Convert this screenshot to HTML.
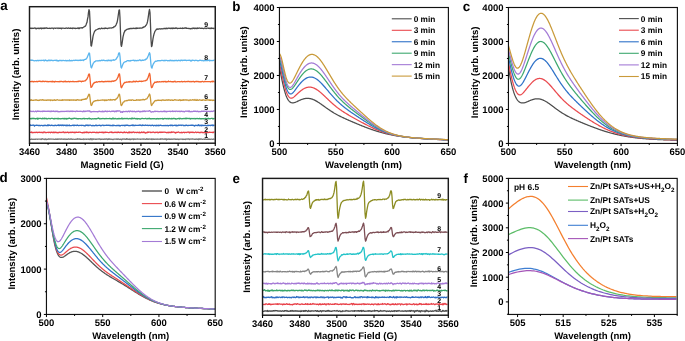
<!DOCTYPE html>
<html><head><meta charset="utf-8"><style>html,body{margin:0;padding:0;background:#fff;overflow:hidden}svg{display:block;will-change:transform;text-rendering:geometricPrecision;filter:blur(0.3px)}</style></head>
<body>
<svg width="685" height="341" viewBox="0 0 685 341" style="font-family:'Liberation Sans', sans-serif;font-weight:bold">
<rect width="685" height="341" fill="#fff"/>
<text x="0.3" y="10" font-size="13.4" text-anchor="start" >a</text>
<text x="232.3" y="10.6" font-size="13.4" text-anchor="start" >b</text>
<text x="462.7" y="10.6" font-size="13.4" text-anchor="start" >c</text>
<text x="-0.4" y="182.4" font-size="13.4" text-anchor="start" >d</text>
<text x="232.5" y="182.6" font-size="13.4" text-anchor="start" >e</text>
<text x="463.5" y="183.2" font-size="13.4" text-anchor="start" >f</text>
<path d="M30,139.28 L30.5,139.38 L31,139.27 L31.5,138.91 L32,139.4 L32.5,139.3 L33,139.08 L33.5,139.33 L34,139.28 L34.5,139.26 L35,139.21 L35.5,139.32 L36,139.04 L36.5,139.16 L37,139.09 L37.5,139.33 L38,139.21 L38.5,139.14 L39,139.03 L39.5,139.14 L40,139.2 L40.5,139.14 L41,139.48 L41.5,139.42 L42,138.6 L42.5,138.78 L43,139.16 L43.5,139.11 L44,139.25 L44.5,139.25 L45,139.67 L45.5,138.96 L46,139.12 L46.5,139.65 L47,139.34 L47.5,139.35 L48,139.09 L48.5,138.84 L49,139.24 L49.5,139.22 L50,138.93 L50.5,139.05 L51,139.18 L51.5,138.99 L52,139.18 L52.5,139.22 L53,139.21 L53.5,139.09 L54,139.33 L54.5,139.4 L55,139.27 L55.5,139.02 L56,139.36 L56.5,139.09 L57,139.39 L57.5,138.96 L58,139.4 L58.5,139.2 L59,138.93 L59.5,139.13 L60,139.21 L60.5,139.26 L61,138.98 L61.5,138.96 L62,139.24 L62.5,139.1 L63,139.25 L63.5,139.37 L64,138.84 L64.5,139.26 L65,139.47 L65.5,139.13 L66,139.02 L66.5,139.37 L67,139.26 L67.5,139.4 L68,139.12 L68.5,138.87 L69,139.18 L69.5,139.1 L70,139.37 L70.5,139.24 L71,138.84 L71.5,138.94 L72,139.39 L72.5,139.35 L73,139.06 L73.5,139.2 L74,139.3 L74.5,139.3 L75,139.39 L75.5,139.26 L76,139.18 L76.5,139.14 L77,139.43 L77.5,138.7 L78,139.17 L78.5,139.21 L79,138.89 L79.5,139.27 L80,139.06 L80.5,139.39 L81,139.17 L81.5,139.35 L82,139.47 L82.5,139.28 L83,139.01 L83.5,138.87 L84,139.59 L84.5,139.18 L85,139.05 L85.5,139.23 L86,139.16 L86.5,139.39 L87,139.21 L87.5,139.2 L88,139.04 L88.5,139.3 L89,138.97 L89.5,139.35 L90,139.54 L90.5,138.86 L91,138.66 L91.5,139.34 L92,139.76 L92.5,138.98 L93,138.92 L93.5,139.33 L94,139.02 L94.5,139.09 L95,139.12 L95.5,139.32 L96,139.11 L96.5,139.26 L97,139.16 L97.5,139.01 L98,139.13 L98.5,138.99 L99,139.2 L99.5,138.95 L100,138.96 L100.5,139.52 L101,139.19 L101.5,139.19 L102,139.31 L102.5,139.11 L103,139.15 L103.5,139.29 L104,139.26 L104.5,138.94 L105,139.38 L105.5,139.07 L106,138.97 L106.5,139 L107,139.11 L107.5,139.56 L108,138.94 L108.5,139.24 L109,138.73 L109.5,139.2 L110,139.4 L110.5,139.15 L111,139.06 L111.5,139.25 L112,139.35 L112.5,139.35 L113,139.63 L113.5,139.25 L114,139.07 L114.5,139.17 L115,139.18 L115.5,139.22 L116,139.19 L116.5,139.24 L117,138.83 L117.5,139.38 L118,139.07 L118.5,138.94 L119,139.34 L119.5,139.49 L120,139.31 L120.5,139.24 L121,138.99 L121.5,139.83 L122,139.39 L122.5,138.95 L123,139.03 L123.5,139.22 L124,138.86 L124.5,139.24 L125,139.1 L125.5,139.47 L126,139.41 L126.5,138.6 L127,139.21 L127.5,138.84 L128,139.44 L128.5,139.24 L129,139.32 L129.5,138.97 L130,139.6 L130.5,139.64 L131,138.97 L131.5,139.28 L132,139.05 L132.5,139.19 L133,138.92 L133.5,139.61 L134,138.99 L134.5,139.13 L135,139.31 L135.5,139.06 L136,139.15 L136.5,139.08 L137,139.17 L137.5,138.94 L138,139.1 L138.5,139.15 L139,139.13 L139.5,139.21 L140,139.14 L140.5,139.37 L141,139.13 L141.5,139.17 L142,139.05 L142.5,139.08 L143,138.92 L143.5,139.31 L144,138.95 L144.5,139.04 L145,139.28 L145.5,139.29 L146,139.11 L146.5,138.76 L147,139.29 L147.5,139.26 L148,138.89 L148.5,139.37 L149,139.05 L149.5,138.95 L150,139.22 L150.5,139.16 L151,139.24 L151.5,138.85 L152,139.6 L152.5,139.07 L153,138.86 L153.5,139.34 L154,139.12 L154.5,139.27 L155,139.13 L155.5,139.19 L156,139.25 L156.5,139.04 L157,139.35 L157.5,139.1 L158,139.01 L158.5,139.22 L159,139.3 L159.5,139.15 L160,139.01 L160.5,139.34 L161,138.81 L161.5,138.97 L162,139.21 L162.5,138.9 L163,139.21 L163.5,139.19 L164,139.4 L164.5,139 L165,139.06 L165.5,139.27 L166,138.66 L166.5,139.88 L167,139.05 L167.5,139.04 L168,139.39 L168.5,139.19 L169,138.81 L169.5,139.34 L170,139.39 L170.5,139.1 L171,139.14 L171.5,139.31 L172,139 L172.5,139.3 L173,139.24 L173.5,139.05 L174,138.89 L174.5,139.15 L175,139.01 L175.5,139.42 L176,139.23 L176.5,139.37 L177,139.23 L177.5,139.26 L178,139.03 L178.5,139.35 L179,139.59 L179.5,139.13 L180,139.07 L180.5,139.17 L181,139.09 L181.5,139.05 L182,139.23 L182.5,139.14 L183,139.52 L183.5,139.2 L184,139.27 L184.5,139.41 L185,139.13 L185.5,139.52 L186,139.06 L186.5,139.02 L187,139.12 L187.5,139.17 L188,138.89 L188.5,139.19 L189,138.83 L189.5,139.51 L190,139.18 L190.5,139.06 L191,139 L191.5,139.12 L192,139.15 L192.5,138.97 L193,139 L193.5,139.16 L194,139.09 L194.5,139.41 L195,139.45 L195.5,139.2 L196,139.3 L196.5,138.91 L197,139.34 L197.5,139.19 L198,139.31 L198.5,139.55 L199,138.7 L199.5,139.26 L200,138.96 L200.5,139.33 L201,138.91 L201.5,139.09 L202,139.24 L202.5,139.33 L203,139.22 L203.5,139.03 L204,139.08 L204.5,139.39 L205,139.2 L205.5,138.83 L206,139.39 L206.5,139.29 L207,139.39 L207.5,139.13 L208,139.38 L208.5,138.97 L209,139.33 L209.5,139.09 L210,139.35 L210.5,139.42 L211,139.04 L211.5,139.19 L212,139.21 L212.5,139.46 L213,139.36 L213.5,138.93 L214,139.3 L214.5,139.36" stroke="#7a7a7a" stroke-width="1.3" fill="none" stroke-linejoin="round"/>
<path d="M30,132.44 L30.5,132.28 L31,132.31 L31.5,131.86 L32,132.8 L32.5,132.65 L33,132.33 L33.5,132.57 L34,132.46 L34.5,132.28 L35,132.62 L35.5,132.33 L36,132.33 L36.5,132.23 L37,132.5 L37.5,132.38 L38,132.52 L38.5,132.27 L39,132.43 L39.5,132.2 L40,132.59 L40.5,132.44 L41,132.47 L41.5,132.49 L42,132.18 L42.5,132.57 L43,132.85 L43.5,132.04 L44,132.02 L44.5,132.07 L45,132.59 L45.5,132.43 L46,132.64 L46.5,132.56 L47,132.45 L47.5,132.46 L48,132.36 L48.5,132.59 L49,132.15 L49.5,132.31 L50,132.45 L50.5,132.8 L51,132.23 L51.5,132.16 L52,132.28 L52.5,132.61 L53,132.35 L53.5,132.69 L54,131.99 L54.5,132.65 L55,132.63 L55.5,132.09 L56,132.43 L56.5,132.67 L57,132.42 L57.5,132.62 L58,132.92 L58.5,132.46 L59,132.34 L59.5,132.23 L60,132.54 L60.5,132.36 L61,132.36 L61.5,132.38 L62,132.54 L62.5,132.17 L63,132.06 L63.5,131.86 L64,132.66 L64.5,132.42 L65,132.73 L65.5,132.4 L66,132.24 L66.5,132.51 L67,132.38 L67.5,132.12 L68,132.21 L68.5,132.79 L69,132.48 L69.5,132.49 L70,132.34 L70.5,132.25 L71,132.6 L71.5,132.38 L72,132.23 L72.5,132.37 L73,132.2 L73.5,132.44 L74,132.65 L74.5,132.22 L75,132.71 L75.5,132.25 L76,132.43 L76.5,132.22 L77,132.35 L77.5,132.41 L78,132.3 L78.5,132.25 L79,132.25 L79.5,132.22 L80,132.05 L80.5,132.34 L81,132.49 L81.5,132.6 L82,132.54 L82.5,132.94 L83,132.47 L83.5,132.3 L84,132.81 L84.5,132.17 L85,132.61 L85.5,132.19 L86,132.48 L86.5,131.97 L87,132.6 L87.5,132.37 L88,132.19 L88.5,132.77 L89,132.57 L89.5,132.41 L90,132.24 L90.5,132.39 L91,132.36 L91.5,132.56 L92,132.58 L92.5,132.25 L93,132.28 L93.5,132.28 L94,132.1 L94.5,132.27 L95,132.38 L95.5,132.55 L96,132.69 L96.5,132.22 L97,132.52 L97.5,132.3 L98,132.86 L98.5,132.39 L99,132.51 L99.5,132.19 L100,132.22 L100.5,132.44 L101,132.32 L101.5,132.48 L102,132.06 L102.5,132.55 L103,132.2 L103.5,132.78 L104,132.34 L104.5,132.64 L105,132.09 L105.5,132.49 L106,132.2 L106.5,132.29 L107,132.41 L107.5,132.33 L108,132.46 L108.5,132.56 L109,132.54 L109.5,132.38 L110,132.1 L110.5,132.22 L111,132.36 L111.5,131.93 L112,132.57 L112.5,132.35 L113,132.34 L113.5,132.61 L114,132.55 L114.5,132.45 L115,132.18 L115.5,132.47 L116,132.48 L116.5,132.21 L117,132.63 L117.5,132.51 L118,131.97 L118.5,132.43 L119,132.12 L119.5,132.65 L120,132.58 L120.5,132.16 L121,132.21 L121.5,132.42 L122,132.35 L122.5,132.74 L123,132.56 L123.5,132.34 L124,132.53 L124.5,131.95 L125,132.47 L125.5,132.59 L126,132.36 L126.5,132.24 L127,132.52 L127.5,132.83 L128,132.45 L128.5,132.15 L129,132.72 L129.5,131.99 L130,132.51 L130.5,132.27 L131,132.6 L131.5,132.21 L132,132.69 L132.5,132.47 L133,132.02 L133.5,131.97 L134,132.33 L134.5,132.68 L135,132.43 L135.5,132.41 L136,132.35 L136.5,132.56 L137,132.48 L137.5,132.46 L138,132.18 L138.5,132.66 L139,132.7 L139.5,132.11 L140,132.91 L140.5,132.56 L141,132.29 L141.5,131.98 L142,132.54 L142.5,132.52 L143,132.27 L143.5,132.01 L144,132.65 L144.5,132.27 L145,132.3 L145.5,133.03 L146,132.87 L146.5,132.61 L147,132.3 L147.5,132.54 L148,131.9 L148.5,132.42 L149,132.23 L149.5,132.12 L150,132.05 L150.5,132.52 L151,132.42 L151.5,132.44 L152,132.59 L152.5,132.21 L153,132.13 L153.5,132.01 L154,132.33 L154.5,132.57 L155,132.37 L155.5,132.54 L156,132.14 L156.5,132.3 L157,132.23 L157.5,132.13 L158,132.81 L158.5,132.59 L159,132.23 L159.5,132.23 L160,132.39 L160.5,132.08 L161,132.5 L161.5,132.12 L162,132.32 L162.5,132.17 L163,132.29 L163.5,132.11 L164,132.05 L164.5,132.19 L165,132.25 L165.5,132.34 L166,132.42 L166.5,132.74 L167,132.58 L167.5,132.34 L168,132.56 L168.5,132.25 L169,132.72 L169.5,132.52 L170,132.1 L170.5,132.57 L171,132.58 L171.5,131.81 L172,132.24 L172.5,132.3 L173,131.98 L173.5,132.17 L174,132.19 L174.5,132.51 L175,132.47 L175.5,132.98 L176,132.31 L176.5,132.65 L177,132.42 L177.5,132.46 L178,132.14 L178.5,131.98 L179,132.23 L179.5,132.57 L180,132.75 L180.5,132.53 L181,132.51 L181.5,132.22 L182,132.74 L182.5,132.7 L183,132.28 L183.5,132.39 L184,132.18 L184.5,132.72 L185,132.49 L185.5,132.38 L186,132.49 L186.5,132.5 L187,132.31 L187.5,132.13 L188,132.12 L188.5,132.02 L189,132.5 L189.5,132.89 L190,132.03 L190.5,132.43 L191,132.49 L191.5,132.18 L192,132.44 L192.5,132.16 L193,132.66 L193.5,132.27 L194,132.42 L194.5,132.55 L195,132.31 L195.5,132.01 L196,132.28 L196.5,132.57 L197,132.38 L197.5,132.45 L198,132.16 L198.5,132.43 L199,132.56 L199.5,132.41 L200,132.82 L200.5,132.35 L201,132.17 L201.5,132.04 L202,132.65 L202.5,132.39 L203,132.62 L203.5,132.5 L204,132.76 L204.5,132.68 L205,132.32 L205.5,132.46 L206,132.64 L206.5,132.13 L207,132.72 L207.5,132.67 L208,132.62 L208.5,132.36 L209,132.47 L209.5,132.15 L210,132.41 L210.5,132.27 L211,132.42 L211.5,132.29 L212,132.46 L212.5,132.66 L213,132.11 L213.5,132.6 L214,131.96 L214.5,131.92" stroke="#e8424a" stroke-width="1.3" fill="none" stroke-linejoin="round"/>
<path d="M30,125.85 L30.5,124.84 L31,125.49 L31.5,125.28 L32,125.3 L32.5,125.35 L33,124.96 L33.5,125.35 L34,125.21 L34.5,126.13 L35,125.45 L35.5,125.32 L36,125.34 L36.5,125.25 L37,125.17 L37.5,125.31 L38,125.51 L38.5,125.35 L39,125.61 L39.5,125.36 L40,125.41 L40.5,125.74 L41,125.52 L41.5,125.29 L42,125.36 L42.5,125.52 L43,125.83 L43.5,125.34 L44,125.35 L44.5,125.62 L45,125.2 L45.5,125.34 L46,125.59 L46.5,125.53 L47,125.42 L47.5,125.55 L48,124.78 L48.5,125.62 L49,125.19 L49.5,125.03 L50,125.46 L50.5,125.55 L51,125.3 L51.5,125.16 L52,125.41 L52.5,125.39 L53,125.71 L53.5,125.56 L54,125.44 L54.5,125.64 L55,125.35 L55.5,125.2 L56,125.53 L56.5,125.53 L57,125.35 L57.5,125.23 L58,125.45 L58.5,124.85 L59,125.55 L59.5,125.51 L60,125.04 L60.5,125.41 L61,125.19 L61.5,125.57 L62,124.95 L62.5,125.2 L63,125.56 L63.5,125.65 L64,124.93 L64.5,125.29 L65,125.47 L65.5,125.27 L66,125.75 L66.5,125.14 L67,125.48 L67.5,125.17 L68,125.71 L68.5,125.4 L69,125.32 L69.5,125.02 L70,125.77 L70.5,125.57 L71,125.57 L71.5,125.65 L72,125.48 L72.5,125.26 L73,125.22 L73.5,125.22 L74,125.7 L74.5,125.08 L75,125.27 L75.5,125.33 L76,125.45 L76.5,125.53 L77,125.13 L77.5,125.02 L78,125.4 L78.5,125.67 L79,125.57 L79.5,125.45 L80,125.33 L80.5,125.46 L81,125.35 L81.5,125.58 L82,125.23 L82.5,125.43 L83,125.38 L83.5,125.52 L84,125.45 L84.5,125.96 L85,125.73 L85.5,125.73 L86,124.95 L86.5,125.33 L87,125.27 L87.5,125.52 L88,124.9 L88.5,125.66 L89,125.63 L89.5,125.11 L90,125.18 L90.5,125.22 L91,125.41 L91.5,125.54 L92,125.85 L92.5,125.36 L93,125.57 L93.5,125.43 L94,125.79 L94.5,125.56 L95,125.7 L95.5,125.16 L96,125.36 L96.5,125.22 L97,125.73 L97.5,125.54 L98,125.33 L98.5,125.3 L99,125.51 L99.5,125.25 L100,125.2 L100.5,125.51 L101,125.94 L101.5,125.35 L102,125.28 L102.5,125.14 L103,125.11 L103.5,125.52 L104,125.59 L104.5,125.4 L105,125.47 L105.5,125.43 L106,125.43 L106.5,125.06 L107,125.3 L107.5,125.42 L108,125.23 L108.5,125.3 L109,125.22 L109.5,125.33 L110,125.59 L110.5,125.31 L111,125.37 L111.5,125.58 L112,125.54 L112.5,125.77 L113,124.94 L113.5,125.59 L114,125.29 L114.5,125.43 L115,125.58 L115.5,125.64 L116,125.63 L116.5,125.43 L117,125.75 L117.5,125.34 L118,125.37 L118.5,125.58 L119,125.28 L119.5,125.88 L120,125.62 L120.5,125.88 L121,125.39 L121.5,125.32 L122,125.44 L122.5,125.56 L123,125.27 L123.5,125.48 L124,125.4 L124.5,125.76 L125,125.25 L125.5,125.63 L126,125.26 L126.5,125.19 L127,125.24 L127.5,125.14 L128,125.43 L128.5,125.63 L129,125.44 L129.5,125.54 L130,125.76 L130.5,125.46 L131,125.44 L131.5,125.34 L132,125.05 L132.5,125.57 L133,125.01 L133.5,125.54 L134,125.4 L134.5,125.65 L135,125.39 L135.5,125.22 L136,125.48 L136.5,125.28 L137,125.36 L137.5,125.41 L138,125.37 L138.5,125.36 L139,125.22 L139.5,125.36 L140,124.93 L140.5,125.37 L141,125.14 L141.5,125.65 L142,125.68 L142.5,124.97 L143,125.43 L143.5,125.37 L144,125.17 L144.5,125.52 L145,125.3 L145.5,125.01 L146,125.34 L146.5,125.37 L147,125.42 L147.5,125.13 L148,125.54 L148.5,125.56 L149,125.15 L149.5,125.26 L150,125.38 L150.5,125.28 L151,125.78 L151.5,125.45 L152,125.18 L152.5,125.23 L153,125.39 L153.5,125.91 L154,125.36 L154.5,125.43 L155,125.51 L155.5,125.39 L156,125.9 L156.5,125.28 L157,125.56 L157.5,125.44 L158,125.54 L158.5,125.14 L159,125.79 L159.5,125.37 L160,125.41 L160.5,125.19 L161,125.24 L161.5,125.52 L162,125.62 L162.5,125.57 L163,125.67 L163.5,125.56 L164,125.41 L164.5,125.58 L165,125.53 L165.5,125.38 L166,125.56 L166.5,125.68 L167,125.45 L167.5,125.32 L168,125.56 L168.5,125.82 L169,125.35 L169.5,125.38 L170,125.37 L170.5,125.67 L171,125 L171.5,125.48 L172,125.66 L172.5,125.22 L173,125.73 L173.5,125.52 L174,125.28 L174.5,125.44 L175,125.06 L175.5,125.28 L176,125.8 L176.5,125.2 L177,125.81 L177.5,125.38 L178,125.62 L178.5,125.41 L179,124.91 L179.5,125.27 L180,125.44 L180.5,125.15 L181,125.1 L181.5,125.48 L182,125.26 L182.5,125.03 L183,125.25 L183.5,125.59 L184,125.3 L184.5,125.61 L185,125.74 L185.5,125.41 L186,125.15 L186.5,125.11 L187,125.39 L187.5,125.59 L188,125.46 L188.5,125.52 L189,125.3 L189.5,125.47 L190,125.3 L190.5,125.33 L191,125.12 L191.5,125.05 L192,125.29 L192.5,125.16 L193,125.19 L193.5,125.55 L194,125.38 L194.5,126.04 L195,125.6 L195.5,125.26 L196,125.57 L196.5,125.48 L197,125.25 L197.5,125.64 L198,125.23 L198.5,124.73 L199,125.57 L199.5,125.26 L200,125.73 L200.5,125.26 L201,125.14 L201.5,125.74 L202,125.16 L202.5,125.44 L203,125.72 L203.5,125.43 L204,125.38 L204.5,125.42 L205,125.58 L205.5,125.22 L206,125.53 L206.5,125.53 L207,125.91 L207.5,125.33 L208,125.2 L208.5,125.56 L209,125.31 L209.5,125.46 L210,125.43 L210.5,125.66 L211,125.26 L211.5,125.38 L212,124.84 L212.5,125.2 L213,125.74 L213.5,125.25 L214,125.25 L214.5,125.13" stroke="#2f6fc4" stroke-width="1.3" fill="none" stroke-linejoin="round"/>
<path d="M30,118.46 L30.5,118.56 L31,118.97 L31.5,118.75 L32,118.24 L32.5,118.6 L33,118.46 L33.5,118.63 L34,118.25 L34.5,118.65 L35,118.65 L35.5,118.95 L36,118.67 L36.5,118.71 L37,118.27 L37.5,119.1 L38,118.18 L38.5,118.84 L39,118.53 L39.5,118.41 L40,118.46 L40.5,118.45 L41,118.68 L41.5,118.58 L42,118.93 L42.5,118.2 L43,118.6 L43.5,118.4 L44,118.77 L44.5,118.13 L45,118.52 L45.5,118.65 L46,118.27 L46.5,118.82 L47,118.64 L47.5,118.82 L48,118.81 L48.5,118.38 L49,118.42 L49.5,118.56 L50,118.76 L50.5,118.79 L51,118.44 L51.5,118.47 L52,118.42 L52.5,118.47 L53,118.55 L53.5,118.57 L54,119.05 L54.5,118.49 L55,118.54 L55.5,118.7 L56,118.39 L56.5,118.52 L57,118.6 L57.5,118.77 L58,118.31 L58.5,118.9 L59,118.52 L59.5,118.64 L60,118.79 L60.5,118.75 L61,118.83 L61.5,118.64 L62,118.6 L62.5,118.67 L63,118.38 L63.5,118.87 L64,118.43 L64.5,118.32 L65,119.05 L65.5,118.57 L66,118.34 L66.5,119.01 L67,118.53 L67.5,118.83 L68,118.42 L68.5,118.55 L69,118.23 L69.5,118.18 L70,118.39 L70.5,118.58 L71,118.78 L71.5,119.13 L72,118.37 L72.5,118.82 L73,118.47 L73.5,118.57 L74,118.27 L74.5,118.27 L75,118.43 L75.5,118.34 L76,118.6 L76.5,118.45 L77,118.88 L77.5,118.63 L78,118.64 L78.5,118.85 L79,118.71 L79.5,118.59 L80,118.58 L80.5,118.57 L81,118.84 L81.5,118.77 L82,118.68 L82.5,118.78 L83,118.48 L83.5,118.71 L84,118.29 L84.5,118.9 L85,118.62 L85.5,118.64 L86,118.73 L86.5,118.6 L87,118.54 L87.5,118.86 L88,118.63 L88.5,118.4 L89,118.7 L89.5,118.22 L90,118.96 L90.5,118.56 L91,118.61 L91.5,119.1 L92,119.07 L92.5,118.63 L93,118.74 L93.5,118.84 L94,118.97 L94.5,118.57 L95,118.63 L95.5,118.87 L96,118.66 L96.5,118.77 L97,118.73 L97.5,118.35 L98,118.41 L98.5,118.02 L99,118.54 L99.5,118.89 L100,118.36 L100.5,118.87 L101,118.82 L101.5,118.59 L102,118.6 L102.5,118.62 L103,118.41 L103.5,118.54 L104,118.59 L104.5,118.73 L105,118.77 L105.5,118.44 L106,118.78 L106.5,118.43 L107,118.56 L107.5,118.68 L108,118.6 L108.5,118.57 L109,118.66 L109.5,118.48 L110,118.46 L110.5,118.56 L111,118.81 L111.5,118.58 L112,119.02 L112.5,118.65 L113,117.95 L113.5,118.5 L114,118.97 L114.5,118.6 L115,118.5 L115.5,118.41 L116,118.89 L116.5,118.82 L117,118.75 L117.5,118.69 L118,118.92 L118.5,118.78 L119,118.33 L119.5,118.77 L120,118.64 L120.5,118.58 L121,118.77 L121.5,118.61 L122,117.95 L122.5,118.94 L123,118.83 L123.5,118.57 L124,118.52 L124.5,118.65 L125,118.32 L125.5,118.67 L126,118.55 L126.5,118.52 L127,118.4 L127.5,118.45 L128,118.84 L128.5,118.89 L129,118.71 L129.5,118.59 L130,118.41 L130.5,118.76 L131,118.95 L131.5,118.24 L132,118.86 L132.5,118.12 L133,118.53 L133.5,118.68 L134,118.3 L134.5,118.27 L135,118.64 L135.5,118.79 L136,118.5 L136.5,118.9 L137,118.43 L137.5,118.99 L138,118.63 L138.5,118.65 L139,118.74 L139.5,118.67 L140,119.01 L140.5,119.09 L141,118.72 L141.5,118.56 L142,118.34 L142.5,118.43 L143,118.6 L143.5,118.58 L144,118.59 L144.5,118.6 L145,118.71 L145.5,118.3 L146,118.37 L146.5,118.85 L147,118.78 L147.5,118.48 L148,118.88 L148.5,118.45 L149,118.54 L149.5,118.2 L150,118.79 L150.5,118.6 L151,118.84 L151.5,118.76 L152,118.62 L152.5,118.64 L153,118.86 L153.5,118.57 L154,118.57 L154.5,118.62 L155,118.78 L155.5,118.81 L156,119.03 L156.5,118.59 L157,118.88 L157.5,118.46 L158,118.74 L158.5,118.64 L159,118.99 L159.5,118.74 L160,118.51 L160.5,118.74 L161,118.69 L161.5,118.54 L162,118.55 L162.5,118.4 L163,119.22 L163.5,118.64 L164,118.82 L164.5,118.35 L165,118.37 L165.5,118.58 L166,118.58 L166.5,118.79 L167,118.39 L167.5,118.73 L168,118.94 L168.5,118.41 L169,118.81 L169.5,118.4 L170,118.69 L170.5,118.69 L171,118.99 L171.5,118.46 L172,118.65 L172.5,118.84 L173,118.35 L173.5,118.61 L174,118.42 L174.5,118.46 L175,118.76 L175.5,118.77 L176,119.18 L176.5,118.91 L177,118.89 L177.5,118.57 L178,118.54 L178.5,118.64 L179,118.11 L179.5,118.98 L180,118.46 L180.5,118.38 L181,118.51 L181.5,118.8 L182,118.88 L182.5,118.53 L183,118.7 L183.5,118.6 L184,118.39 L184.5,118.64 L185,118.61 L185.5,118.27 L186,118.85 L186.5,118.26 L187,118.66 L187.5,118.37 L188,118.43 L188.5,118.45 L189,118.76 L189.5,118.33 L190,118.56 L190.5,118.95 L191,118.45 L191.5,118.6 L192,118.75 L192.5,118.48 L193,118.71 L193.5,118.46 L194,118.76 L194.5,118.62 L195,118.4 L195.5,118.91 L196,118.58 L196.5,118.54 L197,118.4 L197.5,118.5 L198,118.58 L198.5,118.64 L199,118.84 L199.5,118.31 L200,118.53 L200.5,118.87 L201,118.64 L201.5,118.69 L202,118.95 L202.5,118.68 L203,118.71 L203.5,118.59 L204,118.99 L204.5,118.83 L205,118.44 L205.5,118.72 L206,118.35 L206.5,118.84 L207,118.75 L207.5,118.57 L208,118.51 L208.5,118.21 L209,118.77 L209.5,118.58 L210,118.53 L210.5,118.76 L211,118.45 L211.5,118.47 L212,118.45 L212.5,118.3 L213,119.13 L213.5,118.56 L214,118.52 L214.5,118.8" stroke="#3aa56a" stroke-width="1.3" fill="none" stroke-linejoin="round"/>
<path d="M30,111.22 L30.5,111.11 L31,111.35 L31.5,111.49 L32,111.65 L32.5,111.42 L33,111.28 L33.5,111.23 L34,111.56 L34.5,111.76 L35,111.46 L35.5,111.13 L36,111.19 L36.5,111.75 L37,111.44 L37.5,111.02 L38,111.38 L38.5,111.14 L39,111.26 L39.5,111.29 L40,111.24 L40.5,111.52 L41,111.39 L41.5,111.27 L42,111.49 L42.5,111.58 L43,111.04 L43.5,111.34 L44,111.18 L44.5,111.36 L45,111.12 L45.5,111.4 L46,111.39 L46.5,111.33 L47,111.17 L47.5,111.31 L48,111.16 L48.5,111.1 L49,111.45 L49.5,111.16 L50,111.66 L50.5,111.56 L51,110.96 L51.5,111.46 L52,111.16 L52.5,111.41 L53,111.41 L53.5,110.96 L54,111.35 L54.5,111.34 L55,111.61 L55.5,111.14 L56,111.56 L56.5,111.16 L57,111.33 L57.5,111.21 L58,111.72 L58.5,111.52 L59,111.93 L59.5,111.54 L60,111.59 L60.5,111.58 L61,111.27 L61.5,111.38 L62,111.7 L62.5,111.31 L63,111.44 L63.5,111.39 L64,111.53 L64.5,111.32 L65,111.37 L65.5,111.45 L66,111.42 L66.5,111.21 L67,111.6 L67.5,111.11 L68,111.13 L68.5,111.12 L69,111.61 L69.5,111.32 L70,111.18 L70.5,111.15 L71,111.49 L71.5,111.17 L72,111.12 L72.5,111.53 L73,111.13 L73.5,111.33 L74,111.4 L74.5,111.3 L75,111.38 L75.5,111.69 L76,111.28 L76.5,111.12 L77,110.99 L77.5,111.35 L78,111.32 L78.5,111.45 L79,111.29 L79.5,111.29 L80,111.23 L80.5,111.27 L81,111.42 L81.5,111.3 L82,111.4 L82.5,111.8 L83,111.48 L83.5,111.02 L84,111.74 L84.5,111.42 L85,111.13 L85.5,111.52 L86,111.29 L86.5,111.12 L87,111.06 L87.5,110.91 L88,111.04 L88.5,111.14 L89,110.74 L89.5,110.94 L90,111.58 L90.5,111.38 L91,112.01 L91.5,111.92 L92,111.65 L92.5,111.54 L93,111.66 L93.5,111.69 L94,111.43 L94.5,111.52 L95,111.64 L95.5,111.53 L96,111.64 L96.5,111.54 L97,111.54 L97.5,111.83 L98,111.56 L98.5,111.45 L99,111.57 L99.5,111.21 L100,111.34 L100.5,111.58 L101,111.55 L101.5,111.75 L102,111.41 L102.5,111.08 L103,111.83 L103.5,111.64 L104,111.17 L104.5,111.7 L105,111.41 L105.5,111 L106,111.31 L106.5,111.29 L107,111.75 L107.5,111.22 L108,111.34 L108.5,111.33 L109,111.31 L109.5,111.19 L110,111.44 L110.5,111.63 L111,111.52 L111.5,111.18 L112,111.13 L112.5,111.4 L113,111.22 L113.5,111.23 L114,110.99 L114.5,111.78 L115,111.54 L115.5,111.11 L116,111.5 L116.5,111.56 L117,110.69 L117.5,111.02 L118,110.97 L118.5,111.07 L119,110.8 L119.5,110.78 L120,111.08 L120.5,111.97 L121,112.4 L121.5,111.88 L122,111.7 L122.5,112.38 L123,111.47 L123.5,111.48 L124,111.56 L124.5,111.62 L125,111.71 L125.5,111.55 L126,111.26 L126.5,111.55 L127,111.49 L127.5,111.84 L128,111.42 L128.5,111.12 L129,111.19 L129.5,111.73 L130,111.29 L130.5,110.95 L131,111.28 L131.5,111.41 L132,111.67 L132.5,111.18 L133,111.55 L133.5,111.58 L134,111.25 L134.5,111.36 L135,111.79 L135.5,111.78 L136,111.59 L136.5,111.47 L137,111.65 L137.5,111.37 L138,111.38 L138.5,111.21 L139,111.4 L139.5,111.38 L140,112 L140.5,111.35 L141,111.67 L141.5,111.68 L142,111.34 L142.5,111.64 L143,110.9 L143.5,111.39 L144,111.55 L144.5,110.83 L145,111.09 L145.5,111.56 L146,111.25 L146.5,111.04 L147,111.16 L147.5,111.07 L148,111.27 L148.5,111.1 L149,110.82 L149.5,110.65 L150,110.89 L150.5,111.58 L151,111.83 L151.5,112.13 L152,111.94 L152.5,111.57 L153,111.58 L153.5,111.79 L154,111.6 L154.5,111.33 L155,111.15 L155.5,111.5 L156,111.39 L156.5,111.37 L157,111.37 L157.5,111.49 L158,111.49 L158.5,111.63 L159,111.62 L159.5,111.71 L160,111.59 L160.5,111.34 L161,111.4 L161.5,111.52 L162,111.34 L162.5,111.53 L163,111.66 L163.5,111.23 L164,111.02 L164.5,111.67 L165,111.41 L165.5,111.56 L166,111.11 L166.5,111.78 L167,111.57 L167.5,111.37 L168,111.32 L168.5,111.43 L169,111.37 L169.5,111.34 L170,111.16 L170.5,111.68 L171,111.39 L171.5,111.42 L172,111.42 L172.5,110.88 L173,111.52 L173.5,111.33 L174,111.34 L174.5,111.42 L175,111.19 L175.5,111.59 L176,111.25 L176.5,111.2 L177,111.21 L177.5,111.44 L178,111.56 L178.5,111.27 L179,111.07 L179.5,111.63 L180,111.17 L180.5,111.66 L181,111.39 L181.5,111.25 L182,111.26 L182.5,111.5 L183,111.6 L183.5,111.36 L184,111.61 L184.5,111.86 L185,111.35 L185.5,111.15 L186,111.17 L186.5,111.09 L187,111.26 L187.5,111.24 L188,111.11 L188.5,111.52 L189,110.83 L189.5,111.11 L190,111.84 L190.5,111.63 L191,111.52 L191.5,111.5 L192,111.79 L192.5,111.52 L193,111.42 L193.5,111.13 L194,111.38 L194.5,111.24 L195,111.24 L195.5,111.24 L196,111.39 L196.5,111.33 L197,111.59 L197.5,111.11 L198,111.36 L198.5,111.81 L199,111.41 L199.5,111.66 L200,111.65 L200.5,111.69 L201,111.56 L201.5,111.1 L202,111.34 L202.5,111.32 L203,111.06 L203.5,111.3 L204,111.13 L204.5,111.03 L205,111.45 L205.5,111.39 L206,111.25 L206.5,111.19 L207,111.28 L207.5,111.31 L208,111.31 L208.5,111.39 L209,111.3 L209.5,111.49 L210,111.52 L210.5,111.48 L211,111.25 L211.5,111.26 L212,111.5 L212.5,111.36 L213,111.39 L213.5,110.85 L214,110.81 L214.5,111.47" stroke="#a57ad6" stroke-width="1.3" fill="none" stroke-linejoin="round"/>
<path d="M30,100.33 L30.5,100.49 L31,99.54 L31.5,100.07 L32,100.32 L32.5,100.4 L33,100.24 L33.5,100.43 L34,100.16 L34.5,100.22 L35,100.14 L35.5,99.86 L36,99.91 L36.5,100.18 L37,99.97 L37.5,100.38 L38,100.38 L38.5,100.49 L39,100.09 L39.5,100.4 L40,99.9 L40.5,99.92 L41,100.12 L41.5,100.16 L42,99.75 L42.5,99.72 L43,100.18 L43.5,99.91 L44,100.36 L44.5,100.19 L45,100.17 L45.5,100.14 L46,100.3 L46.5,100.06 L47,100.34 L47.5,99.98 L48,100.05 L48.5,99.95 L49,100.23 L49.5,100.11 L50,99.91 L50.5,100.54 L51,100.02 L51.5,100.07 L52,100.18 L52.5,100.48 L53,100.06 L53.5,100.25 L54,100.12 L54.5,99.77 L55,100.27 L55.5,100.32 L56,100.04 L56.5,100.09 L57,99.77 L57.5,99.76 L58,100.01 L58.5,100.23 L59,99.99 L59.5,100.16 L60,100.31 L60.5,100.12 L61,100.22 L61.5,100.41 L62,99.82 L62.5,100.26 L63,99.68 L63.5,100.19 L64,100.14 L64.5,99.97 L65,99.85 L65.5,100.08 L66,100 L66.5,100.11 L67,99.89 L67.5,100.21 L68,99.86 L68.5,100.02 L69,100 L69.5,100.36 L70,99.76 L70.5,99.99 L71,100.34 L71.5,99.94 L72,99.81 L72.5,100.14 L73,100.01 L73.5,100.26 L74,99.87 L74.5,100.11 L75,100.21 L75.5,100.29 L76,99.82 L76.5,100.37 L77,99.85 L77.5,99.71 L78,99.83 L78.5,100.06 L79,99.95 L79.5,100.1 L80,100.1 L80.5,100.05 L81,99.9 L81.5,100.33 L82,99.42 L82.5,99.49 L83,99.71 L83.5,99.49 L84,99.12 L84.5,99.41 L85,99.28 L85.5,98.72 L86,99.19 L86.5,98.93 L87,98.4 L87.5,97.28 L88,96.43 L88.5,94.94 L89,94.24 L89.5,94.46 L90,97.87 L90.5,102.22 L91,105.22 L91.5,105.47 L92,104.66 L92.5,102.97 L93,102.05 L93.5,101.9 L94,101.24 L94.5,101.14 L95,100.89 L95.5,100.7 L96,100.74 L96.5,100.57 L97,100.49 L97.5,100.13 L98,100.67 L98.5,100.28 L99,100.47 L99.5,100.28 L100,100.47 L100.5,100.21 L101,100.21 L101.5,100.18 L102,99.99 L102.5,100.01 L103,100.09 L103.5,100.09 L104,99.89 L104.5,100.62 L105,99.88 L105.5,100.02 L106,100.62 L106.5,99.93 L107,100.24 L107.5,100.21 L108,100.01 L108.5,99.73 L109,99.7 L109.5,100.02 L110,100.1 L110.5,99.52 L111,100.01 L111.5,99.81 L112,100.12 L112.5,99.93 L113,99.66 L113.5,99.69 L114,99.72 L114.5,99.91 L115,100.15 L115.5,99.39 L116,99.09 L116.5,98.88 L117,98.25 L117.5,97.71 L118,96.71 L118.5,95.44 L119,94.17 L119.5,94.41 L120,97.22 L120.5,101.59 L121,105.06 L121.5,105.6 L122,104.58 L122.5,103.91 L123,102.37 L123.5,102.2 L124,101.87 L124.5,101.07 L125,100.86 L125.5,100.92 L126,100.9 L126.5,100.59 L127,100.48 L127.5,100.57 L128,100.38 L128.5,100.02 L129,100.22 L129.5,100.24 L130,99.89 L130.5,100.29 L131,100.03 L131.5,100.35 L132,99.84 L132.5,99.96 L133,99.83 L133.5,100.43 L134,100.42 L134.5,100.46 L135,100.45 L135.5,100.32 L136,100.31 L136.5,99.74 L137,100.18 L137.5,99.99 L138,100.02 L138.5,99.81 L139,100.36 L139.5,100.09 L140,99.72 L140.5,100.14 L141,100 L141.5,99.76 L142,99.89 L142.5,99.76 L143,99.38 L143.5,99.5 L144,99.88 L144.5,99.75 L145,99.63 L145.5,99.16 L146,99.08 L146.5,98.94 L147,98.68 L147.5,97.78 L148,96.94 L148.5,96.35 L149,94.9 L149.5,94.03 L150,95 L150.5,98.88 L151,103.6 L151.5,105.49 L152,105.03 L152.5,103.83 L153,103.45 L153.5,102.62 L154,101.96 L154.5,101.47 L155,100.58 L155.5,100.5 L156,100.76 L156.5,100.46 L157,100.5 L157.5,100.26 L158,100.19 L158.5,100.42 L159,100.17 L159.5,100.24 L160,100.28 L160.5,100.25 L161,100.44 L161.5,100.48 L162,99.87 L162.5,100.1 L163,100.01 L163.5,100.31 L164,99.91 L164.5,100.31 L165,100.29 L165.5,100.26 L166,99.91 L166.5,100.08 L167,99.89 L167.5,100.21 L168,100.33 L168.5,99.78 L169,99.93 L169.5,100.08 L170,100 L170.5,100.44 L171,100.08 L171.5,100.17 L172,99.87 L172.5,100.45 L173,100.15 L173.5,100.28 L174,100.13 L174.5,99.64 L175,99.76 L175.5,99.82 L176,100.21 L176.5,99.99 L177,100.2 L177.5,100.17 L178,100.16 L178.5,100.31 L179,100.14 L179.5,99.74 L180,99.95 L180.5,100.47 L181,99.87 L181.5,100.4 L182,100.47 L182.5,99.97 L183,100.18 L183.5,99.79 L184,100.27 L184.5,99.93 L185,99.81 L185.5,100.02 L186,100 L186.5,99.97 L187,100.15 L187.5,100.07 L188,99.96 L188.5,100.31 L189,100.64 L189.5,100.12 L190,99.95 L190.5,99.88 L191,100.23 L191.5,100.05 L192,100.11 L192.5,99.66 L193,99.85 L193.5,99.85 L194,100.31 L194.5,100.04 L195,99.55 L195.5,100.21 L196,100.35 L196.5,100.39 L197,99.48 L197.5,100.13 L198,100.28 L198.5,100.23 L199,100.05 L199.5,99.7 L200,100.01 L200.5,100.03 L201,100.23 L201.5,100.24 L202,100.05 L202.5,100.29 L203,99.87 L203.5,99.95 L204,100.09 L204.5,100.23 L205,100.03 L205.5,100.37 L206,100.19 L206.5,99.89 L207,100.12 L207.5,99.91 L208,99.89 L208.5,99.79 L209,100.41 L209.5,100.3 L210,99.75 L210.5,100.35 L211,100.31 L211.5,100.02 L212,100.21 L212.5,100.59 L213,100.16 L213.5,100.19 L214,100.35 L214.5,99.87" stroke="#c9993a" stroke-width="1.3" fill="none" stroke-linejoin="round"/>
<path d="M30,81.6 L30.5,81.66 L31,81.54 L31.5,81.4 L32,81.5 L32.5,81.38 L33,81.61 L33.5,81.89 L34,81.49 L34.5,81.46 L35,81.71 L35.5,81.68 L36,81.62 L36.5,81.39 L37,81.59 L37.5,81.75 L38,81.3 L38.5,81.5 L39,81.18 L39.5,81.31 L40,81.19 L40.5,81.55 L41,81.32 L41.5,81.66 L42,81.63 L42.5,81.56 L43,81.04 L43.5,81.48 L44,81.59 L44.5,81.62 L45,81.26 L45.5,81.49 L46,81.38 L46.5,81.42 L47,81.83 L47.5,81.42 L48,81.59 L48.5,81.79 L49,81.47 L49.5,81.57 L50,81.62 L50.5,81.61 L51,81.33 L51.5,81.61 L52,81.9 L52.5,81.26 L53,81.79 L53.5,81.62 L54,81.45 L54.5,82.04 L55,81.76 L55.5,81.33 L56,81.61 L56.5,81.72 L57,81.55 L57.5,81.74 L58,81.58 L58.5,81.74 L59,81.91 L59.5,81.45 L60,81.64 L60.5,81.49 L61,81.62 L61.5,81.33 L62,81.46 L62.5,81.55 L63,81.79 L63.5,81.84 L64,81.3 L64.5,81.41 L65,81.73 L65.5,81.15 L66,81.49 L66.5,81.57 L67,81.86 L67.5,81.74 L68,81.51 L68.5,81.5 L69,81.53 L69.5,81.92 L70,81.49 L70.5,81.51 L71,81.65 L71.5,81.55 L72,81.53 L72.5,81.33 L73,81.57 L73.5,81.47 L74,81.82 L74.5,81.7 L75,81.55 L75.5,81.7 L76,81.47 L76.5,81.77 L77,81.53 L77.5,81.65 L78,81.23 L78.5,81.58 L79,81.12 L79.5,81.03 L80,81.39 L80.5,81.24 L81,81.45 L81.5,81.87 L82,81.16 L82.5,81.15 L83,81.28 L83.5,81.26 L84,81.01 L84.5,80.87 L85,80.88 L85.5,80.6 L86,79.91 L86.5,79.64 L87,78.97 L87.5,77.76 L88,76.72 L88.5,74.86 L89,73.94 L89.5,74.33 L90,78.53 L90.5,84.03 L91,87.3 L91.5,87.23 L92,86.37 L92.5,85.45 L93,83.88 L93.5,83.79 L94,82.69 L94.5,82.87 L95,82.26 L95.5,82.42 L96,82.14 L96.5,81.67 L97,82.2 L97.5,82.18 L98,81.8 L98.5,81.72 L99,81.71 L99.5,81.51 L100,81.94 L100.5,81.57 L101,81.66 L101.5,81.48 L102,81.51 L102.5,81.35 L103,81.9 L103.5,81.58 L104,81.82 L104.5,81.6 L105,81.44 L105.5,81.51 L106,81.45 L106.5,81.57 L107,81.48 L107.5,81.48 L108,81.24 L108.5,81.35 L109,81.88 L109.5,81.35 L110,81.25 L110.5,81.53 L111,81.74 L111.5,81.08 L112,81.32 L112.5,81.17 L113,80.87 L113.5,81.34 L114,81.07 L114.5,80.96 L115,80.61 L115.5,80.64 L116,80.1 L116.5,79.73 L117,78.87 L117.5,77.94 L118,77.23 L118.5,75.25 L119,73.96 L119.5,73.94 L120,77.37 L120.5,83.19 L121,87.12 L121.5,87.7 L122,86.82 L122.5,85.59 L123,84.78 L123.5,83.88 L124,83.25 L124.5,82.65 L125,82.19 L125.5,82.5 L126,82.35 L126.5,82 L127,82.07 L127.5,82.05 L128,82.01 L128.5,81.99 L129,81.66 L129.5,82.07 L130,81.44 L130.5,81.88 L131,81.78 L131.5,81.85 L132,82.06 L132.5,81.97 L133,81.38 L133.5,81.25 L134,81.79 L134.5,81.38 L135,81.6 L135.5,81.78 L136,81.22 L136.5,81.11 L137,81.62 L137.5,81.57 L138,81.49 L138.5,81.54 L139,81.33 L139.5,81.18 L140,81.46 L140.5,81.26 L141,81.09 L141.5,81.53 L142,81.37 L142.5,81.43 L143,81.07 L143.5,81.08 L144,80.92 L144.5,80.83 L145,80.93 L145.5,80.51 L146,80.49 L146.5,80.11 L147,79.95 L147.5,78.45 L148,77.89 L148.5,76.25 L149,74.64 L149.5,73.29 L150,74.92 L150.5,80.33 L151,85.27 L151.5,87.67 L152,87.41 L152.5,86.55 L153,85.08 L153.5,83.66 L154,83.31 L154.5,82.55 L155,81.93 L155.5,82.29 L156,82.52 L156.5,82.11 L157,81.74 L157.5,81.72 L158,82.12 L158.5,81.86 L159,81.8 L159.5,81.75 L160,81.75 L160.5,81.9 L161,81.83 L161.5,81.74 L162,81.45 L162.5,81.78 L163,81.51 L163.5,81.9 L164,81.37 L164.5,81.62 L165,81.64 L165.5,81.35 L166,82.01 L166.5,81.95 L167,81.53 L167.5,81.8 L168,81.71 L168.5,81.05 L169,81.68 L169.5,81.61 L170,81.64 L170.5,81.38 L171,81.56 L171.5,81.58 L172,81.87 L172.5,81.69 L173,81.61 L173.5,81.95 L174,81.49 L174.5,81.52 L175,81.21 L175.5,81.95 L176,81.82 L176.5,81.81 L177,81.75 L177.5,81.63 L178,81.65 L178.5,81.55 L179,81.56 L179.5,81.62 L180,81.94 L180.5,81.73 L181,81.59 L181.5,81.48 L182,81.46 L182.5,81.96 L183,81.72 L183.5,81.62 L184,81.53 L184.5,81.36 L185,81.59 L185.5,81.8 L186,81.52 L186.5,81.55 L187,81.55 L187.5,81.63 L188,81.25 L188.5,81.55 L189,81.41 L189.5,81.8 L190,81.43 L190.5,81.73 L191,81.94 L191.5,81.53 L192,81.47 L192.5,81.64 L193,81.6 L193.5,81.38 L194,81.7 L194.5,82.05 L195,81.55 L195.5,81.56 L196,81.37 L196.5,81.67 L197,81.33 L197.5,81.36 L198,81.88 L198.5,81.4 L199,81.84 L199.5,81.94 L200,81.66 L200.5,81.72 L201,82.03 L201.5,81.56 L202,81.47 L202.5,81.3 L203,81.61 L203.5,81.93 L204,81.81 L204.5,81.39 L205,81.41 L205.5,81.49 L206,81.67 L206.5,81.56 L207,81.65 L207.5,81.67 L208,81.54 L208.5,81.59 L209,81.65 L209.5,81.58 L210,81.71 L210.5,82.01 L211,81.73 L211.5,81.61 L212,81.23 L212.5,81.69 L213,81.17 L213.5,81.29 L214,81.79 L214.5,81.76" stroke="#f2642e" stroke-width="1.3" fill="none" stroke-linejoin="round"/>
<path d="M30,60.12 L30.5,60.2 L31,60.2 L31.5,60.42 L32,59.99 L32.5,60.46 L33,60.29 L33.5,60.7 L34,60.71 L34.5,60.81 L35,60.67 L35.5,60.49 L36,60.69 L36.5,60.83 L37,60.35 L37.5,60.63 L38,60.49 L38.5,60.82 L39,60.31 L39.5,60.43 L40,60.58 L40.5,60.56 L41,60.14 L41.5,60.58 L42,60.47 L42.5,60.45 L43,60.46 L43.5,60.55 L44,60.1 L44.5,60.84 L45,60.31 L45.5,60 L46,60.48 L46.5,60.82 L47,60.38 L47.5,60.84 L48,60.84 L48.5,60.31 L49,59.95 L49.5,60.23 L50,60.76 L50.5,60.32 L51,60.16 L51.5,60.2 L52,60.5 L52.5,60.49 L53,60.69 L53.5,60.71 L54,60.29 L54.5,60.46 L55,60.25 L55.5,60.51 L56,60.24 L56.5,60.23 L57,60.96 L57.5,60.5 L58,60.64 L58.5,61.05 L59,60.67 L59.5,60.47 L60,60.51 L60.5,60.33 L61,60.73 L61.5,60.42 L62,60.88 L62.5,60.42 L63,60.41 L63.5,60.4 L64,60.63 L64.5,60.53 L65,60.79 L65.5,60.37 L66,60.55 L66.5,60.91 L67,60.43 L67.5,60.6 L68,60.83 L68.5,60.61 L69,60.34 L69.5,60.03 L70,61.01 L70.5,60.57 L71,60.75 L71.5,60.37 L72,60.87 L72.5,60.58 L73,60.48 L73.5,60.27 L74,60.54 L74.5,60.35 L75,60.41 L75.5,60.09 L76,60.34 L76.5,60.47 L77,60.16 L77.5,60.44 L78,60.56 L78.5,60.34 L79,60.26 L79.5,60.24 L80,60.57 L80.5,60 L81,60.25 L81.5,60.19 L82,60.27 L82.5,60.18 L83,59.89 L83.5,60.5 L84,59.99 L84.5,59.52 L85,59.43 L85.5,59.4 L86,59.17 L86.5,58.26 L87,58.02 L87.5,56.59 L88,55.39 L88.5,54.14 L89,53 L89.5,53.16 L90,57.34 L90.5,63.88 L91,67.19 L91.5,67.9 L92,66.62 L92.5,65.28 L93,63.89 L93.5,62.87 L94,62.43 L94.5,61.59 L95,61.7 L95.5,61.14 L96,60.92 L96.5,60.92 L97,60.91 L97.5,60.98 L98,60.72 L98.5,60.88 L99,60.9 L99.5,60.63 L100,60.41 L100.5,60.81 L101,60.65 L101.5,60.11 L102,60.34 L102.5,60.58 L103,60.24 L103.5,60.38 L104,60.14 L104.5,60.6 L105,60.55 L105.5,60.53 L106,60.8 L106.5,60.4 L107,60.4 L107.5,60.9 L108,60.16 L108.5,60.59 L109,60.13 L109.5,60.45 L110,60.85 L110.5,60.42 L111,60.16 L111.5,60.83 L112,60.14 L112.5,60.17 L113,60.22 L113.5,59.78 L114,60.23 L114.5,60.21 L115,59.84 L115.5,59.52 L116,59.09 L116.5,58.86 L117,57.33 L117.5,57.08 L118,55.9 L118.5,53.82 L119,52.89 L119.5,52.82 L120,56.36 L120.5,62.58 L121,67.14 L121.5,68.06 L122,66.62 L122.5,65.3 L123,63.99 L123.5,63.08 L124,62.27 L124.5,62.13 L125,61.87 L125.5,61.67 L126,61.57 L126.5,61.35 L127,60.82 L127.5,60.71 L128,60.69 L128.5,60.86 L129,60.67 L129.5,60.88 L130,61 L130.5,60.52 L131,60.81 L131.5,60.49 L132,60.29 L132.5,60.28 L133,60.47 L133.5,60.12 L134,60.63 L134.5,60.85 L135,60.25 L135.5,60.42 L136,60.83 L136.5,60.56 L137,60.52 L137.5,60.41 L138,60.68 L138.5,60.51 L139,60.19 L139.5,59.88 L140,59.81 L140.5,60.52 L141,60.29 L141.5,60.64 L142,60.4 L142.5,59.97 L143,60.26 L143.5,60.39 L144,59.84 L144.5,59.82 L145,60.17 L145.5,59.2 L146,59.08 L146.5,59.17 L147,58.45 L147.5,57.4 L148,56.27 L148.5,55.27 L149,53.81 L149.5,52.7 L150,54.01 L150.5,59.4 L151,65.03 L151.5,67.64 L152,68.05 L152.5,65.9 L153,64.69 L153.5,63.56 L154,63.07 L154.5,62 L155,61.7 L155.5,61.08 L156,61.33 L156.5,61.2 L157,61.13 L157.5,60.69 L158,60.88 L158.5,60.58 L159,60.63 L159.5,60.68 L160,60.95 L160.5,60.55 L161,60.66 L161.5,60.42 L162,60.47 L162.5,60.43 L163,60.54 L163.5,60.74 L164,60.32 L164.5,60.71 L165,60.34 L165.5,60.62 L166,60.42 L166.5,60.47 L167,60.45 L167.5,60.77 L168,60.58 L168.5,60.76 L169,60.44 L169.5,60.47 L170,60.87 L170.5,60.15 L171,60.32 L171.5,60.47 L172,60.91 L172.5,60.38 L173,60.68 L173.5,60.86 L174,60.46 L174.5,60.47 L175,60.87 L175.5,60.38 L176,60.27 L176.5,60.69 L177,60.39 L177.5,60.79 L178,60.62 L178.5,60.12 L179,60.56 L179.5,60.5 L180,60.36 L180.5,60.74 L181,60.11 L181.5,60.22 L182,60.39 L182.5,60.67 L183,60.16 L183.5,60.36 L184,60.34 L184.5,60.17 L185,60.41 L185.5,60.24 L186,60.4 L186.5,60.56 L187,60.29 L187.5,60.3 L188,60.28 L188.5,60.31 L189,60.15 L189.5,60.23 L190,60.52 L190.5,60.3 L191,61.21 L191.5,60.31 L192,60.59 L192.5,60.16 L193,60.43 L193.5,60.37 L194,60.48 L194.5,60.79 L195,60.46 L195.5,60.23 L196,60.52 L196.5,60.28 L197,60.47 L197.5,60.85 L198,60.71 L198.5,60.74 L199,60.62 L199.5,60.49 L200,60.16 L200.5,60.39 L201,60.38 L201.5,60.65 L202,60.72 L202.5,60.61 L203,60.33 L203.5,60.91 L204,60.81 L204.5,60.45 L205,60.54 L205.5,60.64 L206,60.52 L206.5,60.48 L207,60.61 L207.5,60.5 L208,60.55 L208.5,60.15 L209,60.15 L209.5,60.88 L210,60.17 L210.5,60.61 L211,60.57 L211.5,60.55 L212,60.35 L212.5,60.72 L213,60.58 L213.5,60.43 L214,60.19 L214.5,60.45" stroke="#5cb6ee" stroke-width="1.3" fill="none" stroke-linejoin="round"/>
<path d="M30,28.12 L30.5,28.35 L31,27.93 L31.5,28.44 L32,28.55 L32.5,28.2 L33,28.39 L33.5,28.35 L34,28.21 L34.5,28.11 L35,27.85 L35.5,28.61 L36,28.29 L36.5,28.85 L37,28.48 L37.5,28.36 L38,28.15 L38.5,28.6 L39,28.18 L39.5,28.64 L40,28.21 L40.5,28.34 L41,27.96 L41.5,28.81 L42,28.27 L42.5,28.21 L43,28.47 L43.5,28.1 L44,28.46 L44.5,28.04 L45,28.41 L45.5,28.06 L46,27.89 L46.5,28.16 L47,27.97 L47.5,28.42 L48,28.3 L48.5,28.41 L49,28.31 L49.5,28.22 L50,28.3 L50.5,28.52 L51,28.25 L51.5,28.12 L52,28.08 L52.5,28.24 L53,28.13 L53.5,28.7 L54,28.03 L54.5,28.05 L55,28.22 L55.5,28.43 L56,28.23 L56.5,28.08 L57,28.11 L57.5,28.21 L58,28.5 L58.5,28.07 L59,28.27 L59.5,28.15 L60,28.36 L60.5,28.37 L61,27.96 L61.5,28.81 L62,28.32 L62.5,28.17 L63,28.08 L63.5,28.22 L64,28.28 L64.5,28.41 L65,28.28 L65.5,28.38 L66,27.92 L66.5,28.1 L67,28.05 L67.5,28.3 L68,28.36 L68.5,27.94 L69,28.22 L69.5,28.41 L70,28.45 L70.5,28 L71,28.37 L71.5,28.31 L72,28.14 L72.5,28.66 L73,27.98 L73.5,28.16 L74,28.31 L74.5,28.26 L75,28.15 L75.5,28.48 L76,28.49 L76.5,28.36 L77,28.36 L77.5,28.11 L78,27.84 L78.5,28.55 L79,27.83 L79.5,28.5 L80,27.94 L80.5,27.97 L81,27.82 L81.5,27.99 L82,27.57 L82.5,27.97 L83,27.54 L83.5,27.27 L84,26.86 L84.5,26.73 L85,26.23 L85.5,26.06 L86,25.03 L86.5,23.33 L87,22.38 L87.5,19.21 L88,16.91 L88.5,12.33 L89,9.6 L89.5,11.1 L90,20.96 L90.5,35.71 L91,45.66 L91.5,46.02 L92,42.95 L92.5,39.85 L93,36.32 L93.5,34.34 L94,32.89 L94.5,31.59 L95,30.89 L95.5,30.28 L96,29.89 L96.5,29.79 L97,29.5 L97.5,29.18 L98,29.17 L98.5,28.73 L99,28.59 L99.5,28.46 L100,28.79 L100.5,28.92 L101,28.54 L101.5,28.05 L102,28.34 L102.5,28.52 L103,28.46 L103.5,28.39 L104,28.57 L104.5,28.53 L105,28.01 L105.5,28.38 L106,28.1 L106.5,28.29 L107,28.49 L107.5,28.6 L108,28.32 L108.5,28.03 L109,28.03 L109.5,28.18 L110,27.8 L110.5,27.95 L111,28.04 L111.5,28.03 L112,27.67 L112.5,27.71 L113,27.78 L113.5,27.37 L114,26.69 L114.5,26.81 L115,26.4 L115.5,25.7 L116,25.03 L116.5,23.62 L117,22.68 L117.5,20.33 L118,17.12 L118.5,13.53 L119,10.03 L119.5,9.93 L120,17.9 L120.5,32.75 L121,44.81 L121.5,46.45 L122,43.91 L122.5,40.33 L123,36.93 L123.5,34.91 L124,32.77 L124.5,31.92 L125,30.5 L125.5,30.52 L126,30.07 L126.5,29.67 L127,29.41 L127.5,29.21 L128,29.19 L128.5,29.09 L129,28.57 L129.5,28.94 L130,28.43 L130.5,28.62 L131,28.48 L131.5,28.61 L132,28.39 L132.5,28.53 L133,28.3 L133.5,28.17 L134,28.6 L134.5,28.47 L135,28.43 L135.5,28.51 L136,28.05 L136.5,28.46 L137,28 L137.5,28.3 L138,28.15 L138.5,28.22 L139,28.28 L139.5,28.1 L140,27.85 L140.5,28.21 L141,28.21 L141.5,28.03 L142,28.03 L142.5,27.31 L143,27.59 L143.5,27.39 L144,26.78 L144.5,26.97 L145,26.6 L145.5,25.8 L146,25.3 L146.5,24.61 L147,23.47 L147.5,21.7 L148,18.78 L148.5,15.4 L149,11.66 L149.5,9.32 L150,12.55 L150.5,24.86 L151,39.47 L151.5,46.52 L152,45.86 L152.5,42.05 L153,38.59 L153.5,36.01 L154,34.04 L154.5,32.65 L155,31.18 L155.5,30.59 L156,29.9 L156.5,29.14 L157,29.26 L157.5,28.89 L158,29.41 L158.5,29.08 L159,28.73 L159.5,28.8 L160,28.81 L160.5,29.04 L161,28.78 L161.5,28.91 L162,28.65 L162.5,28.8 L163,28.81 L163.5,28.67 L164,28.46 L164.5,28.68 L165,28.34 L165.5,28.73 L166,28.34 L166.5,28.24 L167,28.8 L167.5,28.29 L168,28.41 L168.5,28.13 L169,28.21 L169.5,28.28 L170,28.14 L170.5,28.62 L171,28.19 L171.5,28.07 L172,28.59 L172.5,28.49 L173,27.83 L173.5,28.21 L174,28.55 L174.5,28.16 L175,28.27 L175.5,28.28 L176,27.83 L176.5,28.13 L177,28.49 L177.5,28.64 L178,28.31 L178.5,28.3 L179,28.44 L179.5,28.36 L180,28.43 L180.5,28.13 L181,28.32 L181.5,28.43 L182,28.45 L182.5,27.97 L183,28.5 L183.5,28.34 L184,28.35 L184.5,27.93 L185,28.32 L185.5,27.97 L186,27.76 L186.5,28.34 L187,28.31 L187.5,28.33 L188,28.35 L188.5,28.31 L189,28.56 L189.5,28.49 L190,28.67 L190.5,28.87 L191,28.48 L191.5,28.49 L192,28.73 L192.5,28.12 L193,28.24 L193.5,28.37 L194,27.97 L194.5,28.53 L195,28.66 L195.5,28.04 L196,28.14 L196.5,28.51 L197,28.61 L197.5,27.95 L198,28.43 L198.5,28.27 L199,27.9 L199.5,28.22 L200,28.18 L200.5,28.33 L201,28.31 L201.5,28.25 L202,28.28 L202.5,28.27 L203,28.42 L203.5,28.52 L204,28.52 L204.5,28.11 L205,28.13 L205.5,28.16 L206,28.62 L206.5,28.41 L207,28.13 L207.5,28.05 L208,28.08 L208.5,28.31 L209,28.06 L209.5,28.3 L210,28.6 L210.5,28.25 L211,28.49 L211.5,27.97 L212,28.38 L212.5,28.37 L213,28.1 L213.5,28.61 L214,28.3 L214.5,28.15" stroke="#4a4a4a" stroke-width="1.3" fill="none" stroke-linejoin="round"/>
<rect x="29.5" y="6.7" width="185.75" height="136.5" fill="none" stroke="#1a1a1a" stroke-width="1.45"/>
<path d="M29.5,143.2 V146 M66.65,143.2 V146 M103.8,143.2 V146 M140.95,143.2 V146 M178.1,143.2 V146 M215.25,143.2 V146 M48.08,143.2 V144.8 M85.22,143.2 V144.8 M122.38,143.2 V144.8 M159.53,143.2 V144.8 M196.67,143.2 V144.8" stroke="#000" stroke-width="1.1" fill="none"/>
<text x="29.5" y="155.3" font-size="9.5" text-anchor="middle" >3460</text>
<text x="66.65" y="155.3" font-size="9.5" text-anchor="middle" >3480</text>
<text x="103.8" y="155.3" font-size="9.5" text-anchor="middle" >3500</text>
<text x="140.95" y="155.3" font-size="9.5" text-anchor="middle" >3520</text>
<text x="178.1" y="155.3" font-size="9.5" text-anchor="middle" >3540</text>
<text x="215.25" y="155.3" font-size="9.5" text-anchor="middle" >3560</text>
<text x="122.1" y="167.8" font-size="9.6" text-anchor="middle" >Magnetic Field (G)</text>
<text transform="translate(19.1,74.5) rotate(-90)" x="0" y="0" font-size="9.6" text-anchor="middle">Intensity (arb. units)</text>
<text x="206.1" y="27.3" font-size="6.9" text-anchor="middle" >9</text>
<text x="206.1" y="59.9" font-size="6.9" text-anchor="middle" >8</text>
<text x="206.1" y="80.1" font-size="6.9" text-anchor="middle" >7</text>
<text x="206.1" y="98.6" font-size="6.9" text-anchor="middle" >6</text>
<text x="206.1" y="109.9" font-size="6.9" text-anchor="middle" >5</text>
<text x="206.1" y="117" font-size="6.9" text-anchor="middle" >4</text>
<text x="206.1" y="124.3" font-size="6.9" text-anchor="middle" >3</text>
<text x="206.1" y="131.5" font-size="6.9" text-anchor="middle" >2</text>
<text x="206.1" y="137.6" font-size="6.9" text-anchor="middle" >1</text>
<path d="M263.05,311.01 L263.55,311.41 L264.05,311.37 L264.55,310.85 L265.05,310.91 L265.55,310.84 L266.05,311.17 L266.55,310.98 L267.05,311.22 L267.55,310.45 L268.05,311.47 L268.55,310.97 L269.05,311.2 L269.55,310.96 L270.05,310.89 L270.55,311.14 L271.05,311.25 L271.55,310.94 L272.05,310.95 L272.55,311.21 L273.05,310.74 L273.55,310.55 L274.05,311.12 L274.55,310.8 L275.05,310.42 L275.55,310.76 L276.05,310.86 L276.55,310.64 L277.05,310.55 L277.55,311.01 L278.05,311.27 L278.55,310.93 L279.05,310.78 L279.55,311.12 L280.05,311.22 L280.55,310.91 L281.05,311.16 L281.55,311.31 L282.05,310.94 L282.55,310.76 L283.05,311.1 L283.55,311.07 L284.05,311.33 L284.55,310.61 L285.05,310.8 L285.55,310.75 L286.05,310.48 L286.55,311.04 L287.05,311.16 L287.55,310.78 L288.05,311.42 L288.55,311.25 L289.05,311.19 L289.55,311.12 L290.05,311.29 L290.55,310.6 L291.05,311.18 L291.55,311.18 L292.05,310.47 L292.55,311.1 L293.05,310.92 L293.55,311.23 L294.05,310.87 L294.55,310.99 L295.05,311.1 L295.55,310.74 L296.05,311.18 L296.55,310.97 L297.05,311.15 L297.55,310.84 L298.05,311.33 L298.55,311.18 L299.05,310.95 L299.55,311.19 L300.05,311.38 L300.55,311.54 L301.05,310.53 L301.55,311.26 L302.05,311.14 L302.55,310.97 L303.05,310.7 L303.55,311.38 L304.05,310.62 L304.55,311.17 L305.05,311.39 L305.55,310.52 L306.05,310.91 L306.55,310.61 L307.05,311.07 L307.55,311.45 L308.05,311.61 L308.55,310.47 L309.05,310.83 L309.55,311.21 L310.05,311.47 L310.55,311.13 L311.05,310.78 L311.55,311.09 L312.05,311 L312.55,310.94 L313.05,310.78 L313.55,311.12 L314.05,311.09 L314.55,310.97 L315.05,310.93 L315.55,310.61 L316.05,310.85 L316.55,311.36 L317.05,310.94 L317.55,310.57 L318.05,311.4 L318.55,311.16 L319.05,311.63 L319.55,311.02 L320.05,310.86 L320.55,310.57 L321.05,311.4 L321.55,311.77 L322.05,310.75 L322.55,310.81 L323.05,311.18 L323.55,310.75 L324.05,310.92 L324.55,310.9 L325.05,311.06 L325.55,311.33 L326.05,311.01 L326.55,311.28 L327.05,310.87 L327.55,311.1 L328.05,310.36 L328.55,310.57 L329.05,311.24 L329.55,310.82 L330.05,311.17 L330.55,311.16 L331.05,311.4 L331.55,311.24 L332.05,311.31 L332.55,310.97 L333.05,310.79 L333.55,310.78 L334.05,310.85 L334.55,310.66 L335.05,310.84 L335.55,310.97 L336.05,311.08 L336.55,310.9 L337.05,310.42 L337.55,310.98 L338.05,311.07 L338.55,311.33 L339.05,311.17 L339.55,310.81 L340.05,310.78 L340.55,311.6 L341.05,311.23 L341.55,311.55 L342.05,311.64 L342.55,310.75 L343.05,311.12 L343.55,311.14 L344.05,311.17 L344.55,311.16 L345.05,311.06 L345.55,311.05 L346.05,310.55 L346.55,310.95 L347.05,310.78 L347.55,311.04 L348.05,310.86 L348.55,311.19 L349.05,311.25 L349.55,311.09 L350.05,311.09 L350.55,311.03 L351.05,310.87 L351.55,310.95 L352.05,310.85 L352.55,311.12 L353.05,311 L353.55,311.17 L354.05,310.6 L354.55,311.27 L355.05,310.77 L355.55,310.78 L356.05,310.94 L356.55,310.83 L357.05,311.09 L357.55,310.83 L358.05,310.68 L358.55,310.75 L359.05,311.39 L359.55,311.01 L360.05,310.65 L360.55,311 L361.05,310.53 L361.55,311.54 L362.05,310.54 L362.55,311.14 L363.05,311.16 L363.55,310.56 L364.05,311.09 L364.55,311.3 L365.05,311.14 L365.55,311.08 L366.05,311.28 L366.55,311.05 L367.05,311.1 L367.55,310.96 L368.05,311.19 L368.55,310.72 L369.05,311.24 L369.55,310.85 L370.05,310.67 L370.55,311.11 L371.05,311.51 L371.55,311.29 L372.05,310.85 L372.55,311.21 L373.05,310.86 L373.55,310.96 L374.05,311.03 L374.55,310.3 L375.05,311.06 L375.55,310.69 L376.05,310.79 L376.55,310.56 L377.05,310.55 L377.55,310.72 L378.05,311.25 L378.55,311.5 L379.05,310.99 L379.55,311.33 L380.05,310.92 L380.55,310.43 L381.05,311.04 L381.55,311.13 L382.05,310.87 L382.55,311.09 L383.05,311.17 L383.55,310.74 L384.05,310.56 L384.55,310.93 L385.05,310.94 L385.55,310.89 L386.05,311.3 L386.55,311.52 L387.05,310.88 L387.55,311.21 L388.05,311.28 L388.55,311.21 L389.05,311.31 L389.55,310.88 L390.05,311.22 L390.55,311.61 L391.05,311.24 L391.55,310.81 L392.05,311.18 L392.55,311.38 L393.05,311.11 L393.55,310.83 L394.05,311.46 L394.55,310.63 L395.05,311.15 L395.55,311 L396.05,310.64 L396.55,311.37 L397.05,311.1 L397.55,310.65 L398.05,311.18 L398.55,310.87 L399.05,310.43 L399.55,310.79 L400.05,311.08 L400.55,311.19 L401.05,311.05 L401.55,311.01 L402.05,311.14 L402.55,310.94 L403.05,311.35 L403.55,311.04 L404.05,311.09 L404.55,311.16 L405.05,310.68 L405.55,310.79 L406.05,311.46 L406.55,311.1 L407.05,310.92 L407.55,311.1 L408.05,310.86 L408.55,311.08 L409.05,310.8 L409.55,311.08 L410.05,310.53 L410.55,311.4 L411.05,310.85 L411.55,310.53 L412.05,310.93 L412.55,310.89 L413.05,311.05 L413.55,310.66 L414.05,311.12 L414.55,312.09 L415.05,310.62 L415.55,311.1 L416.05,310.91 L416.55,311.06 L417.05,310.46 L417.55,310.65 L418.05,311.14 L418.55,310.99 L419.05,311.49 L419.55,310.79 L420.05,311.05 L420.55,311.87 L421.05,310.77 L421.55,310.73 L422.05,310.99 L422.55,310.99 L423.05,311.25 L423.55,311.04 L424.05,310.77 L424.55,311.06 L425.05,311.79 L425.55,311.38 L426.05,310.17 L426.55,310.96 L427.05,310.74 L427.55,311.19 L428.05,310.95 L428.55,311.58 L429.05,311.28 L429.55,311.27 L430.05,311.06 L430.55,310.99 L431.05,311.1 L431.55,311.39 L432.05,311.16 L432.55,310.89 L433.05,311.38 L433.55,311.06 L434.05,310.98 L434.55,310.76 L435.05,310.83 L435.55,310.81 L436.05,310.16 L436.55,311.31 L437.05,311.17 L437.55,310.94 L438.05,311.31 L438.55,311.13 L439.05,311.11 L439.55,310.26 L440.05,310.93 L440.55,311.16 L441.05,311.48 L441.55,311.55 L442.05,311.43 L442.55,310.65 L443.05,310.34 L443.55,311.17 L444.05,311.01 L444.55,311.29 L445.05,310.96 L445.55,311.07 L446.05,310.55 L446.55,311.13 L447.05,310.87 L447.55,311.1" stroke="#4a4a4a" stroke-width="1.3" fill="none" stroke-linejoin="round"/>
<path d="M263.05,304.2 L263.55,304.51 L264.05,304.42 L264.55,304.42 L265.05,304.69 L265.55,303.84 L266.05,304.01 L266.55,303.8 L267.05,304.17 L267.55,304.5 L268.05,304.19 L268.55,304.35 L269.05,303.63 L269.55,304.24 L270.05,303.93 L270.55,304.73 L271.05,304.47 L271.55,304.48 L272.05,304.18 L272.55,304.38 L273.05,304.4 L273.55,304.1 L274.05,304.05 L274.55,304.17 L275.05,304.02 L275.55,304.02 L276.05,304.11 L276.55,303.98 L277.05,304.43 L277.55,303.72 L278.05,304.45 L278.55,304.01 L279.05,304.04 L279.55,303.79 L280.05,304.16 L280.55,304.13 L281.05,304.26 L281.55,304.04 L282.05,304.23 L282.55,304.75 L283.05,304.32 L283.55,304.03 L284.05,304.49 L284.55,304.16 L285.05,304.38 L285.55,304.38 L286.05,304.08 L286.55,303.62 L287.05,304.1 L287.55,304.37 L288.05,304.09 L288.55,304.33 L289.05,304.49 L289.55,304.04 L290.05,304.57 L290.55,304.69 L291.05,304.52 L291.55,304.55 L292.05,304.53 L292.55,304.88 L293.05,304.26 L293.55,304.2 L294.05,304.38 L294.55,303.93 L295.05,303.73 L295.55,303.94 L296.05,304.31 L296.55,304.34 L297.05,303.74 L297.55,303.63 L298.05,304.11 L298.55,304.14 L299.05,304.19 L299.55,304.4 L300.05,304.57 L300.55,304.27 L301.05,304.38 L301.55,303.87 L302.05,303.85 L302.55,304.27 L303.05,304.4 L303.55,304.42 L304.05,304.38 L304.55,304.44 L305.05,304.44 L305.55,303.67 L306.05,303.98 L306.55,304.34 L307.05,304.38 L307.55,303.75 L308.05,304.55 L308.55,304.07 L309.05,304.13 L309.55,304.28 L310.05,304.42 L310.55,303.77 L311.05,304.5 L311.55,304.22 L312.05,303.97 L312.55,304.12 L313.05,303.54 L313.55,304.01 L314.05,304.25 L314.55,303.99 L315.05,304.1 L315.55,304.16 L316.05,304.21 L316.55,304.51 L317.05,304.19 L317.55,304.12 L318.05,304.36 L318.55,304.82 L319.05,304.1 L319.55,304.35 L320.05,303.73 L320.55,304.6 L321.05,304.4 L321.55,304.6 L322.05,304.18 L322.55,303.89 L323.05,304.47 L323.55,304.43 L324.05,303.94 L324.55,303.76 L325.05,304.33 L325.55,304.15 L326.05,304.98 L326.55,304.02 L327.05,304.04 L327.55,304.17 L328.05,303.7 L328.55,303.93 L329.05,304.69 L329.55,304.16 L330.05,304.02 L330.55,303.82 L331.05,304.37 L331.55,304.4 L332.05,304.28 L332.55,304.08 L333.05,304.29 L333.55,304.31 L334.05,304 L334.55,304.39 L335.05,303.57 L335.55,303.81 L336.05,304.11 L336.55,304.17 L337.05,303.85 L337.55,304.3 L338.05,304.52 L338.55,304.34 L339.05,304.27 L339.55,304.45 L340.05,304.32 L340.55,303.86 L341.05,304.14 L341.55,304.59 L342.05,303.86 L342.55,304.22 L343.05,304.08 L343.55,303.93 L344.05,303.9 L344.55,304.23 L345.05,304.29 L345.55,304.29 L346.05,303.77 L346.55,304.11 L347.05,304.3 L347.55,304.48 L348.05,304.4 L348.55,304.45 L349.05,304.53 L349.55,304.45 L350.05,303.96 L350.55,304.22 L351.05,303.99 L351.55,303.49 L352.05,303.7 L352.55,304.83 L353.05,303.86 L353.55,303.53 L354.05,304.02 L354.55,304.66 L355.05,304.19 L355.55,304.32 L356.05,304.12 L356.55,304.18 L357.05,304.58 L357.55,304.44 L358.05,304.17 L358.55,304.47 L359.05,304.52 L359.55,304.13 L360.05,304.28 L360.55,304.28 L361.05,304 L361.55,304.55 L362.05,304.15 L362.55,304.01 L363.05,303.7 L363.55,303.82 L364.05,304.66 L364.55,303.86 L365.05,304.33 L365.55,304.09 L366.05,304.35 L366.55,304.38 L367.05,303.97 L367.55,304.11 L368.05,304.23 L368.55,304.23 L369.05,304.19 L369.55,304.11 L370.05,304.39 L370.55,304.6 L371.05,304.36 L371.55,303.98 L372.05,304.32 L372.55,304.22 L373.05,304.34 L373.55,304.75 L374.05,304.14 L374.55,304.2 L375.05,303.93 L375.55,304.11 L376.05,304.03 L376.55,304.68 L377.05,304.29 L377.55,304.03 L378.05,304.78 L378.55,303.8 L379.05,304.46 L379.55,304.5 L380.05,304.37 L380.55,304.12 L381.05,304.16 L381.55,304.1 L382.05,304.44 L382.55,303.5 L383.05,304.05 L383.55,304.25 L384.05,304.03 L384.55,303.65 L385.05,304.13 L385.55,303.97 L386.05,304.44 L386.55,304.62 L387.05,304.22 L387.55,303.62 L388.05,304.14 L388.55,303.92 L389.05,304.4 L389.55,304.71 L390.05,304.3 L390.55,304.81 L391.05,304.65 L391.55,304.41 L392.05,303.94 L392.55,304.26 L393.05,303.8 L393.55,304.55 L394.05,304.27 L394.55,304.65 L395.05,304.33 L395.55,303.66 L396.05,304.44 L396.55,304.52 L397.05,304.74 L397.55,303.95 L398.05,303.97 L398.55,304.26 L399.05,303.93 L399.55,303.83 L400.05,303.91 L400.55,305.02 L401.05,304.05 L401.55,303.93 L402.05,304.1 L402.55,304.23 L403.05,304.62 L403.55,304.52 L404.05,304.47 L404.55,304.24 L405.05,304.28 L405.55,304.04 L406.05,303.78 L406.55,304.84 L407.05,304.09 L407.55,304.53 L408.05,304.13 L408.55,304.2 L409.05,304.18 L409.55,303.82 L410.05,304.21 L410.55,304.34 L411.05,304.48 L411.55,304.38 L412.05,304.53 L412.55,304.32 L413.05,304.23 L413.55,303.64 L414.05,304.07 L414.55,304.69 L415.05,304.26 L415.55,304.46 L416.05,304.16 L416.55,304.02 L417.05,304.84 L417.55,304.33 L418.05,304.67 L418.55,304.38 L419.05,304.14 L419.55,303.55 L420.05,304.25 L420.55,303.75 L421.05,303.56 L421.55,304.6 L422.05,304.44 L422.55,304.42 L423.05,304.24 L423.55,304.21 L424.05,304.35 L424.55,304.27 L425.05,304.25 L425.55,304.45 L426.05,303.49 L426.55,304.49 L427.05,304.03 L427.55,304.48 L428.05,304.57 L428.55,303.97 L429.05,304.46 L429.55,304.45 L430.05,304 L430.55,304.05 L431.05,304.24 L431.55,303.54 L432.05,304.07 L432.55,304.26 L433.05,304.07 L433.55,303.72 L434.05,304.09 L434.55,304.66 L435.05,304.6 L435.55,304.17 L436.05,303.96 L436.55,304.2 L437.05,304.21 L437.55,304 L438.05,304.1 L438.55,304.39 L439.05,304.48 L439.55,303.47 L440.05,304.49 L440.55,304.24 L441.05,304.55 L441.55,304.2 L442.05,304.33 L442.55,304.69 L443.05,303.31 L443.55,304.68 L444.05,304.26 L444.55,303.65 L445.05,303.4 L445.55,304.29 L446.05,303.89 L446.55,304.5 L447.05,304.27 L447.55,304.16" stroke="#e8424a" stroke-width="1.3" fill="none" stroke-linejoin="round"/>
<path d="M263.05,297.85 L263.55,296.38 L264.05,297.59 L264.55,297.32 L265.05,297.7 L265.55,297.42 L266.05,297.85 L266.55,297.31 L267.05,297.15 L267.55,297.47 L268.05,297.43 L268.55,297.19 L269.05,297.23 L269.55,297.52 L270.05,297.51 L270.55,297.15 L271.05,297.19 L271.55,296.76 L272.05,297.8 L272.55,297.23 L273.05,297.7 L273.55,297.43 L274.05,297.88 L274.55,297.76 L275.05,297.4 L275.55,297.74 L276.05,297.01 L276.55,297.68 L277.05,296.86 L277.55,297.4 L278.05,297.62 L278.55,297.37 L279.05,297.19 L279.55,297.06 L280.05,297.2 L280.55,297.62 L281.05,297.57 L281.55,297.22 L282.05,296.93 L282.55,297.5 L283.05,296.87 L283.55,297.14 L284.05,297.08 L284.55,297.52 L285.05,297.37 L285.55,297.44 L286.05,297.38 L286.55,297.1 L287.05,297.46 L287.55,297.72 L288.05,297.29 L288.55,297.49 L289.05,297.26 L289.55,297.61 L290.05,297.5 L290.55,297.56 L291.05,297.4 L291.55,297.79 L292.05,297.19 L292.55,297.2 L293.05,297.12 L293.55,297.48 L294.05,297.11 L294.55,297.11 L295.05,297.52 L295.55,297.65 L296.05,297.47 L296.55,296.5 L297.05,297.01 L297.55,296.98 L298.05,296.94 L298.55,297.18 L299.05,297.85 L299.55,297.21 L300.05,297.08 L300.55,297.51 L301.05,297.32 L301.55,297.34 L302.05,297.09 L302.55,297.3 L303.05,297.43 L303.55,296.73 L304.05,296.82 L304.55,297.63 L305.05,297.55 L305.55,297.15 L306.05,296.99 L306.55,297.24 L307.05,296.94 L307.55,297.2 L308.05,297.8 L308.55,297.34 L309.05,297.65 L309.55,297.23 L310.05,297.41 L310.55,297.72 L311.05,296.9 L311.55,297.2 L312.05,297.25 L312.55,297.38 L313.05,297.77 L313.55,297.51 L314.05,296.85 L314.55,297.22 L315.05,297.03 L315.55,297.02 L316.05,297.91 L316.55,296.98 L317.05,297.37 L317.55,297.09 L318.05,297.56 L318.55,297.41 L319.05,297.34 L319.55,297.28 L320.05,297.64 L320.55,297.02 L321.05,297.08 L321.55,296.97 L322.05,297.7 L322.55,297.21 L323.05,296.99 L323.55,297.17 L324.05,298.05 L324.55,297.27 L325.05,297.56 L325.55,297.44 L326.05,297.3 L326.55,297.09 L327.05,297.2 L327.55,297.19 L328.05,296.64 L328.55,298.08 L329.05,297.58 L329.55,297.33 L330.05,297.24 L330.55,297.06 L331.05,297.58 L331.55,297.24 L332.05,297.44 L332.55,296.88 L333.05,297.41 L333.55,297.9 L334.05,297.21 L334.55,297.54 L335.05,297.31 L335.55,297.63 L336.05,297.62 L336.55,297.32 L337.05,297.13 L337.55,297.39 L338.05,297.31 L338.55,297.11 L339.05,297.44 L339.55,297.43 L340.05,297.03 L340.55,297.27 L341.05,298.18 L341.55,297.55 L342.05,297.33 L342.55,298.05 L343.05,297.16 L343.55,296.56 L344.05,296.73 L344.55,296.84 L345.05,297.38 L345.55,297.59 L346.05,296.65 L346.55,297.64 L347.05,296.93 L347.55,297.38 L348.05,297.44 L348.55,297.43 L349.05,297.3 L349.55,297.35 L350.05,296.96 L350.55,297.38 L351.05,297.59 L351.55,297.58 L352.05,298.08 L352.55,297.62 L353.05,297.52 L353.55,297.8 L354.05,297.37 L354.55,296.91 L355.05,296.63 L355.55,297.68 L356.05,297.47 L356.55,297.55 L357.05,297.2 L357.55,297.4 L358.05,297.86 L358.55,297.4 L359.05,296.97 L359.55,297.17 L360.05,297.72 L360.55,296.97 L361.05,296.53 L361.55,296.61 L362.05,296.9 L362.55,297.54 L363.05,297.33 L363.55,297.07 L364.05,296.91 L364.55,297.27 L365.05,297.25 L365.55,297.13 L366.05,297.23 L366.55,297.07 L367.05,297.84 L367.55,296.59 L368.05,297.34 L368.55,297 L369.05,297.51 L369.55,297.23 L370.05,297.41 L370.55,297.46 L371.05,297.36 L371.55,297.6 L372.05,296.88 L372.55,297.59 L373.05,297.23 L373.55,297.41 L374.05,297.77 L374.55,297.64 L375.05,297.9 L375.55,296.62 L376.05,297.01 L376.55,297.59 L377.05,296.96 L377.55,297.25 L378.05,297.81 L378.55,297.56 L379.05,297.01 L379.55,297.44 L380.05,297.49 L380.55,297.32 L381.05,297.27 L381.55,297.34 L382.05,296.85 L382.55,297.34 L383.05,297.01 L383.55,297.42 L384.05,297.43 L384.55,297.03 L385.05,297.48 L385.55,297.41 L386.05,297.29 L386.55,297.52 L387.05,297.21 L387.55,297.21 L388.05,297.32 L388.55,297.28 L389.05,297.64 L389.55,296.59 L390.05,297.21 L390.55,296.7 L391.05,297.14 L391.55,297.37 L392.05,297.29 L392.55,297.58 L393.05,297.39 L393.55,296.47 L394.05,296.95 L394.55,297.75 L395.05,297.75 L395.55,297.32 L396.05,296.82 L396.55,297.94 L397.05,296.65 L397.55,297.38 L398.05,297.27 L398.55,297.35 L399.05,296.93 L399.55,297.16 L400.05,297.6 L400.55,297.13 L401.05,296.86 L401.55,297.27 L402.05,297.3 L402.55,297.23 L403.05,297.04 L403.55,297.44 L404.05,297.24 L404.55,296.92 L405.05,297.34 L405.55,297.26 L406.05,297.32 L406.55,296.76 L407.05,297.04 L407.55,297.41 L408.05,297.56 L408.55,297.38 L409.05,297.33 L409.55,297.5 L410.05,297.58 L410.55,297.81 L411.05,297.42 L411.55,297.11 L412.05,297.43 L412.55,296.7 L413.05,297.31 L413.55,297.16 L414.05,297.28 L414.55,297.44 L415.05,297.31 L415.55,296.86 L416.05,297.19 L416.55,297.05 L417.05,297.29 L417.55,297.4 L418.05,297.01 L418.55,297.52 L419.05,297.69 L419.55,297.22 L420.05,297.52 L420.55,296.85 L421.05,297.14 L421.55,297.59 L422.05,296.77 L422.55,297.15 L423.05,297.03 L423.55,297.64 L424.05,297.64 L424.55,297.11 L425.05,297.34 L425.55,296.51 L426.05,297.55 L426.55,297.4 L427.05,297.7 L427.55,296.58 L428.05,297.4 L428.55,297.19 L429.05,296.51 L429.55,297.09 L430.05,297.27 L430.55,297.54 L431.05,297.36 L431.55,297.14 L432.05,297.43 L432.55,297.27 L433.05,297.1 L433.55,296.99 L434.05,297.34 L434.55,297.35 L435.05,297.85 L435.55,297.16 L436.05,297.78 L436.55,297.4 L437.05,297.65 L437.55,297.03 L438.05,297.04 L438.55,297.21 L439.05,297.57 L439.55,297.35 L440.05,297.53 L440.55,297.39 L441.05,297.61 L441.55,297.36 L442.05,297.14 L442.55,297.45 L443.05,297.33 L443.55,297.82 L444.05,297.25 L444.55,297.33 L445.05,297.21 L445.55,297.65 L446.05,297.56 L446.55,297.5 L447.05,296.93 L447.55,296.85" stroke="#2f6fc4" stroke-width="1.3" fill="none" stroke-linejoin="round"/>
<path d="M263.05,290.71 L263.55,290.21 L264.05,290.03 L264.55,289.62 L265.05,290.39 L265.55,290.87 L266.05,290.51 L266.55,290.65 L267.05,290.81 L267.55,290.24 L268.05,291.3 L268.55,290.24 L269.05,290.61 L269.55,291.32 L270.05,290.47 L270.55,290.53 L271.05,290.35 L271.55,290.6 L272.05,289.86 L272.55,290.31 L273.05,291.01 L273.55,290.56 L274.05,290.43 L274.55,290.61 L275.05,290.62 L275.55,290.55 L276.05,290.67 L276.55,290 L277.05,290.68 L277.55,290.3 L278.05,290.74 L278.55,290.49 L279.05,290.2 L279.55,290.48 L280.05,290.2 L280.55,290.8 L281.05,290.49 L281.55,290.76 L282.05,290.17 L282.55,290.99 L283.05,290.41 L283.55,290.91 L284.05,290.76 L284.55,290.17 L285.05,290.6 L285.55,290.34 L286.05,290.62 L286.55,290.93 L287.05,290.71 L287.55,290.82 L288.05,290.15 L288.55,290.56 L289.05,290.61 L289.55,290.83 L290.05,290.31 L290.55,290.67 L291.05,290.63 L291.55,290.04 L292.05,290.19 L292.55,290.63 L293.05,290.15 L293.55,290.13 L294.05,290.77 L294.55,290.59 L295.05,290.43 L295.55,290.53 L296.05,290.38 L296.55,290.34 L297.05,290.36 L297.55,290.62 L298.05,290.9 L298.55,290.36 L299.05,290.48 L299.55,290.43 L300.05,290.12 L300.55,290.58 L301.05,290.76 L301.55,290.25 L302.05,290.75 L302.55,290.33 L303.05,290.85 L303.55,290.86 L304.05,290.39 L304.55,289.9 L305.05,290.4 L305.55,290.08 L306.05,290.11 L306.55,290.42 L307.05,290.91 L307.55,290.47 L308.05,290.43 L308.55,289.94 L309.05,290.32 L309.55,290.08 L310.05,290.66 L310.55,290.34 L311.05,290.49 L311.55,290.49 L312.05,290.44 L312.55,290.79 L313.05,290.65 L313.55,290.4 L314.05,290.55 L314.55,290.67 L315.05,290.91 L315.55,290.54 L316.05,290.93 L316.55,290.32 L317.05,290.43 L317.55,290.05 L318.05,290.75 L318.55,290.19 L319.05,290.19 L319.55,290.75 L320.05,290.34 L320.55,290.27 L321.05,290.79 L321.55,290.44 L322.05,290.78 L322.55,290.38 L323.05,290.72 L323.55,290.82 L324.05,290.52 L324.55,291.04 L325.05,290.38 L325.55,290.44 L326.05,290.52 L326.55,290.8 L327.05,290.41 L327.55,290.37 L328.05,290.58 L328.55,290.87 L329.05,290.38 L329.55,290.12 L330.05,290.46 L330.55,290.69 L331.05,290.34 L331.55,290.54 L332.05,289.94 L332.55,290.51 L333.05,290.53 L333.55,290.69 L334.05,290.59 L334.55,290.73 L335.05,290.2 L335.55,290.7 L336.05,290 L336.55,290.32 L337.05,290.83 L337.55,290.76 L338.05,289.94 L338.55,290.68 L339.05,290.37 L339.55,290.27 L340.05,290.56 L340.55,290.54 L341.05,290.92 L341.55,290.07 L342.05,290.37 L342.55,290.46 L343.05,289.95 L343.55,290.85 L344.05,291.03 L344.55,290.31 L345.05,290.61 L345.55,290.42 L346.05,290.58 L346.55,290.3 L347.05,290.75 L347.55,290.15 L348.05,290.91 L348.55,290.61 L349.05,291.23 L349.55,290 L350.05,290.47 L350.55,290.11 L351.05,290.46 L351.55,290.63 L352.05,290.22 L352.55,290.07 L353.05,289.98 L353.55,290.57 L354.05,290.88 L354.55,290.85 L355.05,290.51 L355.55,290.21 L356.05,290.39 L356.55,290.05 L357.05,290.03 L357.55,290.82 L358.05,290.42 L358.55,290.59 L359.05,290.42 L359.55,290.9 L360.05,290.93 L360.55,290.27 L361.05,290.39 L361.55,290.3 L362.05,290.9 L362.55,290.87 L363.05,290.41 L363.55,291.19 L364.05,290.51 L364.55,290.14 L365.05,289.89 L365.55,290.46 L366.05,290.6 L366.55,290.32 L367.05,290.61 L367.55,290.86 L368.05,290.48 L368.55,290.75 L369.05,291 L369.55,290.65 L370.05,290.33 L370.55,290.63 L371.05,290.66 L371.55,291.14 L372.05,290.37 L372.55,290.03 L373.05,290.59 L373.55,290.6 L374.05,290.38 L374.55,290.67 L375.05,290.6 L375.55,290.86 L376.05,290.25 L376.55,290.29 L377.05,290.49 L377.55,290.35 L378.05,290.88 L378.55,290.67 L379.05,290.49 L379.55,290.96 L380.05,290.65 L380.55,290.8 L381.05,290.74 L381.55,290.46 L382.05,290.46 L382.55,290.5 L383.05,290.17 L383.55,290.4 L384.05,290.76 L384.55,290.59 L385.05,290.22 L385.55,291.21 L386.05,290.19 L386.55,290.69 L387.05,290.72 L387.55,290.88 L388.05,290.24 L388.55,290.51 L389.05,290.44 L389.55,290.84 L390.05,290.62 L390.55,290.63 L391.05,290.67 L391.55,291.09 L392.05,290.71 L392.55,290.77 L393.05,290.23 L393.55,290.72 L394.05,290.14 L394.55,290.79 L395.05,290.56 L395.55,290.25 L396.05,290.17 L396.55,290.49 L397.05,290.55 L397.55,290.35 L398.05,290.42 L398.55,290.43 L399.05,290.36 L399.55,290.46 L400.05,290.6 L400.55,290.91 L401.05,290.71 L401.55,290.35 L402.05,291.01 L402.55,290.88 L403.05,290.45 L403.55,290.83 L404.05,290.37 L404.55,290.3 L405.05,290.31 L405.55,291.02 L406.05,290.57 L406.55,290.63 L407.05,290.55 L407.55,290.41 L408.05,290.68 L408.55,290.74 L409.05,291.12 L409.55,290.28 L410.05,291 L410.55,290.74 L411.05,290.02 L411.55,290.83 L412.05,291.02 L412.55,290.87 L413.05,290.62 L413.55,290.59 L414.05,289.95 L414.55,290.64 L415.05,290.6 L415.55,290.26 L416.05,290.6 L416.55,290.34 L417.05,291.22 L417.55,290.17 L418.05,290.27 L418.55,289.89 L419.05,290.41 L419.55,290.57 L420.05,290.53 L420.55,290.34 L421.05,290.79 L421.55,290.6 L422.05,290.88 L422.55,290.49 L423.05,290 L423.55,290.48 L424.05,290.22 L424.55,290.77 L425.05,290.34 L425.55,290.45 L426.05,290.51 L426.55,290.06 L427.05,290.4 L427.55,290.78 L428.05,290.34 L428.55,290.46 L429.05,290.56 L429.55,290.31 L430.05,290.42 L430.55,290.64 L431.05,290.39 L431.55,290.52 L432.05,290.46 L432.55,290.19 L433.05,290.12 L433.55,291.1 L434.05,290.92 L434.55,290.47 L435.05,290.79 L435.55,290.84 L436.05,290.79 L436.55,290.4 L437.05,290.08 L437.55,290.13 L438.05,290.43 L438.55,290.91 L439.05,290.97 L439.55,290.43 L440.05,290.41 L440.55,290.87 L441.05,291.12 L441.55,290.23 L442.05,290.65 L442.55,290.55 L443.05,290.41 L443.55,290.41 L444.05,290.41 L444.55,290.51 L445.05,290.05 L445.55,290.51 L446.05,290.74 L446.55,290.73 L447.05,290.75 L447.55,290.61" stroke="#3aa56a" stroke-width="1.3" fill="none" stroke-linejoin="round"/>
<path d="M263.05,283.07 L263.55,283.22 L264.05,283.62 L264.55,283.34 L265.05,283.66 L265.55,283.74 L266.05,283.07 L266.55,283.8 L267.05,283.32 L267.55,284.13 L268.05,283.72 L268.55,283.34 L269.05,283.56 L269.55,283.56 L270.05,283.6 L270.55,283.92 L271.05,283.66 L271.55,284 L272.05,283.69 L272.55,283.45 L273.05,283.04 L273.55,283.03 L274.05,283.56 L274.55,283.71 L275.05,283.93 L275.55,283.32 L276.05,283.52 L276.55,283.26 L277.05,283.37 L277.55,282.82 L278.05,283.72 L278.55,283.28 L279.05,283.48 L279.55,283.63 L280.05,283.6 L280.55,283.11 L281.05,283.95 L281.55,283.73 L282.05,283.65 L282.55,283.3 L283.05,283.02 L283.55,283.01 L284.05,283.44 L284.55,283.55 L285.05,283.29 L285.55,284.05 L286.05,283.59 L286.55,283.8 L287.05,283.77 L287.55,283.18 L288.05,283.8 L288.55,283.63 L289.05,283.12 L289.55,283.72 L290.05,283.82 L290.55,283.79 L291.05,283.81 L291.55,283.08 L292.05,283.42 L292.55,283.33 L293.05,283.51 L293.55,283.53 L294.05,283.84 L294.55,283.72 L295.05,283.25 L295.55,283.77 L296.05,283.98 L296.55,283.59 L297.05,283.04 L297.55,283.3 L298.05,283.44 L298.55,283.01 L299.05,283.45 L299.55,283.11 L300.05,283.73 L300.55,283.69 L301.05,283.46 L301.55,283.11 L302.05,283.57 L302.55,283.29 L303.05,283.27 L303.55,283.8 L304.05,283.23 L304.55,283.03 L305.05,283.67 L305.55,283.94 L306.05,283.86 L306.55,283.56 L307.05,283.89 L307.55,283.08 L308.05,283.76 L308.55,283.75 L309.05,283.2 L309.55,283.75 L310.05,283.47 L310.55,283.59 L311.05,284 L311.55,283.4 L312.05,283.75 L312.55,283.77 L313.05,283.64 L313.55,283.87 L314.05,284.14 L314.55,283.6 L315.05,283.84 L315.55,283.98 L316.05,283.39 L316.55,283.32 L317.05,282.79 L317.55,283.65 L318.05,283.83 L318.55,283.65 L319.05,284.14 L319.55,283.97 L320.05,283.76 L320.55,283.5 L321.05,283.25 L321.55,283.54 L322.05,283.66 L322.55,283.49 L323.05,283.41 L323.55,283.39 L324.05,283.71 L324.55,282.99 L325.05,283.41 L325.55,283.52 L326.05,283.71 L326.55,283.71 L327.05,283.43 L327.55,283.32 L328.05,283.14 L328.55,283.84 L329.05,283.66 L329.55,283.54 L330.05,283.25 L330.55,283.12 L331.05,283.8 L331.55,283.43 L332.05,283.55 L332.55,283.92 L333.05,282.88 L333.55,283.05 L334.05,283.31 L334.55,283.27 L335.05,282.62 L335.55,282.75 L336.05,282.53 L336.55,282.77 L337.05,283.64 L337.55,284.16 L338.05,284.66 L338.55,284.42 L339.05,284.52 L339.55,283.68 L340.05,283.93 L340.55,283.3 L341.05,283.17 L341.55,283.21 L342.05,283.81 L342.55,283.64 L343.05,283.07 L343.55,283.94 L344.05,283.83 L344.55,283.48 L345.05,283.45 L345.55,283.52 L346.05,283.15 L346.55,284.22 L347.05,283.37 L347.55,283.45 L348.05,283.41 L348.55,283.3 L349.05,283.23 L349.55,283.6 L350.05,283.13 L350.55,283.18 L351.05,283.25 L351.55,283.74 L352.05,283.2 L352.55,283.19 L353.05,283.59 L353.55,283.15 L354.05,283.39 L354.55,283.75 L355.05,283.61 L355.55,283.49 L356.05,283.93 L356.55,283.35 L357.05,283.28 L357.55,282.93 L358.05,283.46 L358.55,283.63 L359.05,283.22 L359.55,283.96 L360.05,283.68 L360.55,283.61 L361.05,282.91 L361.55,283.27 L362.05,283.18 L362.55,282.31 L363.05,282.75 L363.55,282.63 L364.05,282.42 L364.55,283.68 L365.05,284.71 L365.55,284.52 L366.05,283.96 L366.55,283.98 L367.05,284.25 L367.55,283.55 L368.05,283.82 L368.55,283.67 L369.05,283.68 L369.55,284.09 L370.05,283.11 L370.55,283.91 L371.05,283.63 L371.55,283.51 L372.05,283.03 L372.55,283.62 L373.05,283.4 L373.55,282.63 L374.05,283.1 L374.55,283.15 L375.05,283.2 L375.55,283.32 L376.05,283.25 L376.55,283.97 L377.05,283.82 L377.55,283.48 L378.05,283.92 L378.55,284.14 L379.05,283.65 L379.55,283.1 L380.05,283.61 L380.55,283.93 L381.05,283.2 L381.55,283.49 L382.05,283.78 L382.55,283.85 L383.05,283.75 L383.55,283.6 L384.05,283.45 L384.55,283.31 L385.05,283.78 L385.55,283.76 L386.05,283.33 L386.55,283.26 L387.05,283.83 L387.55,283.74 L388.05,283.19 L388.55,282.9 L389.05,283.4 L389.55,283.55 L390.05,283.53 L390.55,283.4 L391.05,282.64 L391.55,283.17 L392.05,283.28 L392.55,283.49 L393.05,284.68 L393.55,283.88 L394.05,283.88 L394.55,283.64 L395.05,283.87 L395.55,283.97 L396.05,283.5 L396.55,283.56 L397.05,283.42 L397.55,283.23 L398.05,283.48 L398.55,283.63 L399.05,283.52 L399.55,283.44 L400.05,282.95 L400.55,283.61 L401.05,283.56 L401.55,283.97 L402.05,283.31 L402.55,283.09 L403.05,282.92 L403.55,283.3 L404.05,283.48 L404.55,283.57 L405.05,283.02 L405.55,283.33 L406.05,283.8 L406.55,283.51 L407.05,283.39 L407.55,283.38 L408.05,283.02 L408.55,283.07 L409.05,283.34 L409.55,283.86 L410.05,283.84 L410.55,283.45 L411.05,283.68 L411.55,283.62 L412.05,283.84 L412.55,283.28 L413.05,283.57 L413.55,283.78 L414.05,283.12 L414.55,283.47 L415.05,283.57 L415.55,283.62 L416.05,283.65 L416.55,283.67 L417.05,283.8 L417.55,283.91 L418.05,283.61 L418.55,284.16 L419.05,283.36 L419.55,283.44 L420.05,283.6 L420.55,283.27 L421.05,283.06 L421.55,283.1 L422.05,283.85 L422.55,283.3 L423.05,283.1 L423.55,284.07 L424.05,283.61 L424.55,283.56 L425.05,283.21 L425.55,283.58 L426.05,283.35 L426.55,283.57 L427.05,283.49 L427.55,283.43 L428.05,283.56 L428.55,283.22 L429.05,283.37 L429.55,283.26 L430.05,283.61 L430.55,283.71 L431.05,283.74 L431.55,282.92 L432.05,284.01 L432.55,283.43 L433.05,283.46 L433.55,283.48 L434.05,283.48 L434.55,283.87 L435.05,283.53 L435.55,283.58 L436.05,283.78 L436.55,283.89 L437.05,283.19 L437.55,283.13 L438.05,282.92 L438.55,282.92 L439.05,283.59 L439.55,283.52 L440.05,283.49 L440.55,283.6 L441.05,283.59 L441.55,283.86 L442.05,284.01 L442.55,283.26 L443.05,283.95 L443.55,283.82 L444.05,283.26 L444.55,283.56 L445.05,283.37 L445.55,283 L446.05,283.52 L446.55,283.02 L447.05,283.52 L447.55,283.19" stroke="#a57ad6" stroke-width="1.3" fill="none" stroke-linejoin="round"/>
<path d="M263.05,271.47 L263.55,271.74 L264.05,271.83 L264.55,271.83 L265.05,272 L265.55,271.51 L266.05,271.72 L266.55,271.52 L267.05,271.29 L267.55,271.44 L268.05,271.63 L268.55,271.4 L269.05,271.56 L269.55,271.85 L270.05,271.72 L270.55,271.72 L271.05,271.67 L271.55,271.56 L272.05,271.19 L272.55,271.82 L273.05,271.27 L273.55,271.65 L274.05,271.57 L274.55,271.63 L275.05,271.65 L275.55,271.52 L276.05,271.8 L276.55,271.32 L277.05,271.77 L277.55,271.23 L278.05,271.86 L278.55,271.49 L279.05,271.68 L279.55,271.93 L280.05,271.12 L280.55,271.53 L281.05,271.72 L281.55,271.79 L282.05,271.9 L282.55,271.73 L283.05,271.71 L283.55,271.62 L284.05,271.65 L284.55,271.61 L285.05,271.81 L285.55,271.63 L286.05,271.74 L286.55,271.95 L287.05,271.85 L287.55,271.52 L288.05,271.57 L288.55,271.75 L289.05,271.45 L289.55,271.19 L290.05,271.37 L290.55,271.71 L291.05,271.54 L291.55,271.51 L292.05,271.75 L292.55,271.36 L293.05,272.09 L293.55,271.59 L294.05,271.51 L294.55,272.03 L295.05,271.34 L295.55,271.47 L296.05,271.56 L296.55,271.36 L297.05,271.5 L297.55,271.7 L298.05,271.6 L298.55,271.55 L299.05,271.77 L299.55,271.96 L300.05,271.88 L300.55,271.07 L301.05,271.82 L301.55,271.67 L302.05,271.57 L302.55,271.24 L303.05,271.32 L303.55,271.34 L304.05,271.02 L304.55,271.52 L305.05,271.34 L305.55,270.99 L306.05,270.57 L306.55,270.77 L307.05,270.2 L307.55,269.78 L308.05,268.98 L308.55,269.66 L309.05,270.3 L309.55,272.83 L310.05,273.45 L310.55,274.24 L311.05,273.79 L311.55,272.69 L312.05,272.66 L312.55,272.2 L313.05,271.93 L313.55,271.91 L314.05,271.7 L314.55,271.95 L315.05,271.92 L315.55,271.83 L316.05,271.55 L316.55,271.6 L317.05,272.06 L317.55,271.59 L318.05,271.65 L318.55,271.51 L319.05,271.75 L319.55,271.82 L320.05,271.79 L320.55,271.7 L321.05,271.76 L321.55,271.55 L322.05,271.73 L322.55,271.37 L323.05,271.6 L323.55,271.77 L324.05,271.35 L324.55,271.73 L325.05,271.62 L325.55,271.28 L326.05,271.16 L326.55,271.16 L327.05,271.28 L327.55,271.56 L328.05,271.53 L328.55,271.72 L329.05,271.92 L329.55,271.28 L330.05,270.89 L330.55,270.95 L331.05,270.76 L331.55,270.95 L332.05,270.84 L332.55,271.05 L333.05,270.17 L333.55,270.08 L334.05,269.54 L334.55,268.82 L335.05,267.74 L335.55,267.3 L336.05,266.38 L336.55,267.94 L337.05,271.88 L337.55,275.62 L338.05,277.37 L338.55,276.22 L339.05,275.36 L339.55,274.29 L340.05,273.62 L340.55,273.29 L341.05,272.58 L341.55,272.01 L342.05,272.26 L342.55,271.87 L343.05,272.13 L343.55,271.97 L344.05,272.32 L344.55,271.93 L345.05,271.59 L345.55,271.82 L346.05,271.95 L346.55,271.72 L347.05,271.67 L347.55,271.61 L348.05,271.56 L348.55,271.44 L349.05,271.9 L349.55,271.71 L350.05,271.3 L350.55,271.84 L351.05,271.6 L351.55,271.64 L352.05,271.61 L352.55,271.83 L353.05,271.07 L353.55,271.55 L354.05,271.66 L354.55,271.49 L355.05,271.14 L355.55,271.21 L356.05,271.51 L356.55,271.75 L357.05,270.97 L357.55,271.22 L358.05,271.36 L358.55,271.27 L359.05,271.23 L359.55,271.23 L360.05,270.95 L360.55,270.19 L361.05,270.07 L361.55,269.36 L362.05,268.84 L362.55,268.2 L363.05,267.06 L363.55,266.95 L364.05,268.3 L364.55,272.06 L365.05,275.86 L365.55,276.86 L366.05,276.46 L366.55,275.53 L367.05,274.57 L367.55,273.78 L368.05,272.9 L368.55,272.49 L369.05,272.21 L369.55,272.67 L370.05,272.1 L370.55,272.2 L371.05,271.93 L371.55,271.84 L372.05,271.78 L372.55,271.71 L373.05,271.78 L373.55,271.92 L374.05,271.44 L374.55,271.71 L375.05,271.62 L375.55,271.58 L376.05,271.81 L376.55,272.01 L377.05,271.35 L377.55,271.68 L378.05,271.87 L378.55,271.82 L379.05,271.27 L379.55,271.73 L380.05,271.52 L380.55,271.51 L381.05,271.76 L381.55,271.37 L382.05,271.64 L382.55,271.76 L383.05,271.42 L383.55,271.34 L384.05,272.01 L384.55,271.3 L385.05,271.79 L385.55,271.32 L386.05,271.48 L386.55,271.28 L387.05,271.36 L387.55,271.27 L388.05,270.88 L388.55,270.92 L389.05,270.92 L389.55,270.21 L390.05,269.44 L390.55,269.45 L391.05,268.84 L391.55,269.46 L392.05,270.87 L392.55,272.83 L393.05,274.05 L393.55,274.18 L394.05,273.69 L394.55,272.82 L395.05,272.4 L395.55,272.13 L396.05,272.45 L396.55,272.09 L397.05,271.74 L397.55,271.81 L398.05,272.1 L398.55,271.52 L399.05,271.65 L399.55,271.88 L400.05,271.85 L400.55,271.82 L401.05,271.47 L401.55,271.66 L402.05,271.12 L402.55,271.56 L403.05,271.5 L403.55,271.5 L404.05,271.88 L404.55,271.58 L405.05,271.57 L405.55,271.77 L406.05,272.01 L406.55,271.43 L407.05,271.77 L407.55,271.54 L408.05,271.27 L408.55,271.48 L409.05,271.68 L409.55,271.55 L410.05,271.51 L410.55,271.6 L411.05,271.54 L411.55,271.54 L412.05,271.38 L412.55,271.73 L413.05,271.1 L413.55,271.64 L414.05,271.43 L414.55,271.77 L415.05,271.35 L415.55,271.08 L416.05,271.71 L416.55,271.82 L417.05,271.2 L417.55,271.69 L418.05,271.66 L418.55,271.38 L419.05,271.74 L419.55,271.41 L420.05,271.82 L420.55,271.86 L421.05,271.51 L421.55,271.53 L422.05,271.62 L422.55,271.18 L423.05,271.45 L423.55,271.6 L424.05,272.09 L424.55,271.86 L425.05,271.66 L425.55,271.41 L426.05,271.68 L426.55,271.62 L427.05,271.3 L427.55,271.54 L428.05,271.3 L428.55,271.49 L429.05,270.88 L429.55,271.91 L430.05,271.48 L430.55,271.36 L431.05,271.45 L431.55,271.23 L432.05,271.56 L432.55,271.89 L433.05,271.66 L433.55,271.51 L434.05,271.56 L434.55,271.62 L435.05,271.51 L435.55,271.46 L436.05,271.6 L436.55,271.65 L437.05,271.47 L437.55,271.66 L438.05,271.33 L438.55,271.2 L439.05,271.17 L439.55,271.67 L440.05,271.42 L440.55,271.58 L441.05,271.42 L441.55,271.51 L442.05,271.63 L442.55,271.28 L443.05,271.45 L443.55,271.91 L444.05,272.02 L444.55,271.62 L445.05,271.63 L445.55,271.46 L446.05,271.36 L446.55,271.76 L447.05,271.86 L447.55,271.69" stroke="#858585" stroke-width="1.3" fill="none" stroke-linejoin="round"/>
<path d="M263.05,254.34 L263.55,254.17 L264.05,253.98 L264.55,253.82 L265.05,253.68 L265.55,254.1 L266.05,253.92 L266.55,253.91 L267.05,254.05 L267.55,254.09 L268.05,253.6 L268.55,254.3 L269.05,253.65 L269.55,254.51 L270.05,254.23 L270.55,253.99 L271.05,254.39 L271.55,254.1 L272.05,254.25 L272.55,254.12 L273.05,254.34 L273.55,254.33 L274.05,253.9 L274.55,253.96 L275.05,254.17 L275.55,254.05 L276.05,253.59 L276.55,254.54 L277.05,253.62 L277.55,253.64 L278.05,253.82 L278.55,254.22 L279.05,254.49 L279.55,254.04 L280.05,254.01 L280.55,254.13 L281.05,254.02 L281.55,254.11 L282.05,253.84 L282.55,254.19 L283.05,254.18 L283.55,253.56 L284.05,254.07 L284.55,254.13 L285.05,254.22 L285.55,253.91 L286.05,253.8 L286.55,253.88 L287.05,254.21 L287.55,253.9 L288.05,253.92 L288.55,254.34 L289.05,253.92 L289.55,253.89 L290.05,254.07 L290.55,254.13 L291.05,254.32 L291.55,253.89 L292.05,253.74 L292.55,254.06 L293.05,254.22 L293.55,253.75 L294.05,253.97 L294.55,254.14 L295.05,254.13 L295.55,254.09 L296.05,254.01 L296.55,253.89 L297.05,253.86 L297.55,254.31 L298.05,253.81 L298.55,254.32 L299.05,253.75 L299.55,254.67 L300.05,253.64 L300.55,254.36 L301.05,253.79 L301.55,253.94 L302.05,253.93 L302.55,253.76 L303.05,254.35 L303.55,253.83 L304.05,253.44 L304.55,253.77 L305.05,253.64 L305.55,253.03 L306.05,253.11 L306.55,252.6 L307.05,252.21 L307.55,251.49 L308.05,250.7 L308.55,250.69 L309.05,252.6 L309.55,255.25 L310.05,256.86 L310.55,257.44 L311.05,256.92 L311.55,256.26 L312.05,256.22 L312.55,255.19 L313.05,255.07 L313.55,255.11 L314.05,254.7 L314.55,254.57 L315.05,254.68 L315.55,254.37 L316.05,254.32 L316.55,254.4 L317.05,254.31 L317.55,254.04 L318.05,253.92 L318.55,254.13 L319.05,254.45 L319.55,254.08 L320.05,254.38 L320.55,254.21 L321.05,254.04 L321.55,253.52 L322.05,254.14 L322.55,254.02 L323.05,253.72 L323.55,254.18 L324.05,254.05 L324.55,254.13 L325.05,253.91 L325.55,254.07 L326.05,253.91 L326.55,254.23 L327.05,254.01 L327.55,253.65 L328.05,253.98 L328.55,253.92 L329.05,253.82 L329.55,253.52 L330.05,253.98 L330.55,253.51 L331.05,253.91 L331.55,253.28 L332.05,253.25 L332.55,252.98 L333.05,252.66 L333.55,252.7 L334.05,251.29 L334.55,250.85 L335.05,249.22 L335.55,247.53 L336.05,247.41 L336.55,249.34 L337.05,254.46 L337.55,258.66 L338.05,260.79 L338.55,259.99 L339.05,258.72 L339.55,257.49 L340.05,256.6 L340.55,256.28 L341.05,255.54 L341.55,254.72 L342.05,255.16 L342.55,254.73 L343.05,254.62 L343.55,254.09 L344.05,254.5 L344.55,254.25 L345.05,254.52 L345.55,254.37 L346.05,254.42 L346.55,254.14 L347.05,253.79 L347.55,254.39 L348.05,254.25 L348.55,254.08 L349.05,254.01 L349.55,253.93 L350.05,253.73 L350.55,253.84 L351.05,254.08 L351.55,254.43 L352.05,254.17 L352.55,254.41 L353.05,253.82 L353.55,254.31 L354.05,253.92 L354.55,254.32 L355.05,254.24 L355.55,253.95 L356.05,253.94 L356.55,254.14 L357.05,253.65 L357.55,253.28 L358.05,253.86 L358.55,254.05 L359.05,253.02 L359.55,253.29 L360.05,252.73 L360.55,252.56 L361.05,251.9 L361.55,251.59 L362.05,250.26 L362.55,249.02 L363.05,247.43 L363.55,247.31 L364.05,249.12 L364.55,254.27 L365.05,259 L365.55,260.37 L366.05,260.06 L366.55,258.38 L367.05,257.46 L367.55,256.54 L368.05,255.84 L368.55,255.41 L369.05,254.98 L369.55,255.01 L370.05,254.72 L370.55,254.49 L371.05,254.45 L371.55,254.28 L372.05,254.34 L372.55,254.25 L373.05,253.89 L373.55,254.62 L374.05,254.13 L374.55,254.06 L375.05,254.26 L375.55,253.72 L376.05,254.08 L376.55,254.22 L377.05,254.09 L377.55,254.15 L378.05,254.03 L378.55,254.04 L379.05,254.1 L379.55,254.14 L380.05,253.86 L380.55,254.15 L381.05,254.15 L381.55,253.94 L382.05,253.94 L382.55,254.08 L383.05,254.29 L383.55,254.26 L384.05,253.82 L384.55,253.86 L385.05,253.83 L385.55,254 L386.05,253.83 L386.55,253.87 L387.05,253.99 L387.55,253.65 L388.05,253.53 L388.55,253.29 L389.05,252.72 L389.55,252.41 L390.05,251.78 L390.55,251 L391.05,250.95 L391.55,251.22 L392.05,252.63 L392.55,255.8 L393.05,257.44 L393.55,257.45 L394.05,256.63 L394.55,256.04 L395.05,255.48 L395.55,255.07 L396.05,255.03 L396.55,254.69 L397.05,254.43 L397.55,254.39 L398.05,254.38 L398.55,254.08 L399.05,254.16 L399.55,254.38 L400.05,254.44 L400.55,253.69 L401.05,254.73 L401.55,254.04 L402.05,254.34 L402.55,253.86 L403.05,254.31 L403.55,254.15 L404.05,254.12 L404.55,254.07 L405.05,254.08 L405.55,254.29 L406.05,253.96 L406.55,254.07 L407.05,254.04 L407.55,253.76 L408.05,254.14 L408.55,254.11 L409.05,254.01 L409.55,253.81 L410.05,254.04 L410.55,254.08 L411.05,254.11 L411.55,254.12 L412.05,253.85 L412.55,254.33 L413.05,254.28 L413.55,254.28 L414.05,254.21 L414.55,254.4 L415.05,254.27 L415.55,254.35 L416.05,254.18 L416.55,254.14 L417.05,254.25 L417.55,253.95 L418.05,254.06 L418.55,254.15 L419.05,253.98 L419.55,253.57 L420.05,253.98 L420.55,253.94 L421.05,254.29 L421.55,253.68 L422.05,253.93 L422.55,254.45 L423.05,253.58 L423.55,254.04 L424.05,253.96 L424.55,253.72 L425.05,254.1 L425.55,253.91 L426.05,253.51 L426.55,253.97 L427.05,253.8 L427.55,254.34 L428.05,254.1 L428.55,253.86 L429.05,254.14 L429.55,254.52 L430.05,253.82 L430.55,253.88 L431.05,254.08 L431.55,254.11 L432.05,254.14 L432.55,253.77 L433.05,254.12 L433.55,253.84 L434.05,253.93 L434.55,254.3 L435.05,253.94 L435.55,254.23 L436.05,254.02 L436.55,254.13 L437.05,254.13 L437.55,254.24 L438.05,254.26 L438.55,253.93 L439.05,254.46 L439.55,254.23 L440.05,254.31 L440.55,254.32 L441.05,253.99 L441.55,254.09 L442.05,254.12 L442.55,254.16 L443.05,254.47 L443.55,254.51 L444.05,254.86 L444.55,254.5 L445.05,254.47 L445.55,254.09 L446.05,253.92 L446.55,254.11 L447.05,254.04 L447.55,253.88" stroke="#22c3c8" stroke-width="1.3" fill="none" stroke-linejoin="round"/>
<path d="M263.05,232.1 L263.55,231.95 L264.05,232.35 L264.55,231.95 L265.05,232.64 L265.55,232.4 L266.05,232.12 L266.55,232.32 L267.05,232.55 L267.55,232.82 L268.05,231.99 L268.55,232.43 L269.05,232.31 L269.55,232.14 L270.05,232.44 L270.55,232.31 L271.05,232.43 L271.55,232.08 L272.05,232.2 L272.55,232.28 L273.05,232.2 L273.55,232.2 L274.05,232.03 L274.55,232.22 L275.05,232.24 L275.55,232.18 L276.05,232.19 L276.55,232.35 L277.05,232.05 L277.55,232.35 L278.05,232.16 L278.55,232.21 L279.05,232.15 L279.55,232.39 L280.05,232.36 L280.55,232.2 L281.05,232.1 L281.55,232.6 L282.05,232.31 L282.55,231.94 L283.05,232.19 L283.55,232.17 L284.05,232.35 L284.55,232.14 L285.05,232.03 L285.55,232.49 L286.05,231.75 L286.55,231.88 L287.05,232.07 L287.55,232.08 L288.05,232.16 L288.55,232.19 L289.05,232.41 L289.55,231.85 L290.05,232.84 L290.55,232.32 L291.05,232.01 L291.55,232.06 L292.05,232.07 L292.55,231.69 L293.05,232.26 L293.55,231.93 L294.05,232.05 L294.55,231.93 L295.05,232.03 L295.55,232.17 L296.05,231.88 L296.55,232.49 L297.05,231.87 L297.55,232.03 L298.05,232.13 L298.55,232.26 L299.05,232.16 L299.55,232.11 L300.05,232.2 L300.55,232.15 L301.05,231.83 L301.55,232.15 L302.05,231.84 L302.55,231.68 L303.05,231.86 L303.55,231.69 L304.05,231.75 L304.55,231.62 L305.05,231.23 L305.55,231.16 L306.05,230.69 L306.55,229.8 L307.05,229.75 L307.55,228.47 L308.05,227.6 L308.55,227.92 L309.05,229.59 L309.55,233.49 L310.05,236.54 L310.55,236.42 L311.05,235.93 L311.55,235.53 L312.05,234.49 L312.55,233.55 L313.05,233.36 L313.55,233.22 L314.05,232.67 L314.55,232.7 L315.05,232.66 L315.55,232.51 L316.05,232.77 L316.55,232.41 L317.05,232.32 L317.55,232.37 L318.05,232.21 L318.55,232.1 L319.05,232.2 L319.55,232.1 L320.05,232.63 L320.55,232.69 L321.05,232.12 L321.55,231.58 L322.05,232.11 L322.55,232.32 L323.05,232.03 L323.55,232.31 L324.05,232.29 L324.55,232 L325.05,232.07 L325.55,231.89 L326.05,232 L326.55,231.83 L327.05,231.93 L327.55,232.35 L328.05,231.92 L328.55,232.19 L329.05,231.97 L329.55,231.51 L330.05,231.74 L330.55,231.56 L331.05,231.26 L331.55,231.25 L332.05,231.39 L332.55,231.07 L333.05,230.26 L333.55,229.55 L334.05,228.8 L334.55,227.62 L335.05,226.18 L335.55,224.01 L336.05,223.23 L336.55,225.97 L337.05,231.97 L337.55,238.64 L338.05,241.07 L338.55,239.75 L339.05,238.59 L339.55,236.62 L340.05,235.47 L340.55,234.57 L341.05,233.97 L341.55,233.56 L342.05,233.12 L342.55,232.58 L343.05,233.04 L343.55,232.69 L344.05,232.73 L344.55,232.59 L345.05,232.75 L345.55,232.42 L346.05,232.27 L346.55,232.95 L347.05,232.66 L347.55,232.5 L348.05,232.55 L348.55,232.57 L349.05,231.78 L349.55,232.11 L350.05,232.25 L350.55,232.34 L351.05,232.05 L351.55,232.21 L352.05,231.93 L352.55,232.08 L353.05,231.7 L353.55,232.01 L354.05,232.44 L354.55,231.79 L355.05,232.17 L355.55,231.71 L356.05,231.73 L356.55,232.42 L357.05,231.65 L357.55,231.74 L358.05,231.57 L358.55,230.93 L359.05,231.32 L359.55,231.27 L360.05,230.51 L360.55,230.06 L361.05,229.51 L361.55,228.89 L362.05,227.32 L362.55,226.04 L363.05,224.26 L363.55,223.05 L364.05,225.77 L364.55,232.52 L365.05,238.55 L365.55,241.16 L366.05,240.4 L366.55,238.23 L367.05,236.98 L367.55,235.67 L368.05,234.64 L368.55,234.25 L369.05,233.5 L369.55,233.35 L370.05,232.9 L370.55,232.67 L371.05,233.09 L371.55,233.01 L372.05,232.61 L372.55,232.75 L373.05,232.39 L373.55,232.28 L374.05,232.52 L374.55,232.7 L375.05,232.35 L375.55,232.36 L376.05,232.31 L376.55,232.1 L377.05,231.86 L377.55,232.29 L378.05,231.95 L378.55,232.6 L379.05,232.27 L379.55,232.35 L380.05,232.39 L380.55,231.96 L381.05,231.94 L381.55,232.48 L382.05,232.27 L382.55,232.17 L383.05,232.3 L383.55,231.65 L384.05,232.31 L384.55,232.09 L385.05,232.1 L385.55,232.12 L386.05,232.35 L386.55,231.97 L387.05,231.68 L387.55,231.36 L388.05,231.91 L388.55,230.59 L389.05,230.53 L389.55,229.92 L390.05,228.95 L390.55,228.05 L391.05,227.48 L391.55,227.87 L392.05,230.9 L392.55,234.74 L393.05,236.32 L393.55,236.63 L394.05,235.81 L394.55,234.82 L395.05,234.08 L395.55,233.56 L396.05,233.11 L396.55,232.79 L397.05,232.92 L397.55,232.66 L398.05,232.58 L398.55,232.83 L399.05,232.7 L399.55,232.32 L400.05,232.76 L400.55,232.36 L401.05,232.59 L401.55,231.93 L402.05,232.69 L402.55,232.27 L403.05,232.12 L403.55,232.09 L404.05,231.72 L404.55,231.97 L405.05,232.08 L405.55,232.58 L406.05,232.25 L406.55,232.14 L407.05,232.49 L407.55,232.31 L408.05,232.09 L408.55,232.03 L409.05,231.84 L409.55,232.19 L410.05,231.74 L410.55,232.4 L411.05,231.85 L411.55,232.22 L412.05,232.44 L412.55,232.03 L413.05,232.19 L413.55,232.64 L414.05,232.11 L414.55,232.43 L415.05,232.41 L415.55,231.81 L416.05,232.28 L416.55,231.94 L417.05,232.26 L417.55,232.28 L418.05,232.47 L418.55,232.2 L419.05,232.25 L419.55,232.29 L420.05,232.73 L420.55,232.3 L421.05,232.65 L421.55,232.08 L422.05,232.02 L422.55,232.37 L423.05,232.05 L423.55,232.27 L424.05,232.21 L424.55,232.7 L425.05,232.59 L425.55,232.72 L426.05,232.4 L426.55,232.19 L427.05,232.19 L427.55,232.66 L428.05,231.98 L428.55,232.11 L429.05,232.01 L429.55,232.47 L430.05,232.21 L430.55,232.42 L431.05,232.51 L431.55,232.85 L432.05,232.43 L432.55,231.7 L433.05,231.76 L433.55,232.18 L434.05,232.56 L434.55,232.02 L435.05,232.14 L435.55,231.91 L436.05,232.08 L436.55,232.28 L437.05,232.2 L437.55,232.25 L438.05,232.41 L438.55,232.16 L439.05,232.05 L439.55,231.61 L440.05,231.96 L440.55,232.48 L441.05,231.92 L441.55,232.06 L442.05,232 L442.55,232.19 L443.05,232.32 L443.55,232.03 L444.05,232 L444.55,232.32 L445.05,231.85 L445.55,232.26 L446.05,232.02 L446.55,232.15 L447.05,232.37 L447.55,232.35" stroke="#7d4e55" stroke-width="1.3" fill="none" stroke-linejoin="round"/>
<path d="M263.05,199.52 L263.55,199.82 L264.05,199.69 L264.55,199.46 L265.05,199.74 L265.55,199.28 L266.05,199.73 L266.55,199.47 L267.05,199.73 L267.55,199.69 L268.05,199.43 L268.55,199.71 L269.05,199.67 L269.55,199.45 L270.05,200.04 L270.55,199.77 L271.05,199.33 L271.55,199.38 L272.05,199.66 L272.55,199.66 L273.05,199.43 L273.55,199.86 L274.05,199.62 L274.55,199.4 L275.05,199.51 L275.55,199.55 L276.05,199.25 L276.55,199.41 L277.05,199.19 L277.55,199.53 L278.05,199.73 L278.55,199.31 L279.05,199.66 L279.55,199.33 L280.05,199.55 L280.55,199.48 L281.05,199.32 L281.55,199.47 L282.05,199.32 L282.55,199.65 L283.05,199.6 L283.55,199.85 L284.05,199.26 L284.55,199.83 L285.05,199.57 L285.55,199.67 L286.05,199.54 L286.55,199.92 L287.05,199.88 L287.55,199.81 L288.05,199.63 L288.55,199.06 L289.05,199.7 L289.55,199.57 L290.05,199.54 L290.55,199.66 L291.05,199.83 L291.55,199.62 L292.05,199.46 L292.55,199.39 L293.05,199.64 L293.55,199.79 L294.05,199.67 L294.55,199.64 L295.05,199.43 L295.55,199.26 L296.05,199.73 L296.55,199.64 L297.05,199.1 L297.55,199.33 L298.05,199.69 L298.55,199.69 L299.05,199.3 L299.55,199.91 L300.05,199.69 L300.55,199.56 L301.05,199.28 L301.55,198.94 L302.05,199.36 L302.55,199.48 L303.05,199.18 L303.55,198.59 L304.05,198.88 L304.55,198.21 L305.05,197.49 L305.55,197.51 L306.05,196.09 L306.55,195.64 L307.05,194.37 L307.55,192.54 L308.05,191.27 L308.55,191.01 L309.05,194.9 L309.55,202.51 L310.05,207.68 L310.55,208.37 L311.05,206.74 L311.55,205.21 L312.05,203.6 L312.55,202.53 L313.05,201.78 L313.55,201.42 L314.05,200.98 L314.55,200.88 L315.05,200.23 L315.55,200.39 L316.05,199.68 L316.55,199.98 L317.05,199.55 L317.55,199.65 L318.05,200.02 L318.55,199.54 L319.05,200.03 L319.55,200.06 L320.05,199.78 L320.55,199.57 L321.05,199.4 L321.55,199.41 L322.05,199.56 L322.55,199.33 L323.05,199.51 L323.55,199.34 L324.05,199.62 L324.55,199.06 L325.05,199.54 L325.55,199.62 L326.05,199.15 L326.55,199.65 L327.05,199.62 L327.55,199.38 L328.05,198.83 L328.55,199.13 L329.05,198.61 L329.55,198.74 L330.05,198.4 L330.55,198.5 L331.05,198.03 L331.55,197.9 L332.05,197.53 L332.55,196.5 L333.05,195.83 L333.55,194.28 L334.05,192.42 L334.55,189.74 L335.05,186.17 L335.55,182.52 L336.05,181.39 L336.55,186.77 L337.05,200.02 L337.55,213.38 L338.05,218.26 L338.55,216.49 L339.05,212.17 L339.55,209.18 L340.05,206.86 L340.55,204.79 L341.05,203.38 L341.55,202.4 L342.05,201.87 L342.55,201.24 L343.05,201.15 L343.55,200.67 L344.05,200.48 L344.55,200.43 L345.05,200.46 L345.55,200.05 L346.05,200.1 L346.55,199.87 L347.05,199.61 L347.55,199.82 L348.05,199.9 L348.55,199.82 L349.05,199.69 L349.55,199.62 L350.05,199.37 L350.55,199.58 L351.05,199.93 L351.55,199.5 L352.05,199.52 L352.55,199.8 L353.05,199.48 L353.55,199.47 L354.05,199.12 L354.55,199.5 L355.05,199.56 L355.55,199.18 L356.05,199.33 L356.55,199.21 L357.05,198.27 L357.55,199 L358.05,198.18 L358.55,198.31 L359.05,197.94 L359.55,197.29 L360.05,196.58 L360.55,195.63 L361.05,194.26 L361.55,192.35 L362.05,189.61 L362.55,186.26 L363.05,182.63 L363.55,181.18 L364.05,186.81 L364.55,200.14 L365.05,213.42 L365.55,218.25 L366.05,216.65 L366.55,212.31 L367.05,209.33 L367.55,206.62 L368.05,204.28 L368.55,203.27 L369.05,202.27 L369.55,201.94 L370.05,201.67 L370.55,201.26 L371.05,200.77 L371.55,200.81 L372.05,200.43 L372.55,200.27 L373.05,199.79 L373.55,199.88 L374.05,199.89 L374.55,199.74 L375.05,199.65 L375.55,199.72 L376.05,200.01 L376.55,199.86 L377.05,199.79 L377.55,199.63 L378.05,199.59 L378.55,199.66 L379.05,199.48 L379.55,199.66 L380.05,199.57 L380.55,199.51 L381.05,199.59 L381.55,199.53 L382.05,199.57 L382.55,199.27 L383.05,199.22 L383.55,199.21 L384.05,199.13 L384.55,199.56 L385.05,199.02 L385.55,199.18 L386.05,199.13 L386.55,199.12 L387.05,198.54 L387.55,198.16 L388.05,197.9 L388.55,197.66 L389.05,196.37 L389.55,195.44 L390.05,193.85 L390.55,191.51 L391.05,190.7 L391.55,191.88 L392.05,196.96 L392.55,204.65 L393.05,208.54 L393.55,208.26 L394.05,206.64 L394.55,204.96 L395.05,203.47 L395.55,202.19 L396.05,201.41 L396.55,200.99 L397.05,200.64 L397.55,200.67 L398.05,200.06 L398.55,200.01 L399.05,199.9 L399.55,200.27 L400.05,200.3 L400.55,199.98 L401.05,200.01 L401.55,199.95 L402.05,199.57 L402.55,199.61 L403.05,199.84 L403.55,199.74 L404.05,199.25 L404.55,199.48 L405.05,199.67 L405.55,199.36 L406.05,199.79 L406.55,199.79 L407.05,199.93 L407.55,199.4 L408.05,199.59 L408.55,199.81 L409.05,199.44 L409.55,199.64 L410.05,199.47 L410.55,199.62 L411.05,199.35 L411.55,199.62 L412.05,199.95 L412.55,199.86 L413.05,199.47 L413.55,199.58 L414.05,199.37 L414.55,199.82 L415.05,199.66 L415.55,199.84 L416.05,199.6 L416.55,199.46 L417.05,199.77 L417.55,199.33 L418.05,199.56 L418.55,199.84 L419.05,199.46 L419.55,198.99 L420.05,199.37 L420.55,200 L421.05,199.51 L421.55,199.33 L422.05,199.48 L422.55,199.89 L423.05,199.49 L423.55,199.35 L424.05,199.98 L424.55,199.61 L425.05,199.76 L425.55,199.26 L426.05,199.9 L426.55,199.63 L427.05,199.94 L427.55,199.86 L428.05,199.6 L428.55,199.63 L429.05,199.61 L429.55,200.24 L430.05,199.79 L430.55,199.91 L431.05,199.77 L431.55,199.19 L432.05,199.33 L432.55,199.94 L433.05,199.65 L433.55,199.47 L434.05,199.73 L434.55,199.65 L435.05,200.1 L435.55,199.48 L436.05,199.47 L436.55,199.67 L437.05,199.85 L437.55,199.63 L438.05,199.77 L438.55,199.59 L439.05,199.59 L439.55,199.57 L440.05,199.52 L440.55,199.8 L441.05,199.51 L441.55,199.84 L442.05,199.26 L442.55,199.13 L443.05,200.2 L443.55,199.34 L444.05,199.8 L444.55,199.64 L445.05,199.81 L445.55,200.12 L446.05,199.65 L446.55,199.78 L447.05,199.53 L447.55,199.74" stroke="#8c8c22" stroke-width="1.3" fill="none" stroke-linejoin="round"/>
<rect x="262.55" y="178.4" width="185.75" height="136.8" fill="none" stroke="#1a1a1a" stroke-width="1.45"/>
<path d="M262.55,315.2 V318 M299.7,315.2 V318 M336.85,315.2 V318 M374,315.2 V318 M411.15,315.2 V318 M448.3,315.2 V318 M281.12,315.2 V316.8 M318.27,315.2 V316.8 M355.43,315.2 V316.8 M392.58,315.2 V316.8 M429.73,315.2 V316.8" stroke="#000" stroke-width="1.1" fill="none"/>
<text x="262.55" y="327.3" font-size="9.5" text-anchor="middle" >3460</text>
<text x="299.7" y="327.3" font-size="9.5" text-anchor="middle" >3480</text>
<text x="336.85" y="327.3" font-size="9.5" text-anchor="middle" >3500</text>
<text x="374" y="327.3" font-size="9.5" text-anchor="middle" >3520</text>
<text x="411.15" y="327.3" font-size="9.5" text-anchor="middle" >3540</text>
<text x="448.3" y="327.3" font-size="9.5" text-anchor="middle" >3560</text>
<text x="355.6" y="338.5" font-size="9.6" text-anchor="middle" >Magnetic Field (G)</text>
<text transform="translate(249.5,247) rotate(-90)" x="0" y="0" font-size="9.6" text-anchor="middle">Intensity (arb. units)</text>
<text x="439.2" y="198.2" font-size="6.9" text-anchor="middle" >9</text>
<text x="439.2" y="230.7" font-size="6.9" text-anchor="middle" >8</text>
<text x="439.2" y="252" font-size="6.9" text-anchor="middle" >7</text>
<text x="439.2" y="270.9" font-size="6.9" text-anchor="middle" >6</text>
<text x="439.2" y="282" font-size="6.9" text-anchor="middle" >5</text>
<text x="439.2" y="289" font-size="6.9" text-anchor="middle" >4</text>
<text x="439.2" y="296.4" font-size="6.9" text-anchor="middle" >3</text>
<text x="439.2" y="303.1" font-size="6.9" text-anchor="middle" >2</text>
<text x="439.2" y="310.2" font-size="6.9" text-anchor="middle" >1</text>
<clipPath id="c2797"><rect x="279.45" y="7.5" width="168.95" height="135.95"/></clipPath>
<g clip-path="url(#c2797)">
<path d="M279.45,66.98 L279.9,69.37 L280.35,71.75 L280.8,74.1 L281.25,76.41 L281.7,78.66 L282.15,80.84 L282.6,82.94 L283.05,84.95 L283.5,86.85 L283.96,88.65 L284.41,90.34 L284.86,91.91 L285.31,93.36 L285.76,94.7 L286.21,95.91 L286.66,97.02 L287.11,98 L287.56,98.89 L288.01,99.66 L288.46,100.34 L288.91,100.92 L289.36,101.41 L289.81,101.81 L290.26,102.14 L290.71,102.4 L291.16,102.6 L291.61,102.73 L292.06,102.81 L292.52,102.85 L292.97,102.84 L293.42,102.79 L293.87,102.71 L294.32,102.6 L294.77,102.47 L295.22,102.32 L295.67,102.15 L296.12,101.96 L296.57,101.77 L297.02,101.56 L297.47,101.35 L297.92,101.14 L298.37,100.93 L298.82,100.72 L299.27,100.51 L299.72,100.3 L300.17,100.1 L300.63,99.91 L301.08,99.72 L301.53,99.54 L301.98,99.37 L302.43,99.22 L302.88,99.07 L303.33,98.93 L303.78,98.81 L304.23,98.7 L304.68,98.61 L305.13,98.53 L305.58,98.46 L306.03,98.4 L306.48,98.37 L306.93,98.34 L307.38,98.33 L307.83,98.34 L308.28,98.36 L308.73,98.4 L309.19,98.45 L309.64,98.51 L310.09,98.59 L310.54,98.69 L310.99,98.8 L311.44,98.92 L311.89,99.06 L312.34,99.21 L312.79,99.37 L313.24,99.55 L313.69,99.74 L314.14,99.94 L314.59,100.15 L315.04,100.37 L315.49,100.61 L315.94,100.85 L316.39,101.1 L316.84,101.36 L317.29,101.63 L317.75,101.91 L318.2,102.19 L318.65,102.48 L319.1,102.78 L319.55,103.08 L320,103.39 L320.45,103.7 L320.9,104.01 L321.35,104.33 L321.8,104.65 L322.25,104.97 L322.7,105.3 L323.15,105.62 L323.6,105.95 L324.05,106.27 L324.5,106.6 L324.95,106.93 L325.4,107.25 L325.85,107.58 L326.31,107.9 L326.76,108.22 L327.21,108.54 L327.66,108.85 L328.11,109.17 L328.56,109.48 L329.01,109.79 L329.46,110.09 L329.91,110.39 L330.36,110.69 L330.81,110.99 L331.26,111.28 L331.71,111.56 L332.16,111.85 L332.61,112.13 L333.06,112.4 L333.51,112.68 L333.96,112.95 L334.42,113.21 L334.87,113.47 L335.32,113.73 L335.77,113.99 L336.22,114.24 L336.67,114.48 L337.12,114.73 L337.57,114.97 L338.02,115.21 L338.47,115.44 L338.92,115.68 L339.37,115.91 L339.82,116.13 L340.27,116.36 L340.72,116.58 L341.17,116.8 L341.62,117.02 L342.07,117.24 L342.52,117.45 L342.98,117.66 L343.43,117.87 L343.88,118.08 L344.33,118.29 L344.78,118.5 L345.23,118.7 L345.68,118.9 L346.13,119.11 L346.58,119.31 L347.03,119.51 L347.48,119.71 L347.93,119.91 L348.38,120.11 L348.83,120.3 L349.28,120.5 L349.73,120.7 L350.18,120.89 L350.63,121.09 L351.08,121.28 L351.54,121.48 L351.99,121.67 L352.44,121.86 L352.89,122.05 L353.34,122.25 L353.79,122.44 L354.24,122.63 L354.69,122.82 L355.14,123.01 L355.59,123.2 L356.04,123.39 L356.49,123.58 L356.94,123.77 L357.39,123.96 L357.84,124.14 L358.29,124.33 L358.74,124.52 L359.19,124.7 L359.64,124.89 L360.1,125.07 L360.55,125.26 L361,125.44 L361.45,125.62 L361.9,125.8 L362.35,125.99 L362.8,126.17 L363.25,126.34 L363.7,126.52 L364.15,126.7 L364.6,126.88 L365.05,127.05 L365.5,127.23 L365.95,127.4 L366.4,127.57 L366.85,127.74 L367.3,127.91 L367.75,128.08 L368.21,128.25 L368.66,128.42 L369.11,128.58 L369.56,128.75 L370.01,128.91 L370.46,129.07 L370.91,129.23 L371.36,129.39 L371.81,129.54 L372.26,129.7 L372.71,129.85 L373.16,130.01 L373.61,130.16 L374.06,130.31 L374.51,130.46 L374.96,130.6 L375.41,130.75 L375.86,130.89 L376.31,131.04 L376.77,131.18 L377.22,131.32 L377.67,131.45 L378.12,131.59 L378.57,131.72 L379.02,131.86 L379.47,131.99 L379.92,132.12 L380.37,132.25 L380.82,132.37 L381.27,132.5 L381.72,132.62 L382.17,132.74 L382.62,132.86 L383.07,132.98 L383.52,133.1 L383.97,133.21 L384.42,133.33 L384.87,133.44 L385.33,133.55 L385.78,133.66 L386.23,133.77 L386.68,133.87 L387.13,133.98 L387.58,134.08 L388.03,134.18 L388.48,134.28 L388.93,134.38 L389.38,134.47 L389.83,134.57 L390.28,134.66 L390.73,134.76 L391.18,134.85 L391.63,134.94 L392.08,135.03 L392.53,135.11 L392.98,135.2 L393.43,135.28 L393.89,135.36 L394.34,135.45 L394.79,135.53 L395.24,135.6 L395.69,135.68 L396.14,135.76 L396.59,135.83 L397.04,135.91 L397.49,135.98 L397.94,136.05 L398.39,136.12 L398.84,136.19 L399.29,136.26 L399.74,136.33 L400.19,136.39 L400.64,136.46 L401.09,136.52 L401.54,136.58 L402,136.65 L402.45,136.71 L402.9,136.77 L403.35,136.82 L403.8,136.88 L404.25,136.94 L404.7,136.99 L405.15,137.05 L405.6,137.1 L406.05,137.16 L406.5,137.21 L406.95,137.26 L407.4,137.31 L407.85,137.36 L408.3,137.41 L408.75,137.46 L409.2,137.51 L409.65,137.55 L410.1,137.6 L410.56,137.64 L411.01,137.69 L411.46,137.73 L411.91,137.78 L412.36,137.82 L412.81,137.86 L413.26,137.9 L413.71,137.94 L414.16,137.98 L414.61,138.02 L415.06,138.06 L415.51,138.1 L415.96,138.14 L416.41,138.18 L416.86,138.21 L417.31,138.25 L417.76,138.29 L418.21,138.32 L418.66,138.36 L419.12,138.39 L419.57,138.43 L420.02,138.46 L420.47,138.49 L420.92,138.53 L421.37,138.56 L421.82,138.59 L422.27,138.62 L422.72,138.65 L423.17,138.68 L423.62,138.71 L424.07,138.74 L424.52,138.77 L424.97,138.8 L425.42,138.83 L425.87,138.86 L426.32,138.89 L426.77,138.92 L427.22,138.94 L427.68,138.97 L428.13,139 L428.58,139.03 L429.03,139.05 L429.48,139.08 L429.93,139.11 L430.38,139.13 L430.83,139.16 L431.28,139.18 L431.73,139.21 L432.18,139.23 L432.63,139.26 L433.08,139.28 L433.53,139.31 L433.98,139.33 L434.43,139.35 L434.88,139.38 L435.33,139.4 L435.79,139.42 L436.24,139.45 L436.69,139.47 L437.14,139.49 L437.59,139.51 L438.04,139.54 L438.49,139.56 L438.94,139.58 L439.39,139.6 L439.84,139.62 L440.29,139.65 L440.74,139.67 L441.19,139.69 L441.64,139.71 L442.09,139.73 L442.54,139.75 L442.99,139.77 L443.44,139.79 L443.89,139.81 L444.35,139.83 L444.8,139.85 L445.25,139.87 L445.7,139.89 L446.15,139.91 L446.6,139.93 L447.05,139.95 L447.5,139.97 L447.95,139.99 L448.4,140.01" stroke="#4d4d4d" stroke-width="1.25" fill="none" stroke-linejoin="round"/>
<path d="M279.45,63.51 L279.9,65.41 L280.35,67.39 L280.8,69.42 L281.25,71.5 L281.7,73.59 L282.15,75.67 L282.6,77.74 L283.05,79.76 L283.5,81.72 L283.96,83.6 L284.41,85.4 L284.86,87.1 L285.31,88.69 L285.76,90.16 L286.21,91.51 L286.66,92.73 L287.11,93.83 L287.56,94.79 L288.01,95.63 L288.46,96.35 L288.91,96.94 L289.36,97.41 L289.81,97.76 L290.26,98.01 L290.71,98.15 L291.16,98.2 L291.61,98.16 L292.06,98.04 L292.52,97.86 L292.97,97.62 L293.42,97.33 L293.87,96.99 L294.32,96.63 L294.77,96.24 L295.22,95.83 L295.67,95.41 L296.12,94.98 L296.57,94.55 L297.02,94.12 L297.47,93.69 L297.92,93.27 L298.37,92.86 L298.82,92.45 L299.27,92.05 L299.72,91.66 L300.17,91.29 L300.63,90.92 L301.08,90.57 L301.53,90.23 L301.98,89.91 L302.43,89.6 L302.88,89.31 L303.33,89.03 L303.78,88.77 L304.23,88.53 L304.68,88.3 L305.13,88.09 L305.58,87.91 L306.03,87.74 L306.48,87.59 L306.93,87.46 L307.38,87.35 L307.83,87.26 L308.28,87.2 L308.73,87.15 L309.19,87.12 L309.64,87.12 L310.09,87.13 L310.54,87.17 L310.99,87.22 L311.44,87.3 L311.89,87.39 L312.34,87.51 L312.79,87.64 L313.24,87.8 L313.69,87.97 L314.14,88.16 L314.59,88.36 L315.04,88.59 L315.49,88.83 L315.94,89.08 L316.39,89.35 L316.84,89.64 L317.29,89.94 L317.75,90.25 L318.2,90.57 L318.65,90.91 L319.1,91.26 L319.55,91.61 L320,91.98 L320.45,92.36 L320.9,92.74 L321.35,93.14 L321.8,93.54 L322.25,93.94 L322.7,94.35 L323.15,94.77 L323.6,95.19 L324.05,95.61 L324.5,96.04 L324.95,96.47 L325.4,96.9 L325.85,97.33 L326.31,97.77 L326.76,98.2 L327.21,98.63 L327.66,99.07 L328.11,99.5 L328.56,99.93 L329.01,100.35 L329.46,100.78 L329.91,101.2 L330.36,101.62 L330.81,102.03 L331.26,102.44 L331.71,102.85 L332.16,103.26 L332.61,103.66 L333.06,104.05 L333.51,104.44 L333.96,104.83 L334.42,105.21 L334.87,105.59 L335.32,105.96 L335.77,106.32 L336.22,106.69 L336.67,107.04 L337.12,107.4 L337.57,107.74 L338.02,108.09 L338.47,108.42 L338.92,108.76 L339.37,109.09 L339.82,109.41 L340.27,109.73 L340.72,110.05 L341.17,110.36 L341.62,110.67 L342.07,110.97 L342.52,111.27 L342.98,111.57 L343.43,111.86 L343.88,112.15 L344.33,112.44 L344.78,112.73 L345.23,113.01 L345.68,113.29 L346.13,113.56 L346.58,113.84 L347.03,114.11 L347.48,114.38 L347.93,114.65 L348.38,114.91 L348.83,115.18 L349.28,115.44 L349.73,115.7 L350.18,115.96 L350.63,116.22 L351.08,116.48 L351.54,116.73 L351.99,116.99 L352.44,117.24 L352.89,117.5 L353.34,117.75 L353.79,118 L354.24,118.25 L354.69,118.5 L355.14,118.75 L355.59,119 L356.04,119.25 L356.49,119.5 L356.94,119.75 L357.39,120 L357.84,120.24 L358.29,120.49 L358.74,120.73 L359.19,120.98 L359.64,121.22 L360.1,121.47 L360.55,121.71 L361,121.96 L361.45,122.2 L361.9,122.44 L362.35,122.68 L362.8,122.92 L363.25,123.16 L363.7,123.4 L364.15,123.63 L364.6,123.87 L365.05,124.11 L365.5,124.34 L365.95,124.57 L366.4,124.81 L366.85,125.04 L367.3,125.27 L367.75,125.5 L368.21,125.72 L368.66,125.95 L369.11,126.17 L369.56,126.39 L370.01,126.61 L370.46,126.83 L370.91,127.05 L371.36,127.26 L371.81,127.48 L372.26,127.69 L372.71,127.9 L373.16,128.11 L373.61,128.31 L374.06,128.52 L374.51,128.72 L374.96,128.92 L375.41,129.11 L375.86,129.31 L376.31,129.5 L376.77,129.69 L377.22,129.88 L377.67,130.06 L378.12,130.24 L378.57,130.42 L379.02,130.6 L379.47,130.78 L379.92,130.95 L380.37,131.12 L380.82,131.29 L381.27,131.45 L381.72,131.62 L382.17,131.78 L382.62,131.93 L383.07,132.09 L383.52,132.24 L383.97,132.39 L384.42,132.54 L384.87,132.68 L385.33,132.83 L385.78,132.97 L386.23,133.1 L386.68,133.24 L387.13,133.37 L387.58,133.5 L388.03,133.63 L388.48,133.75 L388.93,133.88 L389.38,134 L389.83,134.12 L390.28,134.23 L390.73,134.35 L391.18,134.46 L391.63,134.57 L392.08,134.67 L392.53,134.78 L392.98,134.88 L393.43,134.98 L393.89,135.08 L394.34,135.18 L394.79,135.27 L395.24,135.36 L395.69,135.45 L396.14,135.54 L396.59,135.63 L397.04,135.71 L397.49,135.8 L397.94,135.88 L398.39,135.96 L398.84,136.04 L399.29,136.11 L399.74,136.19 L400.19,136.26 L400.64,136.33 L401.09,136.4 L401.54,136.47 L402,136.54 L402.45,136.61 L402.9,136.67 L403.35,136.73 L403.8,136.8 L404.25,136.86 L404.7,136.92 L405.15,136.97 L405.6,137.03 L406.05,137.09 L406.5,137.14 L406.95,137.2 L407.4,137.25 L407.85,137.3 L408.3,137.35 L408.75,137.4 L409.2,137.45 L409.65,137.5 L410.1,137.54 L410.56,137.59 L411.01,137.64 L411.46,137.68 L411.91,137.72 L412.36,137.77 L412.81,137.81 L413.26,137.85 L413.71,137.89 L414.16,137.93 L414.61,137.97 L415.06,138.01 L415.51,138.05 L415.96,138.08 L416.41,138.12 L416.86,138.16 L417.31,138.19 L417.76,138.23 L418.21,138.26 L418.66,138.3 L419.12,138.33 L419.57,138.37 L420.02,138.4 L420.47,138.43 L420.92,138.46 L421.37,138.49 L421.82,138.53 L422.27,138.56 L422.72,138.59 L423.17,138.62 L423.62,138.65 L424.07,138.67 L424.52,138.7 L424.97,138.73 L425.42,138.76 L425.87,138.79 L426.32,138.82 L426.77,138.84 L427.22,138.87 L427.68,138.9 L428.13,138.92 L428.58,138.95 L429.03,138.98 L429.48,139 L429.93,139.03 L430.38,139.05 L430.83,139.08 L431.28,139.1 L431.73,139.13 L432.18,139.15 L432.63,139.17 L433.08,139.2 L433.53,139.22 L433.98,139.24 L434.43,139.27 L434.88,139.29 L435.33,139.31 L435.79,139.34 L436.24,139.36 L436.69,139.38 L437.14,139.4 L437.59,139.43 L438.04,139.45 L438.49,139.47 L438.94,139.49 L439.39,139.51 L439.84,139.53 L440.29,139.55 L440.74,139.57 L441.19,139.59 L441.64,139.62 L442.09,139.64 L442.54,139.66 L442.99,139.68 L443.44,139.7 L443.89,139.72 L444.35,139.74 L444.8,139.76 L445.25,139.78 L445.7,139.79 L446.15,139.81 L446.6,139.83 L447.05,139.85 L447.5,139.87 L447.95,139.89 L448.4,139.91" stroke="#ea4a4f" stroke-width="1.25" fill="none" stroke-linejoin="round"/>
<path d="M279.45,60.45 L279.9,61.92 L280.35,63.54 L280.8,65.3 L281.25,67.16 L281.7,69.1 L282.15,71.1 L282.6,73.13 L283.05,75.15 L283.5,77.15 L283.96,79.1 L284.41,80.98 L284.86,82.77 L285.31,84.45 L285.76,86.02 L286.21,87.46 L286.66,88.76 L287.11,89.91 L287.56,90.93 L288.01,91.79 L288.46,92.5 L288.91,93.07 L289.36,93.5 L289.81,93.79 L290.26,93.95 L290.71,93.99 L291.16,93.91 L291.61,93.73 L292.06,93.46 L292.52,93.11 L292.97,92.69 L293.42,92.21 L293.87,91.69 L294.32,91.13 L294.77,90.54 L295.22,89.94 L295.67,89.33 L296.12,88.71 L296.57,88.1 L297.02,87.49 L297.47,86.89 L297.92,86.29 L298.37,85.71 L298.82,85.14 L299.27,84.58 L299.72,84.04 L300.17,83.51 L300.63,83 L301.08,82.51 L301.53,82.03 L301.98,81.57 L302.43,81.13 L302.88,80.7 L303.33,80.3 L303.78,79.92 L304.23,79.56 L304.68,79.22 L305.13,78.9 L305.58,78.61 L306.03,78.34 L306.48,78.09 L306.93,77.87 L307.38,77.68 L307.83,77.51 L308.28,77.36 L308.73,77.24 L309.19,77.15 L309.64,77.08 L310.09,77.03 L310.54,77.02 L310.99,77.02 L311.44,77.06 L311.89,77.12 L312.34,77.2 L312.79,77.31 L313.24,77.44 L313.69,77.59 L314.14,77.77 L314.59,77.98 L315.04,78.2 L315.49,78.45 L315.94,78.71 L316.39,79 L316.84,79.31 L317.29,79.63 L317.75,79.97 L318.2,80.33 L318.65,80.71 L319.1,81.1 L319.55,81.51 L320,81.93 L320.45,82.37 L320.9,82.82 L321.35,83.28 L321.8,83.75 L322.25,84.22 L322.7,84.71 L323.15,85.21 L323.6,85.71 L324.05,86.22 L324.5,86.74 L324.95,87.26 L325.4,87.78 L325.85,88.31 L326.31,88.84 L326.76,89.37 L327.21,89.91 L327.66,90.44 L328.11,90.97 L328.56,91.51 L329.01,92.04 L329.46,92.57 L329.91,93.1 L330.36,93.62 L330.81,94.14 L331.26,94.66 L331.71,95.17 L332.16,95.68 L332.61,96.19 L333.06,96.69 L333.51,97.18 L333.96,97.67 L334.42,98.16 L334.87,98.63 L335.32,99.11 L335.77,99.57 L336.22,100.03 L336.67,100.49 L337.12,100.93 L337.57,101.37 L338.02,101.81 L338.47,102.24 L338.92,102.66 L339.37,103.08 L339.82,103.49 L340.27,103.89 L340.72,104.29 L341.17,104.68 L341.62,105.07 L342.07,105.45 L342.52,105.83 L342.98,106.2 L343.43,106.57 L343.88,106.93 L344.33,107.29 L344.78,107.64 L345.23,107.99 L345.68,108.34 L346.13,108.68 L346.58,109.02 L347.03,109.35 L347.48,109.68 L347.93,110.01 L348.38,110.34 L348.83,110.66 L349.28,110.98 L349.73,111.3 L350.18,111.62 L350.63,111.93 L351.08,112.25 L351.54,112.56 L351.99,112.87 L352.44,113.17 L352.89,113.48 L353.34,113.79 L353.79,114.09 L354.24,114.4 L354.69,114.7 L355.14,115 L355.59,115.31 L356.04,115.61 L356.49,115.91 L356.94,116.21 L357.39,116.51 L357.84,116.81 L358.29,117.1 L358.74,117.4 L359.19,117.7 L359.64,118 L360.1,118.29 L360.55,118.59 L361,118.88 L361.45,119.18 L361.9,119.47 L362.35,119.77 L362.8,120.06 L363.25,120.35 L363.7,120.64 L364.15,120.93 L364.6,121.22 L365.05,121.51 L365.5,121.8 L365.95,122.08 L366.4,122.37 L366.85,122.65 L367.3,122.94 L367.75,123.22 L368.21,123.49 L368.66,123.77 L369.11,124.05 L369.56,124.32 L370.01,124.59 L370.46,124.86 L370.91,125.13 L371.36,125.39 L371.81,125.66 L372.26,125.92 L372.71,126.18 L373.16,126.43 L373.61,126.68 L374.06,126.93 L374.51,127.18 L374.96,127.43 L375.41,127.67 L375.86,127.91 L376.31,128.14 L376.77,128.38 L377.22,128.61 L377.67,128.83 L378.12,129.06 L378.57,129.28 L379.02,129.5 L379.47,129.71 L379.92,129.92 L380.37,130.13 L380.82,130.33 L381.27,130.53 L381.72,130.73 L382.17,130.93 L382.62,131.12 L383.07,131.3 L383.52,131.49 L383.97,131.67 L384.42,131.85 L384.87,132.02 L385.33,132.19 L385.78,132.36 L386.23,132.52 L386.68,132.68 L387.13,132.84 L387.58,132.99 L388.03,133.14 L388.48,133.29 L388.93,133.44 L389.38,133.58 L389.83,133.72 L390.28,133.85 L390.73,133.98 L391.18,134.11 L391.63,134.24 L392.08,134.36 L392.53,134.48 L392.98,134.6 L393.43,134.72 L393.89,134.83 L394.34,134.94 L394.79,135.05 L395.24,135.15 L395.69,135.25 L396.14,135.35 L396.59,135.45 L397.04,135.54 L397.49,135.64 L397.94,135.73 L398.39,135.81 L398.84,135.9 L399.29,135.98 L399.74,136.07 L400.19,136.15 L400.64,136.22 L401.09,136.3 L401.54,136.37 L402,136.45 L402.45,136.52 L402.9,136.59 L403.35,136.65 L403.8,136.72 L404.25,136.78 L404.7,136.85 L405.15,136.91 L405.6,136.97 L406.05,137.03 L406.5,137.08 L406.95,137.14 L407.4,137.19 L407.85,137.25 L408.3,137.3 L408.75,137.35 L409.2,137.4 L409.65,137.45 L410.1,137.5 L410.56,137.54 L411.01,137.59 L411.46,137.63 L411.91,137.68 L412.36,137.72 L412.81,137.76 L413.26,137.8 L413.71,137.84 L414.16,137.88 L414.61,137.92 L415.06,137.96 L415.51,138 L415.96,138.04 L416.41,138.07 L416.86,138.11 L417.31,138.14 L417.76,138.18 L418.21,138.21 L418.66,138.25 L419.12,138.28 L419.57,138.31 L420.02,138.34 L420.47,138.38 L420.92,138.41 L421.37,138.44 L421.82,138.47 L422.27,138.5 L422.72,138.53 L423.17,138.56 L423.62,138.59 L424.07,138.61 L424.52,138.64 L424.97,138.67 L425.42,138.7 L425.87,138.73 L426.32,138.75 L426.77,138.78 L427.22,138.8 L427.68,138.83 L428.13,138.86 L428.58,138.88 L429.03,138.91 L429.48,138.93 L429.93,138.96 L430.38,138.98 L430.83,139.01 L431.28,139.03 L431.73,139.05 L432.18,139.08 L432.63,139.1 L433.08,139.12 L433.53,139.15 L433.98,139.17 L434.43,139.19 L434.88,139.21 L435.33,139.24 L435.79,139.26 L436.24,139.28 L436.69,139.3 L437.14,139.32 L437.59,139.35 L438.04,139.37 L438.49,139.39 L438.94,139.41 L439.39,139.43 L439.84,139.45 L440.29,139.47 L440.74,139.49 L441.19,139.51 L441.64,139.53 L442.09,139.55 L442.54,139.57 L442.99,139.59 L443.44,139.61 L443.89,139.63 L444.35,139.65 L444.8,139.67 L445.25,139.69 L445.7,139.71 L446.15,139.73 L446.6,139.75 L447.05,139.77 L447.5,139.79 L447.95,139.8 L448.4,139.82" stroke="#2f72c8" stroke-width="1.25" fill="none" stroke-linejoin="round"/>
<path d="M279.45,58.01 L279.9,59.13 L280.35,60.47 L280.8,61.99 L281.25,63.68 L281.7,65.5 L282.15,67.41 L282.6,69.38 L283.05,71.39 L283.5,73.38 L283.96,75.34 L284.41,77.23 L284.86,79.03 L285.31,80.72 L285.76,82.28 L286.21,83.7 L286.66,84.97 L287.11,86.07 L287.56,87.01 L288.01,87.79 L288.46,88.41 L288.91,88.88 L289.36,89.21 L289.81,89.39 L290.26,89.45 L290.71,89.39 L291.16,89.23 L291.61,88.97 L292.06,88.63 L292.52,88.21 L292.97,87.73 L293.42,87.2 L293.87,86.63 L294.32,86.02 L294.77,85.39 L295.22,84.73 L295.67,84.06 L296.12,83.37 L296.57,82.68 L297.02,81.99 L297.47,81.3 L297.92,80.61 L298.37,79.93 L298.82,79.25 L299.27,78.59 L299.72,77.94 L300.17,77.3 L300.63,76.68 L301.08,76.08 L301.53,75.49 L301.98,74.93 L302.43,74.38 L302.88,73.86 L303.33,73.36 L303.78,72.88 L304.23,72.42 L304.68,71.99 L305.13,71.59 L305.58,71.21 L306.03,70.86 L306.48,70.54 L306.93,70.24 L307.38,69.98 L307.83,69.74 L308.28,69.53 L308.73,69.35 L309.19,69.21 L309.64,69.09 L310.09,69 L310.54,68.94 L310.99,68.91 L311.44,68.91 L311.89,68.94 L312.34,69 L312.79,69.08 L313.24,69.2 L313.69,69.34 L314.14,69.51 L314.59,69.71 L315.04,69.94 L315.49,70.19 L315.94,70.46 L316.39,70.76 L316.84,71.08 L317.29,71.43 L317.75,71.8 L318.2,72.19 L318.65,72.6 L319.1,73.03 L319.55,73.47 L320,73.94 L320.45,74.42 L320.9,74.92 L321.35,75.43 L321.8,75.95 L322.25,76.49 L322.7,77.04 L323.15,77.6 L323.6,78.17 L324.05,78.75 L324.5,79.33 L324.95,79.93 L325.4,80.53 L325.85,81.13 L326.31,81.74 L326.76,82.35 L327.21,82.96 L327.66,83.58 L328.11,84.19 L328.56,84.81 L329.01,85.42 L329.46,86.04 L329.91,86.65 L330.36,87.26 L330.81,87.86 L331.26,88.47 L331.71,89.07 L332.16,89.66 L332.61,90.25 L333.06,90.83 L333.51,91.41 L333.96,91.98 L334.42,92.55 L334.87,93.1 L335.32,93.66 L335.77,94.2 L336.22,94.74 L336.67,95.27 L337.12,95.79 L337.57,96.31 L338.02,96.82 L338.47,97.32 L338.92,97.81 L339.37,98.3 L339.82,98.77 L340.27,99.25 L340.72,99.71 L341.17,100.17 L341.62,100.62 L342.07,101.06 L342.52,101.5 L342.98,101.93 L343.43,102.36 L343.88,102.78 L344.33,103.19 L344.78,103.6 L345.23,104 L345.68,104.4 L346.13,104.79 L346.58,105.18 L347.03,105.57 L347.48,105.95 L347.93,106.32 L348.38,106.7 L348.83,107.07 L349.28,107.44 L349.73,107.8 L350.18,108.16 L350.63,108.52 L351.08,108.88 L351.54,109.23 L351.99,109.59 L352.44,109.94 L352.89,110.29 L353.34,110.64 L353.79,110.98 L354.24,111.33 L354.69,111.67 L355.14,112.02 L355.59,112.36 L356.04,112.71 L356.49,113.05 L356.94,113.39 L357.39,113.73 L357.84,114.07 L358.29,114.41 L358.74,114.75 L359.19,115.09 L359.64,115.43 L360.1,115.77 L360.55,116.1 L361,116.44 L361.45,116.78 L361.9,117.11 L362.35,117.45 L362.8,117.78 L363.25,118.12 L363.7,118.45 L364.15,118.78 L364.6,119.12 L365.05,119.45 L365.5,119.78 L365.95,120.1 L366.4,120.43 L366.85,120.76 L367.3,121.08 L367.75,121.4 L368.21,121.72 L368.66,122.04 L369.11,122.36 L369.56,122.67 L370.01,122.98 L370.46,123.29 L370.91,123.6 L371.36,123.91 L371.81,124.21 L372.26,124.51 L372.71,124.8 L373.16,125.1 L373.61,125.39 L374.06,125.68 L374.51,125.96 L374.96,126.24 L375.41,126.52 L375.86,126.8 L376.31,127.07 L376.77,127.33 L377.22,127.6 L377.67,127.86 L378.12,128.12 L378.57,128.37 L379.02,128.62 L379.47,128.86 L379.92,129.1 L380.37,129.34 L380.82,129.57 L381.27,129.8 L381.72,130.03 L382.17,130.25 L382.62,130.47 L383.07,130.68 L383.52,130.89 L383.97,131.09 L384.42,131.29 L384.87,131.49 L385.33,131.68 L385.78,131.87 L386.23,132.06 L386.68,132.24 L387.13,132.42 L387.58,132.59 L388.03,132.76 L388.48,132.92 L388.93,133.09 L389.38,133.24 L389.83,133.4 L390.28,133.55 L390.73,133.7 L391.18,133.84 L391.63,133.98 L392.08,134.12 L392.53,134.25 L392.98,134.38 L393.43,134.51 L393.89,134.63 L394.34,134.75 L394.79,134.87 L395.24,134.98 L395.69,135.09 L396.14,135.2 L396.59,135.3 L397.04,135.41 L397.49,135.51 L397.94,135.6 L398.39,135.7 L398.84,135.79 L399.29,135.88 L399.74,135.97 L400.19,136.05 L400.64,136.14 L401.09,136.22 L401.54,136.3 L402,136.37 L402.45,136.45 L402.9,136.52 L403.35,136.59 L403.8,136.66 L404.25,136.73 L404.7,136.79 L405.15,136.85 L405.6,136.92 L406.05,136.98 L406.5,137.03 L406.95,137.09 L407.4,137.15 L407.85,137.2 L408.3,137.26 L408.75,137.31 L409.2,137.36 L409.65,137.41 L410.1,137.46 L410.56,137.5 L411.01,137.55 L411.46,137.6 L411.91,137.64 L412.36,137.68 L412.81,137.73 L413.26,137.77 L413.71,137.81 L414.16,137.85 L414.61,137.89 L415.06,137.92 L415.51,137.96 L415.96,138 L416.41,138.03 L416.86,138.07 L417.31,138.1 L417.76,138.14 L418.21,138.17 L418.66,138.21 L419.12,138.24 L419.57,138.27 L420.02,138.3 L420.47,138.33 L420.92,138.36 L421.37,138.39 L421.82,138.42 L422.27,138.45 L422.72,138.48 L423.17,138.51 L423.62,138.54 L424.07,138.57 L424.52,138.59 L424.97,138.62 L425.42,138.65 L425.87,138.67 L426.32,138.7 L426.77,138.73 L427.22,138.75 L427.68,138.78 L428.13,138.8 L428.58,138.83 L429.03,138.85 L429.48,138.88 L429.93,138.9 L430.38,138.93 L430.83,138.95 L431.28,138.97 L431.73,139 L432.18,139.02 L432.63,139.04 L433.08,139.07 L433.53,139.09 L433.98,139.11 L434.43,139.13 L434.88,139.15 L435.33,139.18 L435.79,139.2 L436.24,139.22 L436.69,139.24 L437.14,139.26 L437.59,139.28 L438.04,139.3 L438.49,139.33 L438.94,139.35 L439.39,139.37 L439.84,139.39 L440.29,139.41 L440.74,139.43 L441.19,139.45 L441.64,139.47 L442.09,139.49 L442.54,139.51 L442.99,139.53 L443.44,139.55 L443.89,139.57 L444.35,139.59 L444.8,139.6 L445.25,139.62 L445.7,139.64 L446.15,139.66 L446.6,139.68 L447.05,139.7 L447.5,139.72 L447.95,139.74 L448.4,139.75" stroke="#3ea86f" stroke-width="1.25" fill="none" stroke-linejoin="round"/>
<path d="M279.45,56.25 L279.9,57.11 L280.35,58.24 L280.8,59.61 L281.25,61.18 L281.7,62.91 L282.15,64.78 L282.6,66.74 L283.05,68.75 L283.5,70.77 L283.96,72.78 L284.41,74.73 L284.86,76.6 L285.31,78.36 L285.76,80 L286.21,81.49 L286.66,82.82 L287.11,83.98 L287.56,84.98 L288.01,85.8 L288.46,86.44 L288.91,86.92 L289.36,87.24 L289.81,87.4 L290.26,87.42 L290.71,87.3 L291.16,87.06 L291.61,86.71 L292.06,86.26 L292.52,85.74 L292.97,85.13 L293.42,84.47 L293.87,83.77 L294.32,83.02 L294.77,82.25 L295.22,81.45 L295.67,80.65 L296.12,79.83 L296.57,79.02 L297.02,78.21 L297.47,77.4 L297.92,76.6 L298.37,75.82 L298.82,75.04 L299.27,74.28 L299.72,73.54 L300.17,72.82 L300.63,72.11 L301.08,71.42 L301.53,70.75 L301.98,70.11 L302.43,69.48 L302.88,68.88 L303.33,68.31 L303.78,67.76 L304.23,67.24 L304.68,66.74 L305.13,66.27 L305.58,65.84 L306.03,65.43 L306.48,65.05 L306.93,64.7 L307.38,64.38 L307.83,64.1 L308.28,63.84 L308.73,63.62 L309.19,63.44 L309.64,63.28 L310.09,63.16 L310.54,63.07 L310.99,63.01 L311.44,62.99 L311.89,62.99 L312.34,63.03 L312.79,63.11 L313.24,63.21 L313.69,63.34 L314.14,63.51 L314.59,63.7 L315.04,63.93 L315.49,64.18 L315.94,64.47 L316.39,64.77 L316.84,65.11 L317.29,65.47 L317.75,65.86 L318.2,66.27 L318.65,66.7 L319.1,67.16 L319.55,67.63 L320,68.13 L320.45,68.64 L320.9,69.18 L321.35,69.73 L321.8,70.29 L322.25,70.87 L322.7,71.47 L323.15,72.07 L323.6,72.69 L324.05,73.32 L324.5,73.95 L324.95,74.6 L325.4,75.25 L325.85,75.91 L326.31,76.57 L326.76,77.24 L327.21,77.91 L327.66,78.59 L328.11,79.26 L328.56,79.94 L329.01,80.61 L329.46,81.29 L329.91,81.96 L330.36,82.63 L330.81,83.3 L331.26,83.97 L331.71,84.63 L332.16,85.28 L332.61,85.93 L333.06,86.57 L333.51,87.21 L333.96,87.84 L334.42,88.47 L334.87,89.09 L335.32,89.69 L335.77,90.3 L336.22,90.89 L336.67,91.48 L337.12,92.05 L337.57,92.62 L338.02,93.19 L338.47,93.74 L338.92,94.28 L339.37,94.82 L339.82,95.35 L340.27,95.87 L340.72,96.38 L341.17,96.88 L341.62,97.38 L342.07,97.87 L342.52,98.35 L342.98,98.83 L343.43,99.29 L343.88,99.75 L344.33,100.21 L344.78,100.66 L345.23,101.1 L345.68,101.54 L346.13,101.97 L346.58,102.39 L347.03,102.81 L347.48,103.23 L347.93,103.64 L348.38,104.05 L348.83,104.46 L349.28,104.86 L349.73,105.25 L350.18,105.65 L350.63,106.04 L351.08,106.43 L351.54,106.82 L351.99,107.2 L352.44,107.58 L352.89,107.97 L353.34,108.34 L353.79,108.72 L354.24,109.1 L354.69,109.48 L355.14,109.85 L355.59,110.22 L356.04,110.6 L356.49,110.97 L356.94,111.34 L357.39,111.71 L357.84,112.08 L358.29,112.45 L358.74,112.82 L359.19,113.19 L359.64,113.56 L360.1,113.93 L360.55,114.3 L361,114.67 L361.45,115.03 L361.9,115.4 L362.35,115.77 L362.8,116.13 L363.25,116.5 L363.7,116.86 L364.15,117.22 L364.6,117.59 L365.05,117.95 L365.5,118.31 L365.95,118.66 L366.4,119.02 L366.85,119.38 L367.3,119.73 L367.75,120.08 L368.21,120.43 L368.66,120.78 L369.11,121.13 L369.56,121.47 L370.01,121.81 L370.46,122.15 L370.91,122.49 L371.36,122.82 L371.81,123.16 L372.26,123.48 L372.71,123.81 L373.16,124.13 L373.61,124.45 L374.06,124.76 L374.51,125.07 L374.96,125.38 L375.41,125.69 L375.86,125.99 L376.31,126.28 L376.77,126.58 L377.22,126.87 L377.67,127.15 L378.12,127.43 L378.57,127.71 L379.02,127.98 L379.47,128.25 L379.92,128.51 L380.37,128.77 L380.82,129.02 L381.27,129.27 L381.72,129.52 L382.17,129.76 L382.62,129.99 L383.07,130.23 L383.52,130.45 L383.97,130.68 L384.42,130.89 L384.87,131.11 L385.33,131.32 L385.78,131.52 L386.23,131.72 L386.68,131.92 L387.13,132.11 L387.58,132.3 L388.03,132.48 L388.48,132.66 L388.93,132.83 L389.38,133 L389.83,133.17 L390.28,133.33 L390.73,133.49 L391.18,133.64 L391.63,133.79 L392.08,133.94 L392.53,134.08 L392.98,134.22 L393.43,134.35 L393.89,134.48 L394.34,134.61 L394.79,134.74 L395.24,134.86 L395.69,134.97 L396.14,135.09 L396.59,135.2 L397.04,135.31 L397.49,135.41 L397.94,135.52 L398.39,135.62 L398.84,135.71 L399.29,135.81 L399.74,135.9 L400.19,135.99 L400.64,136.07 L401.09,136.16 L401.54,136.24 L402,136.32 L402.45,136.4 L402.9,136.47 L403.35,136.54 L403.8,136.61 L404.25,136.68 L404.7,136.75 L405.15,136.82 L405.6,136.88 L406.05,136.94 L406.5,137 L406.95,137.06 L407.4,137.12 L407.85,137.17 L408.3,137.23 L408.75,137.28 L409.2,137.33 L409.65,137.38 L410.1,137.43 L410.56,137.48 L411.01,137.52 L411.46,137.57 L411.91,137.61 L412.36,137.66 L412.81,137.7 L413.26,137.74 L413.71,137.78 L414.16,137.82 L414.61,137.86 L415.06,137.9 L415.51,137.93 L415.96,137.97 L416.41,138.01 L416.86,138.04 L417.31,138.08 L417.76,138.11 L418.21,138.14 L418.66,138.18 L419.12,138.21 L419.57,138.24 L420.02,138.27 L420.47,138.3 L420.92,138.33 L421.37,138.36 L421.82,138.39 L422.27,138.42 L422.72,138.45 L423.17,138.48 L423.62,138.5 L424.07,138.53 L424.52,138.56 L424.97,138.59 L425.42,138.61 L425.87,138.64 L426.32,138.66 L426.77,138.69 L427.22,138.71 L427.68,138.74 L428.13,138.76 L428.58,138.79 L429.03,138.81 L429.48,138.84 L429.93,138.86 L430.38,138.88 L430.83,138.91 L431.28,138.93 L431.73,138.95 L432.18,138.98 L432.63,139 L433.08,139.02 L433.53,139.04 L433.98,139.07 L434.43,139.09 L434.88,139.11 L435.33,139.13 L435.79,139.15 L436.24,139.18 L436.69,139.2 L437.14,139.22 L437.59,139.24 L438.04,139.26 L438.49,139.28 L438.94,139.3 L439.39,139.32 L439.84,139.34 L440.29,139.36 L440.74,139.38 L441.19,139.4 L441.64,139.42 L442.09,139.44 L442.54,139.46 L442.99,139.48 L443.44,139.5 L443.89,139.52 L444.35,139.54 L444.8,139.56 L445.25,139.58 L445.7,139.59 L446.15,139.61 L446.6,139.63 L447.05,139.65 L447.5,139.67 L447.95,139.69 L448.4,139.71" stroke="#a47bd6" stroke-width="1.25" fill="none" stroke-linejoin="round"/>
<path d="M279.45,53.67 L279.9,54.18 L280.35,55.01 L280.8,56.13 L281.25,57.52 L281.7,59.12 L282.15,60.9 L282.6,62.81 L283.05,64.81 L283.5,66.84 L283.96,68.86 L284.41,70.85 L284.86,72.75 L285.31,74.54 L285.76,76.2 L286.21,77.69 L286.66,79.01 L287.11,80.15 L287.56,81.11 L288.01,81.87 L288.46,82.45 L288.91,82.84 L289.36,83.07 L289.81,83.14 L290.26,83.06 L290.71,82.84 L291.16,82.51 L291.61,82.07 L292.06,81.53 L292.52,80.91 L292.97,80.23 L293.42,79.48 L293.87,78.69 L294.32,77.86 L294.77,77 L295.22,76.12 L295.67,75.22 L296.12,74.31 L296.57,73.39 L297.02,72.47 L297.47,71.56 L297.92,70.65 L298.37,69.75 L298.82,68.86 L299.27,67.98 L299.72,67.12 L300.17,66.27 L300.63,65.45 L301.08,64.64 L301.53,63.86 L301.98,63.1 L302.43,62.37 L302.88,61.66 L303.33,60.98 L303.78,60.33 L304.23,59.71 L304.68,59.12 L305.13,58.56 L305.58,58.03 L306.03,57.54 L306.48,57.08 L306.93,56.65 L307.38,56.26 L307.83,55.91 L308.28,55.59 L308.73,55.31 L309.19,55.06 L309.64,54.85 L310.09,54.68 L310.54,54.55 L310.99,54.45 L311.44,54.39 L311.89,54.37 L312.34,54.38 L312.79,54.43 L313.24,54.52 L313.69,54.64 L314.14,54.8 L314.59,54.99 L315.04,55.21 L315.49,55.47 L315.94,55.76 L316.39,56.09 L316.84,56.44 L317.29,56.82 L317.75,57.24 L318.2,57.68 L318.65,58.14 L319.1,58.64 L319.55,59.16 L320,59.7 L320.45,60.26 L320.9,60.85 L321.35,61.45 L321.8,62.08 L322.25,62.72 L322.7,63.37 L323.15,64.05 L323.6,64.74 L324.05,65.44 L324.5,66.15 L324.95,66.87 L325.4,67.6 L325.85,68.34 L326.31,69.08 L326.76,69.83 L327.21,70.59 L327.66,71.35 L328.11,72.11 L328.56,72.87 L329.01,73.64 L329.46,74.4 L329.91,75.16 L330.36,75.92 L330.81,76.68 L331.26,77.43 L331.71,78.18 L332.16,78.93 L332.61,79.66 L333.06,80.4 L333.51,81.12 L333.96,81.84 L334.42,82.55 L334.87,83.25 L335.32,83.95 L335.77,84.63 L336.22,85.31 L336.67,85.97 L337.12,86.63 L337.57,87.28 L338.02,87.92 L338.47,88.55 L338.92,89.17 L339.37,89.78 L339.82,90.38 L340.27,90.97 L340.72,91.55 L341.17,92.12 L341.62,92.68 L342.07,93.24 L342.52,93.78 L342.98,94.32 L343.43,94.85 L343.88,95.37 L344.33,95.89 L344.78,96.39 L345.23,96.89 L345.68,97.38 L346.13,97.87 L346.58,98.35 L347.03,98.82 L347.48,99.29 L347.93,99.75 L348.38,100.21 L348.83,100.67 L349.28,101.12 L349.73,101.56 L350.18,102 L350.63,102.44 L351.08,102.88 L351.54,103.31 L351.99,103.74 L352.44,104.17 L352.89,104.6 L353.34,105.02 L353.79,105.44 L354.24,105.86 L354.69,106.28 L355.14,106.7 L355.59,107.12 L356.04,107.54 L356.49,107.95 L356.94,108.37 L357.39,108.78 L357.84,109.2 L358.29,109.61 L358.74,110.03 L359.19,110.44 L359.64,110.85 L360.1,111.26 L360.55,111.68 L361,112.09 L361.45,112.5 L361.9,112.91 L362.35,113.32 L362.8,113.73 L363.25,114.14 L363.7,114.55 L364.15,114.96 L364.6,115.36 L365.05,115.77 L365.5,116.17 L365.95,116.58 L366.4,116.98 L366.85,117.38 L367.3,117.77 L367.75,118.17 L368.21,118.56 L368.66,118.96 L369.11,119.35 L369.56,119.73 L370.01,120.12 L370.46,120.5 L370.91,120.88 L371.36,121.25 L371.81,121.63 L372.26,122 L372.71,122.36 L373.16,122.72 L373.61,123.08 L374.06,123.44 L374.51,123.79 L374.96,124.13 L375.41,124.48 L375.86,124.81 L376.31,125.15 L376.77,125.48 L377.22,125.8 L377.67,126.12 L378.12,126.44 L378.57,126.75 L379.02,127.05 L379.47,127.35 L379.92,127.65 L380.37,127.94 L380.82,128.22 L381.27,128.5 L381.72,128.77 L382.17,129.04 L382.62,129.31 L383.07,129.57 L383.52,129.82 L383.97,130.07 L384.42,130.31 L384.87,130.55 L385.33,130.78 L385.78,131.01 L386.23,131.23 L386.68,131.45 L387.13,131.66 L387.58,131.87 L388.03,132.07 L388.48,132.27 L388.93,132.46 L389.38,132.65 L389.83,132.83 L390.28,133.01 L390.73,133.18 L391.18,133.35 L391.63,133.52 L392.08,133.68 L392.53,133.83 L392.98,133.98 L393.43,134.13 L393.89,134.27 L394.34,134.41 L394.79,134.55 L395.24,134.68 L395.69,134.81 L396.14,134.93 L396.59,135.05 L397.04,135.17 L397.49,135.28 L397.94,135.39 L398.39,135.49 L398.84,135.6 L399.29,135.7 L399.74,135.8 L400.19,135.89 L400.64,135.98 L401.09,136.07 L401.54,136.16 L402,136.24 L402.45,136.32 L402.9,136.4 L403.35,136.48 L403.8,136.55 L404.25,136.62 L404.7,136.69 L405.15,136.76 L405.6,136.82 L406.05,136.89 L406.5,136.95 L406.95,137.01 L407.4,137.07 L407.85,137.13 L408.3,137.18 L408.75,137.23 L409.2,137.29 L409.65,137.34 L410.1,137.39 L410.56,137.44 L411.01,137.48 L411.46,137.53 L411.91,137.57 L412.36,137.62 L412.81,137.66 L413.26,137.7 L413.71,137.74 L414.16,137.78 L414.61,137.82 L415.06,137.86 L415.51,137.89 L415.96,137.93 L416.41,137.97 L416.86,138 L417.31,138.03 L417.76,138.07 L418.21,138.1 L418.66,138.13 L419.12,138.16 L419.57,138.2 L420.02,138.23 L420.47,138.26 L420.92,138.29 L421.37,138.31 L421.82,138.34 L422.27,138.37 L422.72,138.4 L423.17,138.43 L423.62,138.45 L424.07,138.48 L424.52,138.51 L424.97,138.53 L425.42,138.56 L425.87,138.58 L426.32,138.61 L426.77,138.63 L427.22,138.66 L427.68,138.68 L428.13,138.71 L428.58,138.73 L429.03,138.76 L429.48,138.78 L429.93,138.8 L430.38,138.83 L430.83,138.85 L431.28,138.87 L431.73,138.89 L432.18,138.92 L432.63,138.94 L433.08,138.96 L433.53,138.98 L433.98,139 L434.43,139.03 L434.88,139.05 L435.33,139.07 L435.79,139.09 L436.24,139.11 L436.69,139.13 L437.14,139.15 L437.59,139.17 L438.04,139.19 L438.49,139.21 L438.94,139.23 L439.39,139.25 L439.84,139.27 L440.29,139.29 L440.74,139.31 L441.19,139.33 L441.64,139.35 L442.09,139.37 L442.54,139.39 L442.99,139.41 L443.44,139.43 L443.89,139.45 L444.35,139.47 L444.8,139.49 L445.25,139.5 L445.7,139.52 L446.15,139.54 L446.6,139.56 L447.05,139.58 L447.5,139.6 L447.95,139.62 L448.4,139.63" stroke="#c99a3a" stroke-width="1.25" fill="none" stroke-linejoin="round"/>
</g>
<rect x="279.45" y="7.5" width="168.95" height="135.95" fill="none" stroke="#111" stroke-width="1.15"/>
<path d="M279.45,143.45 V146.05 M335.77,143.45 V146.05 M392.08,143.45 V146.05 M448.4,143.45 V146.05 M307.61,143.45 V144.95 M363.92,143.45 V144.95 M420.24,143.45 V144.95" stroke="#000" stroke-width="1.0" fill="none"/>
<text x="279.45" y="155.45" font-size="9.5" text-anchor="middle" >500</text>
<text x="335.77" y="155.45" font-size="9.5" text-anchor="middle" >550</text>
<text x="392.08" y="155.45" font-size="9.5" text-anchor="middle" >600</text>
<text x="448.4" y="155.45" font-size="9.5" text-anchor="middle" >650</text>
<path d="M279.45,143.45 H276.85 M279.45,109.46 H276.85 M279.45,75.47 H276.85 M279.45,41.49 H276.85 M279.45,7.5 H276.85 M279.45,126.46 H277.95 M279.45,92.47 H277.95 M279.45,58.48 H277.95 M279.45,24.49 H277.95" stroke="#000" stroke-width="1.0" fill="none"/>
<text x="274.6" y="146.85" font-size="9.5" text-anchor="end" >0</text>
<text x="274.6" y="112.86" font-size="9.5" text-anchor="end" >1000</text>
<text x="274.6" y="78.88" font-size="9.5" text-anchor="end" >2000</text>
<text x="274.6" y="44.89" font-size="9.5" text-anchor="end" >3000</text>
<text x="274.6" y="10.9" font-size="9.5" text-anchor="end" >4000</text>
<text x="363.5" y="167.65" font-size="9.6" text-anchor="middle" >Wavelength (nm)</text>
<text transform="translate(247.3,72.1) rotate(-90)" x="0" y="0" font-size="9.6" text-anchor="middle">Intensity (arb. units)</text>
<path d="M391.8,18.8 H411.7" stroke="#4d4d4d" stroke-width="1.1"/>
<text x="413.7" y="21.7" font-size="8.3">0 min</text>
<path d="M391.8,30.3 H411.7" stroke="#ea4a4f" stroke-width="1.1"/>
<text x="413.7" y="33.2" font-size="8.3">3 min</text>
<path d="M391.8,41.75 H411.7" stroke="#2f72c8" stroke-width="1.1"/>
<text x="413.7" y="44.65" font-size="8.3">6 min</text>
<path d="M391.8,53.2 H411.7" stroke="#3ea86f" stroke-width="1.1"/>
<text x="413.7" y="56.1" font-size="8.3">9 min</text>
<path d="M391.8,64.65 H411.7" stroke="#a47bd6" stroke-width="1.1"/>
<text x="413.7" y="67.55" font-size="8.3">12 min</text>
<path d="M391.8,76.1 H411.7" stroke="#c99a3a" stroke-width="1.1"/>
<text x="413.7" y="79" font-size="8.3">15 min</text>
<clipPath id="c5087"><rect x="508.45" y="7.5" width="168.95" height="135.95"/></clipPath>
<g clip-path="url(#c5087)">
<path d="M508.45,67.03 L508.9,69.96 L509.35,72.73 L509.8,75.35 L510.25,77.81 L510.7,80.12 L511.15,82.29 L511.6,84.32 L512.05,86.22 L512.5,87.98 L512.96,89.62 L513.41,91.14 L513.86,92.53 L514.31,93.82 L514.76,95 L515.21,96.07 L515.66,97.05 L516.11,97.93 L516.56,98.73 L517.01,99.44 L517.46,100.07 L517.91,100.63 L518.36,101.11 L518.81,101.53 L519.26,101.89 L519.71,102.19 L520.16,102.43 L520.61,102.63 L521.06,102.77 L521.52,102.88 L521.97,102.94 L522.42,102.97 L522.87,102.96 L523.32,102.93 L523.77,102.86 L524.22,102.78 L524.67,102.67 L525.12,102.54 L525.57,102.4 L526.02,102.24 L526.47,102.07 L526.92,101.89 L527.37,101.71 L527.82,101.52 L528.27,101.32 L528.72,101.13 L529.17,100.93 L529.63,100.74 L530.08,100.54 L530.53,100.36 L530.98,100.18 L531.43,100 L531.88,99.84 L532.33,99.68 L532.78,99.54 L533.23,99.4 L533.68,99.28 L534.13,99.17 L534.58,99.07 L535.03,98.99 L535.48,98.92 L535.93,98.87 L536.38,98.83 L536.83,98.8 L537.28,98.8 L537.73,98.8 L538.19,98.83 L538.64,98.87 L539.09,98.92 L539.54,98.99 L539.99,99.08 L540.44,99.18 L540.89,99.3 L541.34,99.43 L541.79,99.58 L542.24,99.74 L542.69,99.92 L543.14,100.11 L543.59,100.31 L544.04,100.52 L544.49,100.75 L544.94,100.98 L545.39,101.23 L545.84,101.49 L546.29,101.76 L546.75,102.04 L547.2,102.32 L547.65,102.61 L548.1,102.92 L548.55,103.22 L549,103.53 L549.45,103.85 L549.9,104.18 L550.35,104.5 L550.8,104.83 L551.25,105.17 L551.7,105.5 L552.15,105.84 L552.6,106.18 L553.05,106.52 L553.5,106.86 L553.95,107.2 L554.4,107.54 L554.85,107.88 L555.31,108.22 L555.76,108.55 L556.21,108.88 L556.66,109.22 L557.11,109.54 L557.56,109.87 L558.01,110.19 L558.46,110.51 L558.91,110.83 L559.36,111.14 L559.81,111.45 L560.26,111.76 L560.71,112.06 L561.16,112.35 L561.61,112.65 L562.06,112.93 L562.51,113.22 L562.96,113.5 L563.42,113.78 L563.87,114.05 L564.32,114.32 L564.77,114.58 L565.22,114.84 L565.67,115.1 L566.12,115.35 L566.57,115.6 L567.02,115.84 L567.47,116.09 L567.92,116.33 L568.37,116.56 L568.82,116.79 L569.27,117.02 L569.72,117.25 L570.17,117.47 L570.62,117.7 L571.07,117.91 L571.52,118.13 L571.98,118.35 L572.43,118.56 L572.88,118.77 L573.33,118.98 L573.78,119.18 L574.23,119.39 L574.68,119.59 L575.13,119.79 L575.58,119.99 L576.03,120.19 L576.48,120.39 L576.93,120.59 L577.38,120.78 L577.83,120.98 L578.28,121.17 L578.73,121.36 L579.18,121.56 L579.63,121.75 L580.08,121.94 L580.54,122.13 L580.99,122.32 L581.44,122.5 L581.89,122.69 L582.34,122.88 L582.79,123.06 L583.24,123.25 L583.69,123.44 L584.14,123.62 L584.59,123.8 L585.04,123.99 L585.49,124.17 L585.94,124.35 L586.39,124.54 L586.84,124.72 L587.29,124.9 L587.74,125.08 L588.19,125.26 L588.64,125.44 L589.1,125.61 L589.55,125.79 L590,125.97 L590.45,126.14 L590.9,126.32 L591.35,126.49 L591.8,126.67 L592.25,126.84 L592.7,127.01 L593.15,127.18 L593.6,127.35 L594.05,127.52 L594.5,127.69 L594.95,127.86 L595.4,128.03 L595.85,128.19 L596.3,128.36 L596.75,128.52 L597.21,128.69 L597.66,128.85 L598.11,129.01 L598.56,129.17 L599.01,129.33 L599.46,129.48 L599.91,129.64 L600.36,129.8 L600.81,129.95 L601.26,130.1 L601.71,130.25 L602.16,130.4 L602.61,130.55 L603.06,130.7 L603.51,130.85 L603.96,130.99 L604.41,131.14 L604.86,131.28 L605.31,131.42 L605.77,131.56 L606.22,131.7 L606.67,131.83 L607.12,131.97 L607.57,132.1 L608.02,132.24 L608.47,132.37 L608.92,132.5 L609.37,132.63 L609.82,132.76 L610.27,132.88 L610.72,133.01 L611.17,133.13 L611.62,133.25 L612.07,133.37 L612.52,133.49 L612.97,133.61 L613.42,133.72 L613.87,133.84 L614.33,133.95 L614.78,134.06 L615.23,134.17 L615.68,134.28 L616.13,134.39 L616.58,134.49 L617.03,134.6 L617.48,134.7 L617.93,134.8 L618.38,134.9 L618.83,135 L619.28,135.1 L619.73,135.19 L620.18,135.29 L620.63,135.38 L621.08,135.47 L621.53,135.56 L621.98,135.65 L622.43,135.74 L622.89,135.83 L623.34,135.91 L623.79,136 L624.24,136.08 L624.69,136.16 L625.14,136.24 L625.59,136.32 L626.04,136.4 L626.49,136.48 L626.94,136.55 L627.39,136.62 L627.84,136.7 L628.29,136.77 L628.74,136.84 L629.19,136.91 L629.64,136.98 L630.09,137.04 L630.54,137.11 L631,137.17 L631.45,137.24 L631.9,137.3 L632.35,137.36 L632.8,137.42 L633.25,137.48 L633.7,137.54 L634.15,137.6 L634.6,137.65 L635.05,137.71 L635.5,137.76 L635.95,137.82 L636.4,137.87 L636.85,137.92 L637.3,137.97 L637.75,138.02 L638.2,138.07 L638.65,138.12 L639.1,138.16 L639.56,138.21 L640.01,138.26 L640.46,138.3 L640.91,138.34 L641.36,138.39 L641.81,138.43 L642.26,138.47 L642.71,138.51 L643.16,138.55 L643.61,138.59 L644.06,138.63 L644.51,138.67 L644.96,138.7 L645.41,138.74 L645.86,138.78 L646.31,138.81 L646.76,138.84 L647.21,138.88 L647.66,138.91 L648.12,138.94 L648.57,138.98 L649.02,139.01 L649.47,139.04 L649.92,139.07 L650.37,139.1 L650.82,139.13 L651.27,139.16 L651.72,139.18 L652.17,139.21 L652.62,139.24 L653.07,139.26 L653.52,139.29 L653.97,139.32 L654.42,139.34 L654.87,139.37 L655.32,139.39 L655.77,139.41 L656.22,139.44 L656.68,139.46 L657.13,139.48 L657.58,139.51 L658.03,139.53 L658.48,139.55 L658.93,139.57 L659.38,139.59 L659.83,139.61 L660.28,139.63 L660.73,139.65 L661.18,139.67 L661.63,139.69 L662.08,139.71 L662.53,139.73 L662.98,139.75 L663.43,139.76 L663.88,139.78 L664.33,139.8 L664.79,139.82 L665.24,139.83 L665.69,139.85 L666.14,139.87 L666.59,139.88 L667.04,139.9 L667.49,139.91 L667.94,139.93 L668.39,139.94 L668.84,139.96 L669.29,139.97 L669.74,139.99 L670.19,140 L670.64,140.02 L671.09,140.03 L671.54,140.04 L671.99,140.06 L672.44,140.07 L672.89,140.08 L673.35,140.1 L673.8,140.11 L674.25,140.12 L674.7,140.14 L675.15,140.15 L675.6,140.16 L676.05,140.17 L676.5,140.19 L676.95,140.2 L677.4,140.21" stroke="#4d4d4d" stroke-width="1.25" fill="none" stroke-linejoin="round"/>
<path d="M508.45,61.92 L508.9,64.49 L509.35,66.96 L509.8,69.33 L510.25,71.58 L510.7,73.73 L511.15,75.77 L511.6,77.71 L512.05,79.54 L512.5,81.27 L512.96,82.89 L513.41,84.41 L513.86,85.83 L514.31,87.15 L514.76,88.37 L515.21,89.49 L515.66,90.5 L516.11,91.42 L516.56,92.23 L517.01,92.94 L517.46,93.53 L517.91,94.02 L518.36,94.41 L518.81,94.68 L519.26,94.85 L519.71,94.92 L520.16,94.9 L520.61,94.78 L521.06,94.59 L521.52,94.32 L521.97,93.99 L522.42,93.6 L522.87,93.17 L523.32,92.71 L523.77,92.21 L524.22,91.7 L524.67,91.16 L525.12,90.62 L525.57,90.06 L526.02,89.51 L526.47,88.94 L526.92,88.38 L527.37,87.82 L527.82,87.26 L528.27,86.71 L528.72,86.16 L529.17,85.62 L529.63,85.08 L530.08,84.56 L530.53,84.05 L530.98,83.55 L531.43,83.07 L531.88,82.61 L532.33,82.16 L532.78,81.74 L533.23,81.33 L533.68,80.95 L534.13,80.59 L534.58,80.26 L535.03,79.95 L535.48,79.67 L535.93,79.42 L536.38,79.19 L536.83,79 L537.28,78.83 L537.73,78.69 L538.19,78.59 L538.64,78.51 L539.09,78.46 L539.54,78.44 L539.99,78.46 L540.44,78.5 L540.89,78.57 L541.34,78.67 L541.79,78.79 L542.24,78.95 L542.69,79.13 L543.14,79.34 L543.59,79.58 L544.04,79.83 L544.49,80.12 L544.94,80.42 L545.39,80.75 L545.84,81.1 L546.29,81.47 L546.75,81.86 L547.2,82.26 L547.65,82.68 L548.1,83.12 L548.55,83.57 L549,84.04 L549.45,84.51 L549.9,85 L550.35,85.5 L550.8,86 L551.25,86.52 L551.7,87.03 L552.15,87.56 L552.6,88.09 L553.05,88.62 L553.5,89.16 L553.95,89.7 L554.4,90.23 L554.85,90.77 L555.31,91.31 L555.76,91.85 L556.21,92.38 L556.66,92.91 L557.11,93.44 L557.56,93.96 L558.01,94.48 L558.46,95 L558.91,95.51 L559.36,96.01 L559.81,96.51 L560.26,97 L560.71,97.49 L561.16,97.97 L561.61,98.44 L562.06,98.91 L562.51,99.37 L562.96,99.82 L563.42,100.27 L563.87,100.71 L564.32,101.15 L564.77,101.57 L565.22,101.99 L565.67,102.41 L566.12,102.82 L566.57,103.22 L567.02,103.62 L567.47,104.01 L567.92,104.39 L568.37,104.77 L568.82,105.15 L569.27,105.52 L569.72,105.89 L570.17,106.25 L570.62,106.61 L571.07,106.96 L571.52,107.31 L571.98,107.66 L572.43,108 L572.88,108.35 L573.33,108.68 L573.78,109.02 L574.23,109.35 L574.68,109.68 L575.13,110.01 L575.58,110.34 L576.03,110.66 L576.48,110.98 L576.93,111.31 L577.38,111.63 L577.83,111.94 L578.28,112.26 L578.73,112.58 L579.18,112.89 L579.63,113.21 L580.08,113.52 L580.54,113.83 L580.99,114.14 L581.44,114.45 L581.89,114.76 L582.34,115.07 L582.79,115.37 L583.24,115.68 L583.69,115.99 L584.14,116.29 L584.59,116.59 L585.04,116.9 L585.49,117.2 L585.94,117.5 L586.39,117.8 L586.84,118.1 L587.29,118.4 L587.74,118.69 L588.19,118.99 L588.64,119.28 L589.1,119.57 L589.55,119.87 L590,120.16 L590.45,120.44 L590.9,120.73 L591.35,121.02 L591.8,121.3 L592.25,121.58 L592.7,121.86 L593.15,122.14 L593.6,122.42 L594.05,122.7 L594.5,122.97 L594.95,123.24 L595.4,123.51 L595.85,123.78 L596.3,124.04 L596.75,124.3 L597.21,124.56 L597.66,124.82 L598.11,125.08 L598.56,125.33 L599.01,125.58 L599.46,125.83 L599.91,126.08 L600.36,126.32 L600.81,126.56 L601.26,126.8 L601.71,127.03 L602.16,127.27 L602.61,127.5 L603.06,127.72 L603.51,127.95 L603.96,128.17 L604.41,128.39 L604.86,128.61 L605.31,128.82 L605.77,129.03 L606.22,129.24 L606.67,129.45 L607.12,129.65 L607.57,129.85 L608.02,130.04 L608.47,130.24 L608.92,130.43 L609.37,130.62 L609.82,130.8 L610.27,130.99 L610.72,131.17 L611.17,131.34 L611.62,131.52 L612.07,131.69 L612.52,131.86 L612.97,132.02 L613.42,132.19 L613.87,132.35 L614.33,132.51 L614.78,132.66 L615.23,132.81 L615.68,132.96 L616.13,133.11 L616.58,133.26 L617.03,133.4 L617.48,133.54 L617.93,133.68 L618.38,133.81 L618.83,133.94 L619.28,134.07 L619.73,134.2 L620.18,134.32 L620.63,134.45 L621.08,134.57 L621.53,134.68 L621.98,134.8 L622.43,134.91 L622.89,135.02 L623.34,135.13 L623.79,135.24 L624.24,135.34 L624.69,135.45 L625.14,135.55 L625.59,135.65 L626.04,135.74 L626.49,135.84 L626.94,135.93 L627.39,136.02 L627.84,136.11 L628.29,136.2 L628.74,136.28 L629.19,136.36 L629.64,136.45 L630.09,136.53 L630.54,136.6 L631,136.68 L631.45,136.76 L631.9,136.83 L632.35,136.9 L632.8,136.97 L633.25,137.04 L633.7,137.11 L634.15,137.17 L634.6,137.24 L635.05,137.3 L635.5,137.36 L635.95,137.42 L636.4,137.48 L636.85,137.54 L637.3,137.6 L637.75,137.65 L638.2,137.71 L638.65,137.76 L639.1,137.81 L639.56,137.86 L640.01,137.91 L640.46,137.96 L640.91,138.01 L641.36,138.06 L641.81,138.1 L642.26,138.15 L642.71,138.19 L643.16,138.23 L643.61,138.27 L644.06,138.32 L644.51,138.36 L644.96,138.39 L645.41,138.43 L645.86,138.47 L646.31,138.51 L646.76,138.54 L647.21,138.58 L647.66,138.61 L648.12,138.65 L648.57,138.68 L649.02,138.71 L649.47,138.75 L649.92,138.78 L650.37,138.81 L650.82,138.84 L651.27,138.87 L651.72,138.9 L652.17,138.93 L652.62,138.95 L653.07,138.98 L653.52,139.01 L653.97,139.03 L654.42,139.06 L654.87,139.09 L655.32,139.11 L655.77,139.13 L656.22,139.16 L656.68,139.18 L657.13,139.21 L657.58,139.23 L658.03,139.25 L658.48,139.27 L658.93,139.29 L659.38,139.32 L659.83,139.34 L660.28,139.36 L660.73,139.38 L661.18,139.4 L661.63,139.42 L662.08,139.44 L662.53,139.46 L662.98,139.48 L663.43,139.49 L663.88,139.51 L664.33,139.53 L664.79,139.55 L665.24,139.57 L665.69,139.58 L666.14,139.6 L666.59,139.62 L667.04,139.63 L667.49,139.65 L667.94,139.67 L668.39,139.68 L668.84,139.7 L669.29,139.71 L669.74,139.73 L670.19,139.74 L670.64,139.76 L671.09,139.77 L671.54,139.79 L671.99,139.8 L672.44,139.82 L672.89,139.83 L673.35,139.84 L673.8,139.86 L674.25,139.87 L674.7,139.88 L675.15,139.9 L675.6,139.91 L676.05,139.92 L676.5,139.94 L676.95,139.95 L677.4,139.96" stroke="#ea4a4f" stroke-width="1.25" fill="none" stroke-linejoin="round"/>
<path d="M508.45,56.93 L508.9,59.15 L509.35,61.31 L509.8,63.41 L510.25,65.45 L510.7,67.42 L511.15,69.3 L511.6,71.1 L512.05,72.82 L512.5,74.44 L512.96,75.97 L513.41,77.41 L513.86,78.74 L514.31,79.96 L514.76,81.09 L515.21,82.1 L515.66,83.01 L516.11,83.8 L516.56,84.48 L517.01,85.04 L517.46,85.48 L517.91,85.81 L518.36,86.02 L518.81,86.11 L519.26,86.09 L519.71,85.96 L520.16,85.73 L520.61,85.4 L521.06,84.99 L521.52,84.49 L521.97,83.92 L522.42,83.28 L522.87,82.59 L523.32,81.86 L523.77,81.08 L524.22,80.28 L524.67,79.45 L525.12,78.59 L525.57,77.73 L526.02,76.85 L526.47,75.96 L526.92,75.07 L527.37,74.18 L527.82,73.29 L528.27,72.4 L528.72,71.53 L529.17,70.66 L529.63,69.8 L530.08,68.96 L530.53,68.14 L530.98,67.34 L531.43,66.56 L531.88,65.81 L532.33,65.08 L532.78,64.38 L533.23,63.71 L533.68,63.08 L534.13,62.48 L534.58,61.92 L535.03,61.39 L535.48,60.9 L535.93,60.46 L536.38,60.05 L536.83,59.69 L537.28,59.36 L537.73,59.09 L538.19,58.85 L538.64,58.66 L539.09,58.51 L539.54,58.4 L539.99,58.34 L540.44,58.33 L540.89,58.35 L541.34,58.42 L541.79,58.53 L542.24,58.68 L542.69,58.87 L543.14,59.09 L543.59,59.36 L544.04,59.66 L544.49,60 L544.94,60.37 L545.39,60.78 L545.84,61.22 L546.29,61.68 L546.75,62.18 L547.2,62.7 L547.65,63.25 L548.1,63.82 L548.55,64.41 L549,65.02 L549.45,65.65 L549.9,66.3 L550.35,66.96 L550.8,67.64 L551.25,68.33 L551.7,69.03 L552.15,69.73 L552.6,70.45 L553.05,71.17 L553.5,71.9 L553.95,72.63 L554.4,73.36 L554.85,74.09 L555.31,74.83 L555.76,75.56 L556.21,76.29 L556.66,77.01 L557.11,77.73 L557.56,78.45 L558.01,79.16 L558.46,79.87 L558.91,80.57 L559.36,81.26 L559.81,81.94 L560.26,82.62 L560.71,83.29 L561.16,83.94 L561.61,84.59 L562.06,85.23 L562.51,85.87 L562.96,86.49 L563.42,87.1 L563.87,87.71 L564.32,88.3 L564.77,88.89 L565.22,89.47 L565.67,90.03 L566.12,90.6 L566.57,91.15 L567.02,91.69 L567.47,92.23 L567.92,92.76 L568.37,93.28 L568.82,93.8 L569.27,94.31 L569.72,94.81 L570.17,95.31 L570.62,95.8 L571.07,96.28 L571.52,96.76 L571.98,97.24 L572.43,97.71 L572.88,98.18 L573.33,98.65 L573.78,99.11 L574.23,99.57 L574.68,100.02 L575.13,100.47 L575.58,100.92 L576.03,101.37 L576.48,101.81 L576.93,102.26 L577.38,102.7 L577.83,103.14 L578.28,103.57 L578.73,104.01 L579.18,104.44 L579.63,104.88 L580.08,105.31 L580.54,105.74 L580.99,106.17 L581.44,106.6 L581.89,107.02 L582.34,107.45 L582.79,107.87 L583.24,108.3 L583.69,108.72 L584.14,109.14 L584.59,109.56 L585.04,109.98 L585.49,110.4 L585.94,110.82 L586.39,111.23 L586.84,111.64 L587.29,112.06 L587.74,112.47 L588.19,112.87 L588.64,113.28 L589.1,113.69 L589.55,114.09 L590,114.49 L590.45,114.89 L590.9,115.28 L591.35,115.68 L591.8,116.07 L592.25,116.46 L592.7,116.84 L593.15,117.23 L593.6,117.61 L594.05,117.99 L594.5,118.36 L594.95,118.73 L595.4,119.1 L595.85,119.47 L596.3,119.83 L596.75,120.19 L597.21,120.54 L597.66,120.89 L598.11,121.24 L598.56,121.59 L599.01,121.93 L599.46,122.27 L599.91,122.6 L600.36,122.93 L600.81,123.25 L601.26,123.58 L601.71,123.89 L602.16,124.21 L602.61,124.52 L603.06,124.82 L603.51,125.12 L603.96,125.42 L604.41,125.71 L604.86,126 L605.31,126.29 L605.77,126.57 L606.22,126.84 L606.67,127.11 L607.12,127.38 L607.57,127.65 L608.02,127.91 L608.47,128.16 L608.92,128.41 L609.37,128.66 L609.82,128.9 L610.27,129.14 L610.72,129.37 L611.17,129.6 L611.62,129.83 L612.07,130.05 L612.52,130.27 L612.97,130.48 L613.42,130.69 L613.87,130.9 L614.33,131.1 L614.78,131.3 L615.23,131.49 L615.68,131.68 L616.13,131.87 L616.58,132.05 L617.03,132.23 L617.48,132.41 L617.93,132.58 L618.38,132.75 L618.83,132.91 L619.28,133.07 L619.73,133.23 L620.18,133.38 L620.63,133.53 L621.08,133.68 L621.53,133.83 L621.98,133.97 L622.43,134.11 L622.89,134.24 L623.34,134.37 L623.79,134.5 L624.24,134.63 L624.69,134.75 L625.14,134.87 L625.59,134.99 L626.04,135.1 L626.49,135.22 L626.94,135.32 L627.39,135.43 L627.84,135.54 L628.29,135.64 L628.74,135.74 L629.19,135.83 L629.64,135.93 L630.09,136.02 L630.54,136.11 L631,136.2 L631.45,136.29 L631.9,136.37 L632.35,136.45 L632.8,136.53 L633.25,136.61 L633.7,136.69 L634.15,136.76 L634.6,136.83 L635.05,136.9 L635.5,136.97 L635.95,137.04 L636.4,137.11 L636.85,137.17 L637.3,137.23 L637.75,137.29 L638.2,137.35 L638.65,137.41 L639.1,137.47 L639.56,137.52 L640.01,137.58 L640.46,137.63 L640.91,137.68 L641.36,137.73 L641.81,137.78 L642.26,137.83 L642.71,137.88 L643.16,137.92 L643.61,137.97 L644.06,138.01 L644.51,138.05 L644.96,138.09 L645.41,138.13 L645.86,138.17 L646.31,138.21 L646.76,138.25 L647.21,138.29 L647.66,138.32 L648.12,138.36 L648.57,138.39 L649.02,138.43 L649.47,138.46 L649.92,138.49 L650.37,138.53 L650.82,138.56 L651.27,138.59 L651.72,138.62 L652.17,138.65 L652.62,138.68 L653.07,138.7 L653.52,138.73 L653.97,138.76 L654.42,138.79 L654.87,138.81 L655.32,138.84 L655.77,138.86 L656.22,138.89 L656.68,138.91 L657.13,138.94 L657.58,138.96 L658.03,138.98 L658.48,139 L658.93,139.03 L659.38,139.05 L659.83,139.07 L660.28,139.09 L660.73,139.11 L661.18,139.13 L661.63,139.15 L662.08,139.17 L662.53,139.19 L662.98,139.21 L663.43,139.23 L663.88,139.25 L664.33,139.27 L664.79,139.29 L665.24,139.3 L665.69,139.32 L666.14,139.34 L666.59,139.36 L667.04,139.37 L667.49,139.39 L667.94,139.41 L668.39,139.42 L668.84,139.44 L669.29,139.46 L669.74,139.47 L670.19,139.49 L670.64,139.51 L671.09,139.52 L671.54,139.54 L671.99,139.55 L672.44,139.57 L672.89,139.58 L673.35,139.6 L673.8,139.61 L674.25,139.62 L674.7,139.64 L675.15,139.65 L675.6,139.67 L676.05,139.68 L676.5,139.7 L676.95,139.71 L677.4,139.72" stroke="#2f72c8" stroke-width="1.25" fill="none" stroke-linejoin="round"/>
<path d="M508.45,52.76 L508.9,54.69 L509.35,56.6 L509.8,58.49 L510.25,60.34 L510.7,62.16 L511.15,63.92 L511.6,65.61 L512.05,67.24 L512.5,68.79 L512.96,70.25 L513.41,71.62 L513.86,72.89 L514.31,74.06 L514.76,75.12 L515.21,76.06 L515.66,76.89 L516.11,77.6 L516.56,78.19 L517.01,78.65 L517.46,78.98 L517.91,79.18 L518.36,79.25 L518.81,79.2 L519.26,79.03 L519.71,78.73 L520.16,78.32 L520.61,77.8 L521.06,77.18 L521.52,76.48 L521.97,75.69 L522.42,74.83 L522.87,73.9 L523.32,72.92 L523.77,71.9 L524.22,70.83 L524.67,69.74 L525.12,68.62 L525.57,67.48 L526.02,66.32 L526.47,65.16 L526.92,63.99 L527.37,62.82 L527.82,61.65 L528.27,60.48 L528.72,59.33 L529.17,58.19 L529.63,57.06 L530.08,55.96 L530.53,54.87 L530.98,53.82 L531.43,52.79 L531.88,51.79 L532.33,50.83 L532.78,49.9 L533.23,49.02 L533.68,48.17 L534.13,47.37 L534.58,46.62 L535.03,45.91 L535.48,45.25 L535.93,44.64 L536.38,44.08 L536.83,43.58 L537.28,43.13 L537.73,42.73 L538.19,42.39 L538.64,42.1 L539.09,41.87 L539.54,41.69 L539.99,41.57 L540.44,41.5 L540.89,41.49 L541.34,41.53 L541.79,41.62 L542.24,41.77 L542.69,41.96 L543.14,42.21 L543.59,42.5 L544.04,42.84 L544.49,43.22 L544.94,43.65 L545.39,44.12 L545.84,44.63 L546.29,45.18 L546.75,45.77 L547.2,46.39 L547.65,47.04 L548.1,47.72 L548.55,48.43 L549,49.16 L549.45,49.92 L549.9,50.7 L550.35,51.51 L550.8,52.32 L551.25,53.16 L551.7,54.01 L552.15,54.87 L552.6,55.74 L553.05,56.62 L553.5,57.5 L553.95,58.39 L554.4,59.29 L554.85,60.18 L555.31,61.08 L555.76,61.97 L556.21,62.86 L556.66,63.75 L557.11,64.64 L557.56,65.51 L558.01,66.39 L558.46,67.25 L558.91,68.11 L559.36,68.95 L559.81,69.79 L560.26,70.62 L560.71,71.44 L561.16,72.25 L561.61,73.04 L562.06,73.83 L562.51,74.6 L562.96,75.37 L563.42,76.12 L563.87,76.86 L564.32,77.59 L564.77,78.31 L565.22,79.02 L565.67,79.72 L566.12,80.4 L566.57,81.08 L567.02,81.75 L567.47,82.41 L567.92,83.05 L568.37,83.69 L568.82,84.33 L569.27,84.95 L569.72,85.57 L570.17,86.18 L570.62,86.78 L571.07,87.38 L571.52,87.97 L571.98,88.55 L572.43,89.13 L572.88,89.71 L573.33,90.28 L573.78,90.84 L574.23,91.4 L574.68,91.96 L575.13,92.52 L575.58,93.07 L576.03,93.62 L576.48,94.16 L576.93,94.71 L577.38,95.25 L577.83,95.79 L578.28,96.33 L578.73,96.86 L579.18,97.4 L579.63,97.93 L580.08,98.46 L580.54,98.99 L580.99,99.52 L581.44,100.05 L581.89,100.57 L582.34,101.1 L582.79,101.62 L583.24,102.14 L583.69,102.66 L584.14,103.18 L584.59,103.7 L585.04,104.21 L585.49,104.73 L585.94,105.24 L586.39,105.75 L586.84,106.26 L587.29,106.77 L587.74,107.27 L588.19,107.78 L588.64,108.28 L589.1,108.77 L589.55,109.27 L590,109.76 L590.45,110.25 L590.9,110.74 L591.35,111.22 L591.8,111.71 L592.25,112.18 L592.7,112.66 L593.15,113.13 L593.6,113.6 L594.05,114.06 L594.5,114.52 L594.95,114.97 L595.4,115.43 L595.85,115.87 L596.3,116.32 L596.75,116.76 L597.21,117.19 L597.66,117.62 L598.11,118.05 L598.56,118.47 L599.01,118.88 L599.46,119.29 L599.91,119.7 L600.36,120.1 L600.81,120.5 L601.26,120.89 L601.71,121.27 L602.16,121.65 L602.61,122.03 L603.06,122.4 L603.51,122.77 L603.96,123.13 L604.41,123.48 L604.86,123.83 L605.31,124.17 L605.77,124.51 L606.22,124.84 L606.67,125.17 L607.12,125.49 L607.57,125.81 L608.02,126.12 L608.47,126.43 L608.92,126.73 L609.37,127.02 L609.82,127.31 L610.27,127.6 L610.72,127.88 L611.17,128.15 L611.62,128.42 L612.07,128.68 L612.52,128.94 L612.97,129.2 L613.42,129.44 L613.87,129.69 L614.33,129.93 L614.78,130.16 L615.23,130.39 L615.68,130.61 L616.13,130.83 L616.58,131.05 L617.03,131.26 L617.48,131.46 L617.93,131.66 L618.38,131.86 L618.83,132.05 L619.28,132.24 L619.73,132.42 L620.18,132.6 L620.63,132.77 L621.08,132.94 L621.53,133.11 L621.98,133.27 L622.43,133.43 L622.89,133.59 L623.34,133.74 L623.79,133.88 L624.24,134.03 L624.69,134.17 L625.14,134.31 L625.59,134.44 L626.04,134.57 L626.49,134.7 L626.94,134.82 L627.39,134.94 L627.84,135.06 L628.29,135.17 L628.74,135.28 L629.19,135.39 L629.64,135.5 L630.09,135.6 L630.54,135.7 L631,135.8 L631.45,135.9 L631.9,135.99 L632.35,136.08 L632.8,136.17 L633.25,136.25 L633.7,136.34 L634.15,136.42 L634.6,136.5 L635.05,136.57 L635.5,136.65 L635.95,136.72 L636.4,136.79 L636.85,136.86 L637.3,136.93 L637.75,136.99 L638.2,137.06 L638.65,137.12 L639.1,137.18 L639.56,137.24 L640.01,137.3 L640.46,137.35 L640.91,137.41 L641.36,137.46 L641.81,137.51 L642.26,137.56 L642.71,137.61 L643.16,137.66 L643.61,137.71 L644.06,137.75 L644.51,137.8 L644.96,137.84 L645.41,137.88 L645.86,137.93 L646.31,137.97 L646.76,138.01 L647.21,138.04 L647.66,138.08 L648.12,138.12 L648.57,138.15 L649.02,138.19 L649.47,138.22 L649.92,138.26 L650.37,138.29 L650.82,138.32 L651.27,138.35 L651.72,138.38 L652.17,138.41 L652.62,138.44 L653.07,138.47 L653.52,138.5 L653.97,138.53 L654.42,138.56 L654.87,138.58 L655.32,138.61 L655.77,138.64 L656.22,138.66 L656.68,138.69 L657.13,138.71 L657.58,138.73 L658.03,138.76 L658.48,138.78 L658.93,138.8 L659.38,138.83 L659.83,138.85 L660.28,138.87 L660.73,138.89 L661.18,138.91 L661.63,138.93 L662.08,138.95 L662.53,138.97 L662.98,138.99 L663.43,139.01 L663.88,139.03 L664.33,139.05 L664.79,139.07 L665.24,139.09 L665.69,139.11 L666.14,139.12 L666.59,139.14 L667.04,139.16 L667.49,139.18 L667.94,139.19 L668.39,139.21 L668.84,139.23 L669.29,139.25 L669.74,139.26 L670.19,139.28 L670.64,139.29 L671.09,139.31 L671.54,139.33 L671.99,139.34 L672.44,139.36 L672.89,139.37 L673.35,139.39 L673.8,139.4 L674.25,139.42 L674.7,139.43 L675.15,139.45 L675.6,139.46 L676.05,139.48 L676.5,139.49 L676.95,139.51 L677.4,139.52" stroke="#3ea86f" stroke-width="1.25" fill="none" stroke-linejoin="round"/>
<path d="M508.45,49.45 L508.9,51.14 L509.35,52.85 L509.8,54.57 L510.25,56.29 L510.7,57.98 L511.15,59.64 L511.6,61.26 L512.05,62.82 L512.5,64.31 L512.96,65.73 L513.41,67.06 L513.86,68.29 L514.31,69.42 L514.76,70.44 L515.21,71.35 L515.66,72.13 L516.11,72.79 L516.56,73.32 L517.01,73.71 L517.46,73.96 L517.91,74.08 L518.36,74.05 L518.81,73.88 L519.26,73.58 L519.71,73.15 L520.16,72.59 L520.61,71.91 L521.06,71.13 L521.52,70.24 L521.97,69.26 L522.42,68.21 L522.87,67.08 L523.32,65.89 L523.77,64.65 L524.22,63.37 L524.67,62.06 L525.12,60.71 L525.57,59.35 L526.02,57.97 L526.47,56.58 L526.92,55.18 L527.37,53.78 L527.82,52.39 L528.27,51 L528.72,49.62 L529.17,48.26 L529.63,46.92 L530.08,45.61 L530.53,44.32 L530.98,43.05 L531.43,41.83 L531.88,40.64 L532.33,39.49 L532.78,38.38 L533.23,37.32 L533.68,36.31 L534.13,35.35 L534.58,34.44 L535.03,33.59 L535.48,32.79 L535.93,32.05 L536.38,31.38 L536.83,30.76 L537.28,30.21 L537.73,29.71 L538.19,29.29 L538.64,28.92 L539.09,28.62 L539.54,28.39 L539.99,28.22 L540.44,28.11 L540.89,28.07 L541.34,28.09 L541.79,28.17 L542.24,28.31 L542.69,28.51 L543.14,28.77 L543.59,29.08 L544.04,29.45 L544.49,29.87 L544.94,30.34 L545.39,30.87 L545.84,31.43 L546.29,32.05 L546.75,32.7 L547.2,33.4 L547.65,34.14 L548.1,34.9 L548.55,35.71 L549,36.54 L549.45,37.4 L549.9,38.29 L550.35,39.2 L550.8,40.13 L551.25,41.09 L551.7,42.05 L552.15,43.03 L552.6,44.03 L553.05,45.03 L553.5,46.04 L553.95,47.06 L554.4,48.08 L554.85,49.11 L555.31,50.13 L555.76,51.16 L556.21,52.18 L556.66,53.2 L557.11,54.21 L557.56,55.22 L558.01,56.22 L558.46,57.21 L558.91,58.19 L559.36,59.16 L559.81,60.12 L560.26,61.07 L560.71,62.01 L561.16,62.94 L561.61,63.85 L562.06,64.75 L562.51,65.64 L562.96,66.52 L563.42,67.38 L563.87,68.23 L564.32,69.06 L564.77,69.89 L565.22,70.7 L565.67,71.5 L566.12,72.29 L566.57,73.07 L567.02,73.83 L567.47,74.59 L567.92,75.33 L568.37,76.07 L568.82,76.79 L569.27,77.51 L569.72,78.21 L570.17,78.91 L570.62,79.6 L571.07,80.29 L571.52,80.96 L571.98,81.63 L572.43,82.3 L572.88,82.96 L573.33,83.61 L573.78,84.26 L574.23,84.91 L574.68,85.55 L575.13,86.18 L575.58,86.82 L576.03,87.45 L576.48,88.07 L576.93,88.7 L577.38,89.32 L577.83,89.94 L578.28,90.56 L578.73,91.17 L579.18,91.79 L579.63,92.4 L580.08,93.01 L580.54,93.62 L580.99,94.23 L581.44,94.83 L581.89,95.44 L582.34,96.04 L582.79,96.64 L583.24,97.24 L583.69,97.84 L584.14,98.44 L584.59,99.03 L585.04,99.62 L585.49,100.22 L585.94,100.8 L586.39,101.39 L586.84,101.98 L587.29,102.56 L587.74,103.14 L588.19,103.72 L588.64,104.29 L589.1,104.87 L589.55,105.43 L590,106 L590.45,106.56 L590.9,107.12 L591.35,107.68 L591.8,108.23 L592.25,108.78 L592.7,109.32 L593.15,109.86 L593.6,110.4 L594.05,110.93 L594.5,111.46 L594.95,111.98 L595.4,112.5 L595.85,113.01 L596.3,113.52 L596.75,114.02 L597.21,114.52 L597.66,115.01 L598.11,115.5 L598.56,115.98 L599.01,116.46 L599.46,116.93 L599.91,117.39 L600.36,117.85 L600.81,118.3 L601.26,118.75 L601.71,119.19 L602.16,119.62 L602.61,120.05 L603.06,120.47 L603.51,120.89 L603.96,121.3 L604.41,121.7 L604.86,122.1 L605.31,122.49 L605.77,122.87 L606.22,123.25 L606.67,123.62 L607.12,123.99 L607.57,124.35 L608.02,124.7 L608.47,125.05 L608.92,125.39 L609.37,125.72 L609.82,126.05 L610.27,126.37 L610.72,126.69 L611.17,127 L611.62,127.3 L612.07,127.6 L612.52,127.89 L612.97,128.17 L613.42,128.45 L613.87,128.72 L614.33,128.99 L614.78,129.25 L615.23,129.51 L615.68,129.76 L616.13,130.01 L616.58,130.25 L617.03,130.48 L617.48,130.71 L617.93,130.93 L618.38,131.15 L618.83,131.36 L619.28,131.57 L619.73,131.77 L620.18,131.97 L620.63,132.17 L621.08,132.36 L621.53,132.54 L621.98,132.72 L622.43,132.89 L622.89,133.07 L623.34,133.23 L623.79,133.39 L624.24,133.55 L624.69,133.71 L625.14,133.86 L625.59,134 L626.04,134.14 L626.49,134.28 L626.94,134.42 L627.39,134.55 L627.84,134.68 L628.29,134.8 L628.74,134.92 L629.19,135.04 L629.64,135.16 L630.09,135.27 L630.54,135.38 L631,135.48 L631.45,135.58 L631.9,135.68 L632.35,135.78 L632.8,135.87 L633.25,135.97 L633.7,136.06 L634.15,136.14 L634.6,136.23 L635.05,136.31 L635.5,136.39 L635.95,136.47 L636.4,136.54 L636.85,136.62 L637.3,136.69 L637.75,136.76 L638.2,136.82 L638.65,136.89 L639.1,136.95 L639.56,137.01 L640.01,137.08 L640.46,137.13 L640.91,137.19 L641.36,137.25 L641.81,137.3 L642.26,137.35 L642.71,137.4 L643.16,137.45 L643.61,137.5 L644.06,137.55 L644.51,137.6 L644.96,137.64 L645.41,137.69 L645.86,137.73 L646.31,137.77 L646.76,137.81 L647.21,137.85 L647.66,137.89 L648.12,137.93 L648.57,137.96 L649.02,138 L649.47,138.03 L649.92,138.07 L650.37,138.1 L650.82,138.14 L651.27,138.17 L651.72,138.2 L652.17,138.23 L652.62,138.26 L653.07,138.29 L653.52,138.32 L653.97,138.35 L654.42,138.37 L654.87,138.4 L655.32,138.43 L655.77,138.45 L656.22,138.48 L656.68,138.51 L657.13,138.53 L657.58,138.55 L658.03,138.58 L658.48,138.6 L658.93,138.62 L659.38,138.65 L659.83,138.67 L660.28,138.69 L660.73,138.71 L661.18,138.73 L661.63,138.76 L662.08,138.78 L662.53,138.8 L662.98,138.82 L663.43,138.84 L663.88,138.86 L664.33,138.88 L664.79,138.9 L665.24,138.91 L665.69,138.93 L666.14,138.95 L666.59,138.97 L667.04,138.99 L667.49,139.01 L667.94,139.02 L668.39,139.04 L668.84,139.06 L669.29,139.08 L669.74,139.09 L670.19,139.11 L670.64,139.13 L671.09,139.14 L671.54,139.16 L671.99,139.18 L672.44,139.19 L672.89,139.21 L673.35,139.22 L673.8,139.24 L674.25,139.26 L674.7,139.27 L675.15,139.29 L675.6,139.3 L676.05,139.32 L676.5,139.33 L676.95,139.35 L677.4,139.36" stroke="#a47bd6" stroke-width="1.25" fill="none" stroke-linejoin="round"/>
<path d="M508.45,45.81 L508.9,47.25 L509.35,48.75 L509.8,50.29 L510.25,51.86 L510.7,53.44 L511.15,55 L511.6,56.55 L512.05,58.05 L512.5,59.49 L512.96,60.86 L513.41,62.15 L513.86,63.34 L514.31,64.42 L514.76,65.38 L515.21,66.21 L515.66,66.9 L516.11,67.45 L516.56,67.85 L517.01,68.1 L517.46,68.19 L517.91,68.13 L518.36,67.93 L518.81,67.58 L519.26,67.09 L519.71,66.46 L520.16,65.71 L520.61,64.85 L521.06,63.88 L521.52,62.82 L521.97,61.66 L522.42,60.43 L522.87,59.12 L523.32,57.76 L523.77,56.33 L524.22,54.86 L524.67,53.35 L525.12,51.8 L525.57,50.23 L526.02,48.63 L526.47,47.02 L526.92,45.4 L527.37,43.77 L527.82,42.14 L528.27,40.52 L528.72,38.9 L529.17,37.31 L529.63,35.74 L530.08,34.19 L530.53,32.67 L530.98,31.19 L531.43,29.74 L531.88,28.34 L532.33,26.98 L532.78,25.68 L533.23,24.42 L533.68,23.23 L534.13,22.09 L534.58,21.01 L535.03,20 L535.48,19.05 L535.93,18.17 L536.38,17.36 L536.83,16.62 L537.28,15.96 L537.73,15.36 L538.19,14.84 L538.64,14.39 L539.09,14.02 L539.54,13.72 L539.99,13.5 L540.44,13.35 L540.89,13.27 L541.34,13.27 L541.79,13.33 L542.24,13.47 L542.69,13.68 L543.14,13.95 L543.59,14.28 L544.04,14.69 L544.49,15.15 L544.94,15.67 L545.39,16.25 L545.84,16.88 L546.29,17.57 L546.75,18.3 L547.2,19.08 L547.65,19.91 L548.1,20.78 L548.55,21.68 L549,22.62 L549.45,23.6 L549.9,24.6 L550.35,25.64 L550.8,26.69 L551.25,27.77 L551.7,28.87 L552.15,29.99 L552.6,31.12 L553.05,32.26 L553.5,33.41 L553.95,34.57 L554.4,35.73 L554.85,36.9 L555.31,38.07 L555.76,39.23 L556.21,40.4 L556.66,41.56 L557.11,42.71 L557.56,43.86 L558.01,45 L558.46,46.13 L558.91,47.25 L559.36,48.36 L559.81,49.46 L560.26,50.54 L560.71,51.61 L561.16,52.67 L561.61,53.71 L562.06,54.74 L562.51,55.76 L562.96,56.76 L563.42,57.74 L563.87,58.71 L564.32,59.66 L564.77,60.61 L565.22,61.53 L565.67,62.45 L566.12,63.34 L566.57,64.23 L567.02,65.1 L567.47,65.97 L567.92,66.81 L568.37,67.65 L568.82,68.48 L569.27,69.3 L569.72,70.1 L570.17,70.9 L570.62,71.69 L571.07,72.47 L571.52,73.24 L571.98,74.01 L572.43,74.77 L572.88,75.52 L573.33,76.27 L573.78,77.01 L574.23,77.74 L574.68,78.48 L575.13,79.2 L575.58,79.93 L576.03,80.65 L576.48,81.36 L576.93,82.08 L577.38,82.79 L577.83,83.49 L578.28,84.2 L578.73,84.9 L579.18,85.6 L579.63,86.3 L580.08,87 L580.54,87.7 L580.99,88.39 L581.44,89.08 L581.89,89.78 L582.34,90.46 L582.79,91.15 L583.24,91.84 L583.69,92.52 L584.14,93.2 L584.59,93.89 L585.04,94.56 L585.49,95.24 L585.94,95.91 L586.39,96.58 L586.84,97.25 L587.29,97.92 L587.74,98.58 L588.19,99.24 L588.64,99.9 L589.1,100.56 L589.55,101.21 L590,101.85 L590.45,102.5 L590.9,103.14 L591.35,103.77 L591.8,104.4 L592.25,105.03 L592.7,105.65 L593.15,106.27 L593.6,106.88 L594.05,107.49 L594.5,108.09 L594.95,108.68 L595.4,109.27 L595.85,109.86 L596.3,110.44 L596.75,111.01 L597.21,111.58 L597.66,112.14 L598.11,112.69 L598.56,113.24 L599.01,113.78 L599.46,114.32 L599.91,114.85 L600.36,115.37 L600.81,115.88 L601.26,116.39 L601.71,116.89 L602.16,117.38 L602.61,117.87 L603.06,118.35 L603.51,118.82 L603.96,119.29 L604.41,119.74 L604.86,120.19 L605.31,120.64 L605.77,121.07 L606.22,121.5 L606.67,121.92 L607.12,122.33 L607.57,122.74 L608.02,123.14 L608.47,123.53 L608.92,123.91 L609.37,124.29 L609.82,124.66 L610.27,125.02 L610.72,125.37 L611.17,125.72 L611.62,126.06 L612.07,126.4 L612.52,126.72 L612.97,127.04 L613.42,127.36 L613.87,127.66 L614.33,127.96 L614.78,128.26 L615.23,128.54 L615.68,128.82 L616.13,129.1 L616.58,129.36 L617.03,129.62 L617.48,129.88 L617.93,130.13 L618.38,130.37 L618.83,130.61 L619.28,130.84 L619.73,131.06 L620.18,131.28 L620.63,131.5 L621.08,131.71 L621.53,131.91 L621.98,132.11 L622.43,132.3 L622.89,132.49 L623.34,132.67 L623.79,132.85 L624.24,133.03 L624.69,133.2 L625.14,133.36 L625.59,133.52 L626.04,133.68 L626.49,133.83 L626.94,133.98 L627.39,134.12 L627.84,134.26 L628.29,134.39 L628.74,134.52 L629.19,134.65 L629.64,134.78 L630.09,134.9 L630.54,135.02 L631,135.13 L631.45,135.24 L631.9,135.35 L632.35,135.45 L632.8,135.55 L633.25,135.65 L633.7,135.75 L634.15,135.84 L634.6,135.93 L635.05,136.02 L635.5,136.1 L635.95,136.19 L636.4,136.27 L636.85,136.34 L637.3,136.42 L637.75,136.49 L638.2,136.56 L638.65,136.63 L639.1,136.7 L639.56,136.77 L640.01,136.83 L640.46,136.89 L640.91,136.95 L641.36,137.01 L641.81,137.07 L642.26,137.12 L642.71,137.17 L643.16,137.23 L643.61,137.28 L644.06,137.33 L644.51,137.37 L644.96,137.42 L645.41,137.47 L645.86,137.51 L646.31,137.55 L646.76,137.6 L647.21,137.64 L647.66,137.68 L648.12,137.72 L648.57,137.75 L649.02,137.79 L649.47,137.83 L649.92,137.86 L650.37,137.9 L650.82,137.93 L651.27,137.96 L651.72,137.99 L652.17,138.03 L652.62,138.06 L653.07,138.09 L653.52,138.12 L653.97,138.14 L654.42,138.17 L654.87,138.2 L655.32,138.23 L655.77,138.25 L656.22,138.28 L656.68,138.31 L657.13,138.33 L657.58,138.36 L658.03,138.38 L658.48,138.4 L658.93,138.43 L659.38,138.45 L659.83,138.47 L660.28,138.5 L660.73,138.52 L661.18,138.54 L661.63,138.56 L662.08,138.58 L662.53,138.6 L662.98,138.62 L663.43,138.65 L663.88,138.67 L664.33,138.69 L664.79,138.7 L665.24,138.72 L665.69,138.74 L666.14,138.76 L666.59,138.78 L667.04,138.8 L667.49,138.82 L667.94,138.84 L668.39,138.85 L668.84,138.87 L669.29,138.89 L669.74,138.91 L670.19,138.93 L670.64,138.94 L671.09,138.96 L671.54,138.98 L671.99,138.99 L672.44,139.01 L672.89,139.03 L673.35,139.04 L673.8,139.06 L674.25,139.08 L674.7,139.09 L675.15,139.11 L675.6,139.12 L676.05,139.14 L676.5,139.16 L676.95,139.17 L677.4,139.19" stroke="#c99a3a" stroke-width="1.25" fill="none" stroke-linejoin="round"/>
</g>
<rect x="508.45" y="7.5" width="168.95" height="135.95" fill="none" stroke="#111" stroke-width="1.15"/>
<path d="M508.45,143.45 V146.05 M564.77,143.45 V146.05 M621.08,143.45 V146.05 M677.4,143.45 V146.05 M536.61,143.45 V144.95 M592.92,143.45 V144.95 M649.24,143.45 V144.95" stroke="#000" stroke-width="1.0" fill="none"/>
<text x="508.45" y="155.45" font-size="9.5" text-anchor="middle" >500</text>
<text x="564.77" y="155.45" font-size="9.5" text-anchor="middle" >550</text>
<text x="621.08" y="155.45" font-size="9.5" text-anchor="middle" >600</text>
<text x="677.4" y="155.45" font-size="9.5" text-anchor="middle" >650</text>
<path d="M508.45,143.45 H505.85 M508.45,109.46 H505.85 M508.45,75.47 H505.85 M508.45,41.49 H505.85 M508.45,7.5 H505.85 M508.45,126.46 H506.95 M508.45,92.47 H506.95 M508.45,58.48 H506.95 M508.45,24.49 H506.95" stroke="#000" stroke-width="1.0" fill="none"/>
<text x="503.5" y="146.85" font-size="9.5" text-anchor="end" >0</text>
<text x="503.5" y="112.86" font-size="9.5" text-anchor="end" >1000</text>
<text x="503.5" y="78.88" font-size="9.5" text-anchor="end" >2000</text>
<text x="503.5" y="44.89" font-size="9.5" text-anchor="end" >3000</text>
<text x="503.5" y="10.9" font-size="9.5" text-anchor="end" >4000</text>
<text x="592.6" y="167.65" font-size="9.6" text-anchor="middle" >Wavelength (nm)</text>
<text transform="translate(477.6,72.3) rotate(-90)" x="0" y="0" font-size="9.6" text-anchor="middle">Intensity (arb. units)</text>
<path d="M619,18.6 H638.8" stroke="#4d4d4d" stroke-width="1.1"/>
<text x="640.8" y="21.5" font-size="8.3">0 min</text>
<path d="M619,30.2 H638.8" stroke="#ea4a4f" stroke-width="1.1"/>
<text x="640.8" y="33.1" font-size="8.3">3 min</text>
<path d="M619,41.8 H638.8" stroke="#2f72c8" stroke-width="1.1"/>
<text x="640.8" y="44.7" font-size="8.3">6 min</text>
<path d="M619,53.3 H638.8" stroke="#3ea86f" stroke-width="1.1"/>
<text x="640.8" y="56.2" font-size="8.3">9 min</text>
<path d="M619,64.9 H638.8" stroke="#a47bd6" stroke-width="1.1"/>
<text x="640.8" y="67.8" font-size="8.3">12 min</text>
<path d="M619,76.5 H638.8" stroke="#c99a3a" stroke-width="1.1"/>
<text x="640.8" y="79.4" font-size="8.3">15 min</text>
<clipPath id="c46178"><rect x="46.45" y="178.4" width="168.75" height="136.05"/></clipPath>
<g clip-path="url(#c46178)">
<path d="M46.45,203 L46.9,204.02 L47.35,205.34 L47.8,206.95 L48.25,208.81 L48.7,210.89 L49.15,213.16 L49.6,215.59 L50.05,218.14 L50.5,220.78 L50.95,223.48 L51.4,226.19 L51.85,228.9 L52.3,231.57 L52.75,234.18 L53.2,236.69 L53.65,239.1 L54.1,241.38 L54.55,243.52 L55,245.52 L55.45,247.35 L55.9,249.02 L56.35,250.52 L56.8,251.86 L57.25,253.03 L57.7,254.05 L58.15,254.92 L58.6,255.64 L59.05,256.23 L59.5,256.69 L59.95,257.03 L60.4,257.27 L60.85,257.41 L61.3,257.47 L61.75,257.46 L62.2,257.37 L62.65,257.23 L63.1,257.05 L63.55,256.82 L64,256.57 L64.45,256.28 L64.9,255.98 L65.35,255.67 L65.8,255.35 L66.25,255.02 L66.7,254.7 L67.15,254.38 L67.6,254.06 L68.05,253.76 L68.5,253.47 L68.95,253.19 L69.4,252.93 L69.85,252.68 L70.3,252.45 L70.75,252.24 L71.2,252.06 L71.65,251.89 L72.1,251.74 L72.55,251.62 L73,251.51 L73.45,251.43 L73.9,251.37 L74.35,251.34 L74.8,251.32 L75.25,251.33 L75.7,251.36 L76.15,251.41 L76.6,251.48 L77.05,251.57 L77.5,251.68 L77.95,251.82 L78.4,251.97 L78.85,252.14 L79.3,252.33 L79.75,252.54 L80.2,252.76 L80.65,253 L81.1,253.26 L81.55,253.53 L82,253.82 L82.45,254.12 L82.9,254.44 L83.35,254.77 L83.8,255.11 L84.25,255.46 L84.7,255.82 L85.15,256.19 L85.6,256.57 L86.05,256.96 L86.5,257.36 L86.95,257.76 L87.4,258.17 L87.85,258.59 L88.3,259 L88.75,259.43 L89.2,259.85 L89.65,260.28 L90.1,260.71 L90.55,261.15 L91,261.58 L91.45,262.01 L91.9,262.45 L92.35,262.88 L92.8,263.31 L93.25,263.74 L93.7,264.17 L94.15,264.59 L94.6,265.01 L95.05,265.43 L95.5,265.85 L95.95,266.26 L96.4,266.66 L96.85,267.07 L97.3,267.46 L97.75,267.86 L98.2,268.24 L98.65,268.63 L99.1,269 L99.55,269.38 L100,269.74 L100.45,270.1 L100.9,270.46 L101.35,270.81 L101.8,271.16 L102.25,271.5 L102.7,271.83 L103.15,272.16 L103.6,272.49 L104.05,272.81 L104.5,273.12 L104.95,273.44 L105.4,273.74 L105.85,274.04 L106.3,274.34 L106.75,274.64 L107.2,274.93 L107.65,275.21 L108.1,275.5 L108.55,275.78 L109,276.06 L109.45,276.33 L109.9,276.6 L110.35,276.88 L110.8,277.14 L111.25,277.41 L111.7,277.68 L112.15,277.94 L112.6,278.2 L113.05,278.46 L113.5,278.73 L113.95,278.99 L114.4,279.25 L114.85,279.51 L115.3,279.76 L115.75,280.02 L116.2,280.28 L116.65,280.54 L117.1,280.8 L117.55,281.07 L118,281.33 L118.45,281.59 L118.9,281.85 L119.35,282.12 L119.8,282.38 L120.25,282.65 L120.7,282.91 L121.15,283.18 L121.6,283.45 L122.05,283.72 L122.5,283.99 L122.95,284.27 L123.4,284.54 L123.85,284.82 L124.3,285.09 L124.75,285.37 L125.2,285.65 L125.65,285.93 L126.1,286.21 L126.55,286.49 L127,286.77 L127.45,287.06 L127.9,287.34 L128.35,287.63 L128.8,287.91 L129.25,288.2 L129.7,288.48 L130.15,288.77 L130.6,289.05 L131.05,289.34 L131.5,289.63 L131.95,289.91 L132.4,290.2 L132.85,290.48 L133.3,290.77 L133.75,291.05 L134.2,291.34 L134.65,291.62 L135.1,291.9 L135.55,292.18 L136,292.46 L136.45,292.74 L136.9,293.02 L137.35,293.29 L137.8,293.57 L138.25,293.84 L138.7,294.11 L139.15,294.38 L139.6,294.64 L140.05,294.91 L140.5,295.17 L140.95,295.43 L141.4,295.69 L141.85,295.94 L142.3,296.19 L142.75,296.44 L143.2,296.69 L143.65,296.93 L144.1,297.18 L144.55,297.41 L145,297.65 L145.45,297.88 L145.9,298.11 L146.35,298.34 L146.8,298.56 L147.25,298.78 L147.7,299 L148.15,299.21 L148.6,299.42 L149.05,299.63 L149.5,299.84 L149.95,300.04 L150.4,300.23 L150.85,300.43 L151.3,300.62 L151.75,300.81 L152.2,300.99 L152.65,301.17 L153.1,301.35 L153.55,301.52 L154,301.69 L154.45,301.86 L154.9,302.02 L155.35,302.18 L155.8,302.34 L156.25,302.49 L156.7,302.65 L157.15,302.79 L157.6,302.94 L158.05,303.08 L158.5,303.22 L158.95,303.35 L159.4,303.49 L159.85,303.61 L160.3,303.74 L160.75,303.86 L161.2,303.98 L161.65,304.1 L162.1,304.22 L162.55,304.33 L163,304.44 L163.45,304.55 L163.9,304.65 L164.35,304.75 L164.8,304.85 L165.25,304.95 L165.7,305.04 L166.15,305.13 L166.6,305.22 L167.05,305.31 L167.5,305.4 L167.95,305.48 L168.4,305.56 L168.85,305.64 L169.3,305.72 L169.75,305.79 L170.2,305.87 L170.65,305.94 L171.1,306.01 L171.55,306.08 L172,306.14 L172.45,306.21 L172.9,306.27 L173.35,306.33 L173.8,306.39 L174.25,306.45 L174.7,306.51 L175.15,306.56 L175.6,306.62 L176.05,306.67 L176.5,306.72 L176.95,306.77 L177.4,306.82 L177.85,306.87 L178.3,306.91 L178.75,306.96 L179.2,307.01 L179.65,307.05 L180.1,307.09 L180.55,307.13 L181,307.17 L181.45,307.21 L181.9,307.25 L182.35,307.29 L182.8,307.33 L183.25,307.37 L183.7,307.4 L184.15,307.44 L184.6,307.47 L185.05,307.51 L185.5,307.54 L185.95,307.57 L186.4,307.61 L186.85,307.64 L187.3,307.67 L187.75,307.7 L188.2,307.73 L188.65,307.76 L189.1,307.79 L189.55,307.82 L190,307.85 L190.45,307.87 L190.9,307.9 L191.35,307.93 L191.8,307.96 L192.25,307.98 L192.7,308.01 L193.15,308.03 L193.6,308.06 L194.05,308.09 L194.5,308.11 L194.95,308.13 L195.4,308.16 L195.85,308.18 L196.3,308.21 L196.75,308.23 L197.2,308.25 L197.65,308.28 L198.1,308.3 L198.55,308.32 L199,308.35 L199.45,308.37 L199.9,308.39 L200.35,308.41 L200.8,308.43 L201.25,308.46 L201.7,308.48 L202.15,308.5 L202.6,308.52 L203.05,308.54 L203.5,308.56 L203.95,308.58 L204.4,308.6 L204.85,308.62 L205.3,308.64 L205.75,308.66 L206.2,308.68 L206.65,308.7 L207.1,308.72 L207.55,308.74 L208,308.76 L208.45,308.78 L208.9,308.8 L209.35,308.82 L209.8,308.84 L210.25,308.86 L210.7,308.88 L211.15,308.9 L211.6,308.92 L212.05,308.94 L212.5,308.96 L212.95,308.97 L213.4,308.99 L213.85,309.01 L214.3,309.03 L214.75,309.05 L215.2,309.07" stroke="#555555" stroke-width="1.3" fill="none" stroke-linejoin="round"/>
<path d="M46.45,197.75 L46.9,199.7 L47.35,201.79 L47.8,204.01 L48.25,206.37 L48.7,208.84 L49.15,211.43 L49.6,214.11 L50.05,216.84 L50.5,219.62 L50.95,222.41 L51.4,225.19 L51.85,227.93 L52.3,230.61 L52.75,233.2 L53.2,235.69 L53.65,238.06 L54.1,240.28 L54.55,242.36 L55,244.29 L55.45,246.04 L55.9,247.63 L56.35,249.05 L56.8,250.31 L57.25,251.4 L57.7,252.33 L58.15,253.11 L58.6,253.74 L59.05,254.24 L59.5,254.62 L59.95,254.88 L60.4,255.03 L60.85,255.09 L61.3,255.07 L61.75,254.97 L62.2,254.81 L62.65,254.59 L63.1,254.33 L63.55,254.03 L64,253.7 L64.45,253.34 L64.9,252.97 L65.35,252.58 L65.8,252.19 L66.25,251.8 L66.7,251.4 L67.15,251.02 L67.6,250.64 L68.05,250.27 L68.5,249.91 L68.95,249.57 L69.4,249.25 L69.85,248.95 L70.3,248.67 L70.75,248.4 L71.2,248.16 L71.65,247.95 L72.1,247.75 L72.55,247.58 L73,247.43 L73.45,247.31 L73.9,247.21 L74.35,247.14 L74.8,247.09 L75.25,247.06 L75.7,247.06 L76.15,247.09 L76.6,247.13 L77.05,247.2 L77.5,247.29 L77.95,247.41 L78.4,247.55 L78.85,247.71 L79.3,247.89 L79.75,248.09 L80.2,248.31 L80.65,248.55 L81.1,248.81 L81.55,249.08 L82,249.37 L82.45,249.68 L82.9,250.01 L83.35,250.35 L83.8,250.71 L84.25,251.07 L84.7,251.45 L85.15,251.85 L85.6,252.25 L86.05,252.66 L86.5,253.09 L86.95,253.52 L87.4,253.96 L87.85,254.4 L88.3,254.86 L88.75,255.31 L89.2,255.78 L89.65,256.24 L90.1,256.71 L90.55,257.18 L91,257.66 L91.45,258.13 L91.9,258.61 L92.35,259.08 L92.8,259.56 L93.25,260.03 L93.7,260.5 L94.15,260.97 L94.6,261.44 L95.05,261.91 L95.5,262.37 L95.95,262.83 L96.4,263.28 L96.85,263.73 L97.3,264.17 L97.75,264.61 L98.2,265.05 L98.65,265.48 L99.1,265.9 L99.55,266.32 L100,266.73 L100.45,267.14 L100.9,267.54 L101.35,267.93 L101.8,268.32 L102.25,268.71 L102.7,269.09 L103.15,269.46 L103.6,269.83 L104.05,270.19 L104.5,270.54 L104.95,270.89 L105.4,271.24 L105.85,271.58 L106.3,271.92 L106.75,272.25 L107.2,272.58 L107.65,272.9 L108.1,273.22 L108.55,273.54 L109,273.85 L109.45,274.16 L109.9,274.47 L110.35,274.77 L110.8,275.07 L111.25,275.37 L111.7,275.67 L112.15,275.96 L112.6,276.26 L113.05,276.55 L113.5,276.84 L113.95,277.13 L114.4,277.42 L114.85,277.71 L115.3,278 L115.75,278.28 L116.2,278.57 L116.65,278.86 L117.1,279.15 L117.55,279.44 L118,279.72 L118.45,280.01 L118.9,280.3 L119.35,280.59 L119.8,280.88 L120.25,281.18 L120.7,281.47 L121.15,281.76 L121.6,282.06 L122.05,282.35 L122.5,282.65 L122.95,282.95 L123.4,283.24 L123.85,283.54 L124.3,283.85 L124.75,284.15 L125.2,284.45 L125.65,284.75 L126.1,285.06 L126.55,285.36 L127,285.67 L127.45,285.98 L127.9,286.28 L128.35,286.59 L128.8,286.9 L129.25,287.21 L129.7,287.51 L130.15,287.82 L130.6,288.13 L131.05,288.44 L131.5,288.75 L131.95,289.06 L132.4,289.36 L132.85,289.67 L133.3,289.98 L133.75,290.28 L134.2,290.59 L134.65,290.89 L135.1,291.19 L135.55,291.49 L136,291.79 L136.45,292.09 L136.9,292.38 L137.35,292.68 L137.8,292.97 L138.25,293.26 L138.7,293.55 L139.15,293.84 L139.6,294.12 L140.05,294.4 L140.5,294.68 L140.95,294.96 L141.4,295.23 L141.85,295.5 L142.3,295.77 L142.75,296.03 L143.2,296.3 L143.65,296.56 L144.1,296.81 L144.55,297.06 L145,297.31 L145.45,297.56 L145.9,297.8 L146.35,298.04 L146.8,298.28 L147.25,298.51 L147.7,298.74 L148.15,298.96 L148.6,299.19 L149.05,299.4 L149.5,299.62 L149.95,299.83 L150.4,300.04 L150.85,300.24 L151.3,300.44 L151.75,300.63 L152.2,300.83 L152.65,301.02 L153.1,301.2 L153.55,301.38 L154,301.56 L154.45,301.73 L154.9,301.9 L155.35,302.07 L155.8,302.24 L156.25,302.4 L156.7,302.55 L157.15,302.7 L157.6,302.85 L158.05,303 L158.5,303.14 L158.95,303.28 L159.4,303.42 L159.85,303.55 L160.3,303.68 L160.75,303.81 L161.2,303.93 L161.65,304.06 L162.1,304.17 L162.55,304.29 L163,304.4 L163.45,304.51 L163.9,304.62 L164.35,304.72 L164.8,304.82 L165.25,304.92 L165.7,305.02 L166.15,305.11 L166.6,305.2 L167.05,305.29 L167.5,305.38 L167.95,305.46 L168.4,305.55 L168.85,305.63 L169.3,305.71 L169.75,305.78 L170.2,305.86 L170.65,305.93 L171.1,306 L171.55,306.07 L172,306.13 L172.45,306.2 L172.9,306.26 L173.35,306.32 L173.8,306.38 L174.25,306.44 L174.7,306.5 L175.15,306.56 L175.6,306.61 L176.05,306.66 L176.5,306.71 L176.95,306.76 L177.4,306.81 L177.85,306.86 L178.3,306.91 L178.75,306.96 L179.2,307 L179.65,307.04 L180.1,307.09 L180.55,307.13 L181,307.17 L181.45,307.21 L181.9,307.25 L182.35,307.29 L182.8,307.32 L183.25,307.36 L183.7,307.4 L184.15,307.43 L184.6,307.47 L185.05,307.5 L185.5,307.53 L185.95,307.57 L186.4,307.6 L186.85,307.63 L187.3,307.66 L187.75,307.69 L188.2,307.72 L188.65,307.75 L189.1,307.78 L189.55,307.81 L190,307.84 L190.45,307.87 L190.9,307.89 L191.35,307.92 L191.8,307.95 L192.25,307.97 L192.7,308 L193.15,308.02 L193.6,308.05 L194.05,308.08 L194.5,308.1 L194.95,308.12 L195.4,308.15 L195.85,308.17 L196.3,308.2 L196.75,308.22 L197.2,308.24 L197.65,308.27 L198.1,308.29 L198.55,308.31 L199,308.33 L199.45,308.36 L199.9,308.38 L200.35,308.4 L200.8,308.42 L201.25,308.44 L201.7,308.47 L202.15,308.49 L202.6,308.51 L203.05,308.53 L203.5,308.55 L203.95,308.57 L204.4,308.59 L204.85,308.61 L205.3,308.63 L205.75,308.65 L206.2,308.67 L206.65,308.69 L207.1,308.71 L207.55,308.73 L208,308.75 L208.45,308.77 L208.9,308.79 L209.35,308.81 L209.8,308.83 L210.25,308.85 L210.7,308.87 L211.15,308.89 L211.6,308.91 L212.05,308.92 L212.5,308.94 L212.95,308.96 L213.4,308.98 L213.85,309 L214.3,309.02 L214.75,309.04 L215.2,309.05" stroke="#ea4a4f" stroke-width="1.25" fill="none" stroke-linejoin="round"/>
<path d="M46.45,202.24 L46.9,203.35 L47.35,204.73 L47.8,206.37 L48.25,208.23 L48.7,210.29 L49.15,212.52 L49.6,214.88 L50.05,217.34 L50.5,219.88 L50.95,222.45 L51.4,225.02 L51.85,227.59 L52.3,230.1 L52.75,232.55 L53.2,234.92 L53.65,237.18 L54.1,239.31 L54.55,241.31 L55,243.17 L55.45,244.86 L55.9,246.4 L56.35,247.76 L56.8,248.94 L57.25,249.95 L57.7,250.78 L58.15,251.43 L58.6,251.91 L59.05,252.23 L59.5,252.4 L59.95,252.42 L60.4,252.31 L60.85,252.09 L61.3,251.78 L61.75,251.38 L62.2,250.91 L62.65,250.4 L63.1,249.84 L63.55,249.26 L64,248.65 L64.45,248.05 L64.9,247.44 L65.35,246.83 L65.8,246.24 L66.25,245.65 L66.7,245.09 L67.15,244.54 L67.6,244.01 L68.05,243.5 L68.5,243.01 L68.95,242.54 L69.4,242.09 L69.85,241.67 L70.3,241.28 L70.75,240.91 L71.2,240.57 L71.65,240.25 L72.1,239.96 L72.55,239.7 L73,239.47 L73.45,239.26 L73.9,239.09 L74.35,238.94 L74.8,238.82 L75.25,238.74 L75.7,238.68 L76.15,238.65 L76.6,238.64 L77.05,238.67 L77.5,238.72 L77.95,238.81 L78.4,238.91 L78.85,239.05 L79.3,239.21 L79.75,239.4 L80.2,239.61 L80.65,239.84 L81.1,240.1 L81.55,240.39 L82,240.69 L82.45,241.01 L82.9,241.36 L83.35,241.72 L83.8,242.11 L84.25,242.51 L84.7,242.93 L85.15,243.36 L85.6,243.81 L86.05,244.27 L86.5,244.74 L86.95,245.23 L87.4,245.73 L87.85,246.24 L88.3,246.75 L88.75,247.28 L89.2,247.81 L89.65,248.35 L90.1,248.9 L90.55,249.44 L91,250 L91.45,250.55 L91.9,251.11 L92.35,251.67 L92.8,252.23 L93.25,252.79 L93.7,253.36 L94.15,253.91 L94.6,254.47 L95.05,255.03 L95.5,255.58 L95.95,256.13 L96.4,256.67 L96.85,257.21 L97.3,257.75 L97.75,258.28 L98.2,258.8 L98.65,259.32 L99.1,259.84 L99.55,260.35 L100,260.85 L100.45,261.34 L100.9,261.83 L101.35,262.31 L101.8,262.79 L102.25,263.26 L102.7,263.72 L103.15,264.18 L103.6,264.62 L104.05,265.07 L104.5,265.5 L104.95,265.93 L105.4,266.36 L105.85,266.77 L106.3,267.18 L106.75,267.59 L107.2,267.99 L107.65,268.39 L108.1,268.78 L108.55,269.16 L109,269.54 L109.45,269.92 L109.9,270.29 L110.35,270.66 L110.8,271.03 L111.25,271.39 L111.7,271.75 L112.15,272.11 L112.6,272.46 L113.05,272.81 L113.5,273.16 L113.95,273.51 L114.4,273.86 L114.85,274.2 L115.3,274.55 L115.75,274.89 L116.2,275.23 L116.65,275.57 L117.1,275.91 L117.55,276.25 L118,276.59 L118.45,276.94 L118.9,277.28 L119.35,277.62 L119.8,277.96 L120.25,278.3 L120.7,278.64 L121.15,278.99 L121.6,279.33 L122.05,279.67 L122.5,280.02 L122.95,280.37 L123.4,280.71 L123.85,281.06 L124.3,281.41 L124.75,281.76 L125.2,282.11 L125.65,282.46 L126.1,282.81 L126.55,283.16 L127,283.51 L127.45,283.86 L127.9,284.21 L128.35,284.57 L128.8,284.92 L129.25,285.27 L129.7,285.63 L130.15,285.98 L130.6,286.33 L131.05,286.68 L131.5,287.03 L131.95,287.38 L132.4,287.73 L132.85,288.08 L133.3,288.43 L133.75,288.77 L134.2,289.12 L134.65,289.46 L135.1,289.8 L135.55,290.14 L136,290.48 L136.45,290.82 L136.9,291.15 L137.35,291.48 L137.8,291.81 L138.25,292.14 L138.7,292.46 L139.15,292.78 L139.6,293.1 L140.05,293.42 L140.5,293.73 L140.95,294.04 L141.4,294.34 L141.85,294.64 L142.3,294.94 L142.75,295.24 L143.2,295.53 L143.65,295.82 L144.1,296.1 L144.55,296.38 L145,296.66 L145.45,296.93 L145.9,297.2 L146.35,297.46 L146.8,297.72 L147.25,297.98 L147.7,298.23 L148.15,298.48 L148.6,298.72 L149.05,298.96 L149.5,299.19 L149.95,299.42 L150.4,299.65 L150.85,299.87 L151.3,300.09 L151.75,300.3 L152.2,300.51 L152.65,300.71 L153.1,300.91 L153.55,301.11 L154,301.3 L154.45,301.49 L154.9,301.67 L155.35,301.85 L155.8,302.03 L156.25,302.2 L156.7,302.37 L157.15,302.53 L157.6,302.69 L158.05,302.85 L158.5,303 L158.95,303.15 L159.4,303.29 L159.85,303.43 L160.3,303.57 L160.75,303.71 L161.2,303.84 L161.65,303.96 L162.1,304.09 L162.55,304.21 L163,304.33 L163.45,304.44 L163.9,304.55 L164.35,304.66 L164.8,304.77 L165.25,304.87 L165.7,304.97 L166.15,305.07 L166.6,305.16 L167.05,305.25 L167.5,305.34 L167.95,305.43 L168.4,305.52 L168.85,305.6 L169.3,305.68 L169.75,305.76 L170.2,305.83 L170.65,305.91 L171.1,305.98 L171.55,306.05 L172,306.12 L172.45,306.18 L172.9,306.25 L173.35,306.31 L173.8,306.37 L174.25,306.43 L174.7,306.49 L175.15,306.54 L175.6,306.6 L176.05,306.65 L176.5,306.7 L176.95,306.75 L177.4,306.8 L177.85,306.85 L178.3,306.9 L178.75,306.94 L179.2,306.99 L179.65,307.03 L180.1,307.08 L180.55,307.12 L181,307.16 L181.45,307.2 L181.9,307.24 L182.35,307.27 L182.8,307.31 L183.25,307.35 L183.7,307.38 L184.15,307.42 L184.6,307.45 L185.05,307.49 L185.5,307.52 L185.95,307.55 L186.4,307.58 L186.85,307.62 L187.3,307.65 L187.75,307.68 L188.2,307.71 L188.65,307.74 L189.1,307.76 L189.55,307.79 L190,307.82 L190.45,307.85 L190.9,307.88 L191.35,307.9 L191.8,307.93 L192.25,307.95 L192.7,307.98 L193.15,308.01 L193.6,308.03 L194.05,308.06 L194.5,308.08 L194.95,308.1 L195.4,308.13 L195.85,308.15 L196.3,308.18 L196.75,308.2 L197.2,308.22 L197.65,308.25 L198.1,308.27 L198.55,308.29 L199,308.31 L199.45,308.33 L199.9,308.36 L200.35,308.38 L200.8,308.4 L201.25,308.42 L201.7,308.44 L202.15,308.46 L202.6,308.48 L203.05,308.51 L203.5,308.53 L203.95,308.55 L204.4,308.57 L204.85,308.59 L205.3,308.61 L205.75,308.63 L206.2,308.65 L206.65,308.67 L207.1,308.69 L207.55,308.71 L208,308.73 L208.45,308.75 L208.9,308.77 L209.35,308.79 L209.8,308.81 L210.25,308.82 L210.7,308.84 L211.15,308.86 L211.6,308.88 L212.05,308.9 L212.5,308.92 L212.95,308.94 L213.4,308.96 L213.85,308.98 L214.3,308.99 L214.75,309.01 L215.2,309.03" stroke="#2f72c8" stroke-width="1.25" fill="none" stroke-linejoin="round"/>
<path d="M46.45,201.77 L46.9,202.93 L47.35,204.35 L47.8,206 L48.25,207.87 L48.7,209.92 L49.15,212.12 L49.6,214.44 L50.05,216.84 L50.5,219.3 L50.95,221.78 L51.4,224.26 L51.85,226.71 L52.3,229.11 L52.75,231.44 L53.2,233.66 L53.65,235.78 L54.1,237.76 L54.55,239.6 L55,241.29 L55.45,242.81 L55.9,244.16 L56.35,245.33 L56.8,246.31 L57.25,247.11 L57.7,247.73 L58.15,248.18 L58.6,248.45 L59.05,248.56 L59.5,248.53 L59.95,248.35 L60.4,248.06 L60.85,247.67 L61.3,247.18 L61.75,246.63 L62.2,246.01 L62.65,245.36 L63.1,244.67 L63.55,243.96 L64,243.24 L64.45,242.51 L64.9,241.78 L65.35,241.06 L65.8,240.35 L66.25,239.66 L66.7,238.98 L67.15,238.31 L67.6,237.67 L68.05,237.05 L68.5,236.45 L68.95,235.87 L69.4,235.32 L69.85,234.8 L70.3,234.3 L70.75,233.83 L71.2,233.39 L71.65,232.99 L72.1,232.61 L72.55,232.26 L73,231.95 L73.45,231.67 L73.9,231.42 L74.35,231.21 L74.8,231.03 L75.25,230.88 L75.7,230.76 L76.15,230.68 L76.6,230.63 L77.05,230.62 L77.5,230.64 L77.95,230.69 L78.4,230.77 L78.85,230.88 L79.3,231.02 L79.75,231.2 L80.2,231.4 L80.65,231.63 L81.1,231.89 L81.55,232.18 L82,232.49 L82.45,232.83 L82.9,233.2 L83.35,233.59 L83.8,234 L84.25,234.43 L84.7,234.88 L85.15,235.35 L85.6,235.84 L86.05,236.35 L86.5,236.87 L86.95,237.41 L87.4,237.96 L87.85,238.53 L88.3,239.11 L88.75,239.7 L89.2,240.3 L89.65,240.91 L90.1,241.52 L90.55,242.14 L91,242.77 L91.45,243.4 L91.9,244.04 L92.35,244.68 L92.8,245.32 L93.25,245.97 L93.7,246.61 L94.15,247.25 L94.6,247.89 L95.05,248.53 L95.5,249.17 L95.95,249.81 L96.4,250.44 L96.85,251.06 L97.3,251.69 L97.75,252.3 L98.2,252.91 L98.65,253.52 L99.1,254.12 L99.55,254.71 L100,255.3 L100.45,255.87 L100.9,256.45 L101.35,257.01 L101.8,257.57 L102.25,258.12 L102.7,258.66 L103.15,259.19 L103.6,259.72 L104.05,260.24 L104.5,260.75 L104.95,261.25 L105.4,261.75 L105.85,262.24 L106.3,262.72 L106.75,263.19 L107.2,263.66 L107.65,264.13 L108.1,264.58 L108.55,265.04 L109,265.48 L109.45,265.92 L109.9,266.36 L110.35,266.79 L110.8,267.21 L111.25,267.64 L111.7,268.05 L112.15,268.47 L112.6,268.88 L113.05,269.29 L113.5,269.69 L113.95,270.09 L114.4,270.49 L114.85,270.89 L115.3,271.29 L115.75,271.68 L116.2,272.08 L116.65,272.47 L117.1,272.86 L117.55,273.25 L118,273.64 L118.45,274.03 L118.9,274.42 L119.35,274.81 L119.8,275.2 L120.25,275.59 L120.7,275.98 L121.15,276.37 L121.6,276.76 L122.05,277.15 L122.5,277.54 L122.95,277.93 L123.4,278.32 L123.85,278.71 L124.3,279.11 L124.75,279.5 L125.2,279.89 L125.65,280.29 L126.1,280.68 L126.55,281.08 L127,281.47 L127.45,281.87 L127.9,282.26 L128.35,282.66 L128.8,283.05 L129.25,283.45 L129.7,283.84 L130.15,284.24 L130.6,284.63 L131.05,285.02 L131.5,285.41 L131.95,285.8 L132.4,286.19 L132.85,286.58 L133.3,286.97 L133.75,287.35 L134.2,287.73 L134.65,288.12 L135.1,288.49 L135.55,288.87 L136,289.25 L136.45,289.62 L136.9,289.99 L137.35,290.35 L137.8,290.72 L138.25,291.08 L138.7,291.43 L139.15,291.79 L139.6,292.14 L140.05,292.49 L140.5,292.83 L140.95,293.17 L141.4,293.5 L141.85,293.83 L142.3,294.16 L142.75,294.49 L143.2,294.8 L143.65,295.12 L144.1,295.43 L144.55,295.74 L145,296.04 L145.45,296.33 L145.9,296.63 L146.35,296.91 L146.8,297.2 L147.25,297.47 L147.7,297.75 L148.15,298.01 L148.6,298.28 L149.05,298.54 L149.5,298.79 L149.95,299.04 L150.4,299.28 L150.85,299.52 L151.3,299.75 L151.75,299.98 L152.2,300.21 L152.65,300.43 L153.1,300.64 L153.55,300.85 L154,301.06 L154.45,301.26 L154.9,301.46 L155.35,301.65 L155.8,301.83 L156.25,302.02 L156.7,302.19 L157.15,302.37 L157.6,302.54 L158.05,302.7 L158.5,302.86 L158.95,303.02 L159.4,303.17 L159.85,303.32 L160.3,303.47 L160.75,303.61 L161.2,303.74 L161.65,303.88 L162.1,304.01 L162.55,304.13 L163,304.26 L163.45,304.38 L163.9,304.49 L164.35,304.61 L164.8,304.72 L165.25,304.82 L165.7,304.93 L166.15,305.03 L166.6,305.12 L167.05,305.22 L167.5,305.31 L167.95,305.4 L168.4,305.49 L168.85,305.57 L169.3,305.65 L169.75,305.73 L170.2,305.81 L170.65,305.89 L171.1,305.96 L171.55,306.03 L172,306.1 L172.45,306.17 L172.9,306.23 L173.35,306.3 L173.8,306.36 L174.25,306.42 L174.7,306.48 L175.15,306.53 L175.6,306.59 L176.05,306.64 L176.5,306.69 L176.95,306.74 L177.4,306.79 L177.85,306.84 L178.3,306.89 L178.75,306.93 L179.2,306.98 L179.65,307.02 L180.1,307.07 L180.55,307.11 L181,307.15 L181.45,307.19 L181.9,307.23 L182.35,307.26 L182.8,307.3 L183.25,307.34 L183.7,307.37 L184.15,307.41 L184.6,307.44 L185.05,307.47 L185.5,307.51 L185.95,307.54 L186.4,307.57 L186.85,307.6 L187.3,307.63 L187.75,307.66 L188.2,307.69 L188.65,307.72 L189.1,307.75 L189.55,307.78 L190,307.8 L190.45,307.83 L190.9,307.86 L191.35,307.89 L191.8,307.91 L192.25,307.94 L192.7,307.96 L193.15,307.99 L193.6,308.01 L194.05,308.04 L194.5,308.06 L194.95,308.09 L195.4,308.11 L195.85,308.13 L196.3,308.16 L196.75,308.18 L197.2,308.2 L197.65,308.22 L198.1,308.25 L198.55,308.27 L199,308.29 L199.45,308.31 L199.9,308.34 L200.35,308.36 L200.8,308.38 L201.25,308.4 L201.7,308.42 L202.15,308.44 L202.6,308.46 L203.05,308.48 L203.5,308.5 L203.95,308.53 L204.4,308.55 L204.85,308.57 L205.3,308.59 L205.75,308.61 L206.2,308.63 L206.65,308.65 L207.1,308.67 L207.55,308.69 L208,308.71 L208.45,308.72 L208.9,308.74 L209.35,308.76 L209.8,308.78 L210.25,308.8 L210.7,308.82 L211.15,308.84 L211.6,308.86 L212.05,308.88 L212.5,308.9 L212.95,308.92 L213.4,308.93 L213.85,308.95 L214.3,308.97 L214.75,308.99 L215.2,309.01" stroke="#3ea86f" stroke-width="1.25" fill="none" stroke-linejoin="round"/>
<path d="M46.45,200.98 L46.9,202.23 L47.35,203.71 L47.8,205.4 L48.25,207.27 L48.7,209.29 L49.15,211.43 L49.6,213.66 L50.05,215.95 L50.5,218.26 L50.95,220.58 L51.4,222.86 L51.85,225.09 L52.3,227.23 L52.75,229.28 L53.2,231.21 L53.65,233.01 L54.1,234.65 L54.55,236.14 L55,237.45 L55.45,238.59 L55.9,239.55 L56.35,240.34 L56.8,240.94 L57.25,241.37 L57.7,241.63 L58.15,241.74 L58.6,241.69 L59.05,241.51 L59.5,241.21 L59.95,240.8 L60.4,240.28 L60.85,239.69 L61.3,239.02 L61.75,238.29 L62.2,237.51 L62.65,236.69 L63.1,235.84 L63.55,234.97 L64,234.09 L64.45,233.2 L64.9,232.3 L65.35,231.4 L65.8,230.51 L66.25,229.63 L66.7,228.77 L67.15,227.92 L67.6,227.09 L68.05,226.28 L68.5,225.49 L68.95,224.74 L69.4,224.01 L69.85,223.31 L70.3,222.64 L70.75,222.01 L71.2,221.41 L71.65,220.85 L72.1,220.32 L72.55,219.84 L73,219.39 L73.45,218.98 L73.9,218.61 L74.35,218.28 L74.8,217.99 L75.25,217.75 L75.7,217.54 L76.15,217.38 L76.6,217.25 L77.05,217.17 L77.5,217.12 L77.95,217.12 L78.4,217.16 L78.85,217.23 L79.3,217.35 L79.75,217.5 L80.2,217.69 L80.65,217.91 L81.1,218.18 L81.55,218.47 L82,218.8 L82.45,219.16 L82.9,219.56 L83.35,219.98 L83.8,220.44 L84.25,220.92 L84.7,221.43 L85.15,221.97 L85.6,222.53 L86.05,223.11 L86.5,223.72 L86.95,224.35 L87.4,224.99 L87.85,225.66 L88.3,226.34 L88.75,227.03 L89.2,227.74 L89.65,228.47 L90.1,229.2 L90.55,229.94 L91,230.7 L91.45,231.46 L91.9,232.23 L92.35,233 L92.8,233.77 L93.25,234.55 L93.7,235.34 L94.15,236.12 L94.6,236.9 L95.05,237.69 L95.5,238.47 L95.95,239.24 L96.4,240.02 L96.85,240.79 L97.3,241.56 L97.75,242.32 L98.2,243.07 L98.65,243.82 L99.1,244.56 L99.55,245.29 L100,246.02 L100.45,246.74 L100.9,247.45 L101.35,248.15 L101.8,248.84 L102.25,249.52 L102.7,250.2 L103.15,250.86 L103.6,251.52 L104.05,252.16 L104.5,252.8 L104.95,253.43 L105.4,254.05 L105.85,254.66 L106.3,255.26 L106.75,255.85 L107.2,256.43 L107.65,257.01 L108.1,257.58 L108.55,258.14 L109,258.69 L109.45,259.24 L109.9,259.78 L110.35,260.31 L110.8,260.84 L111.25,261.36 L111.7,261.88 L112.15,262.39 L112.6,262.89 L113.05,263.39 L113.5,263.89 L113.95,264.39 L114.4,264.88 L114.85,265.36 L115.3,265.85 L115.75,266.33 L116.2,266.81 L116.65,267.29 L117.1,267.76 L117.55,268.24 L118,268.71 L118.45,269.18 L118.9,269.65 L119.35,270.12 L119.8,270.59 L120.25,271.06 L120.7,271.52 L121.15,271.99 L121.6,272.46 L122.05,272.93 L122.5,273.39 L122.95,273.86 L123.4,274.33 L123.85,274.8 L124.3,275.26 L124.75,275.73 L125.2,276.2 L125.65,276.67 L126.1,277.14 L126.55,277.6 L127,278.07 L127.45,278.54 L127.9,279 L128.35,279.47 L128.8,279.93 L129.25,280.4 L129.7,280.86 L130.15,281.33 L130.6,281.79 L131.05,282.25 L131.5,282.71 L131.95,283.16 L132.4,283.62 L132.85,284.07 L133.3,284.53 L133.75,284.97 L134.2,285.42 L134.65,285.87 L135.1,286.31 L135.55,286.74 L136,287.18 L136.45,287.61 L136.9,288.04 L137.35,288.47 L137.8,288.89 L138.25,289.3 L138.7,289.72 L139.15,290.13 L139.6,290.53 L140.05,290.93 L140.5,291.33 L140.95,291.72 L141.4,292.1 L141.85,292.48 L142.3,292.86 L142.75,293.23 L143.2,293.59 L143.65,293.95 L144.1,294.31 L144.55,294.66 L145,295 L145.45,295.34 L145.9,295.67 L146.35,296 L146.8,296.32 L147.25,296.63 L147.7,296.94 L148.15,297.24 L148.6,297.54 L149.05,297.83 L149.5,298.12 L149.95,298.4 L150.4,298.67 L150.85,298.94 L151.3,299.2 L151.75,299.46 L152.2,299.71 L152.65,299.95 L153.1,300.19 L153.55,300.42 L154,300.65 L154.45,300.87 L154.9,301.09 L155.35,301.3 L155.8,301.51 L156.25,301.71 L156.7,301.9 L157.15,302.09 L157.6,302.28 L158.05,302.46 L158.5,302.64 L158.95,302.81 L159.4,302.97 L159.85,303.13 L160.3,303.29 L160.75,303.44 L161.2,303.59 L161.65,303.73 L162.1,303.87 L162.55,304.01 L163,304.14 L163.45,304.27 L163.9,304.39 L164.35,304.51 L164.8,304.63 L165.25,304.74 L165.7,304.85 L166.15,304.96 L166.6,305.06 L167.05,305.16 L167.5,305.26 L167.95,305.35 L168.4,305.44 L168.85,305.53 L169.3,305.61 L169.75,305.7 L170.2,305.78 L170.65,305.85 L171.1,305.93 L171.55,306 L172,306.07 L172.45,306.14 L172.9,306.21 L173.35,306.27 L173.8,306.34 L174.25,306.4 L174.7,306.46 L175.15,306.51 L175.6,306.57 L176.05,306.62 L176.5,306.68 L176.95,306.73 L177.4,306.78 L177.85,306.83 L178.3,306.87 L178.75,306.92 L179.2,306.96 L179.65,307.01 L180.1,307.05 L180.55,307.09 L181,307.13 L181.45,307.17 L181.9,307.21 L182.35,307.24 L182.8,307.28 L183.25,307.32 L183.7,307.35 L184.15,307.39 L184.6,307.42 L185.05,307.45 L185.5,307.49 L185.95,307.52 L186.4,307.55 L186.85,307.58 L187.3,307.61 L187.75,307.64 L188.2,307.67 L188.65,307.7 L189.1,307.72 L189.55,307.75 L190,307.78 L190.45,307.8 L190.9,307.83 L191.35,307.86 L191.8,307.88 L192.25,307.91 L192.7,307.93 L193.15,307.96 L193.6,307.98 L194.05,308.01 L194.5,308.03 L194.95,308.05 L195.4,308.08 L195.85,308.1 L196.3,308.12 L196.75,308.15 L197.2,308.17 L197.65,308.19 L198.1,308.21 L198.55,308.24 L199,308.26 L199.45,308.28 L199.9,308.3 L200.35,308.32 L200.8,308.34 L201.25,308.36 L201.7,308.39 L202.15,308.41 L202.6,308.43 L203.05,308.45 L203.5,308.47 L203.95,308.49 L204.4,308.51 L204.85,308.53 L205.3,308.55 L205.75,308.57 L206.2,308.59 L206.65,308.61 L207.1,308.63 L207.55,308.65 L208,308.67 L208.45,308.69 L208.9,308.71 L209.35,308.73 L209.8,308.75 L210.25,308.76 L210.7,308.78 L211.15,308.8 L211.6,308.82 L212.05,308.84 L212.5,308.86 L212.95,308.88 L213.4,308.9 L213.85,308.91 L214.3,308.93 L214.75,308.95 L215.2,308.97" stroke="#a47bd6" stroke-width="1.25" fill="none" stroke-linejoin="round"/>
</g>
<rect x="46.45" y="178.4" width="168.75" height="136.05" fill="none" stroke="#111" stroke-width="1.15"/>
<path d="M46.45,314.45 V317.05 M102.7,314.45 V317.05 M158.95,314.45 V317.05 M215.2,314.45 V317.05 M74.58,314.45 V315.95 M130.82,314.45 V315.95 M187.07,314.45 V315.95" stroke="#000" stroke-width="1.0" fill="none"/>
<text x="46.45" y="326.45" font-size="9.5" text-anchor="middle" >500</text>
<text x="102.7" y="326.45" font-size="9.5" text-anchor="middle" >550</text>
<text x="158.95" y="326.45" font-size="9.5" text-anchor="middle" >600</text>
<text x="215.2" y="326.45" font-size="9.5" text-anchor="middle" >650</text>
<path d="M46.45,314.45 H43.85 M46.45,269.1 H43.85 M46.45,223.75 H43.85 M46.45,178.4 H43.85 M46.45,291.77 H44.95 M46.45,246.43 H44.95 M46.45,201.07 H44.95" stroke="#000" stroke-width="1.0" fill="none"/>
<text x="41.6" y="317.85" font-size="9.5" text-anchor="end" >0</text>
<text x="41.6" y="272.5" font-size="9.5" text-anchor="end" >1000</text>
<text x="41.6" y="227.15" font-size="9.5" text-anchor="end" >2000</text>
<text x="41.6" y="181.8" font-size="9.5" text-anchor="end" >3000</text>
<text x="130.8" y="338.65" font-size="9.6" text-anchor="middle" >Wavelength (nm)</text>
<text transform="translate(14.7,243.7) rotate(-90)" x="0" y="0" font-size="9.6" text-anchor="middle">Intensity (arb. units)</text>
<path d="M141.9,191 H162" stroke="#7a7a7a" stroke-width="1.8"/>
<text x="164.4" y="193.9" font-size="8.3">0 &#160; W cm<tspan font-size="6.2" dy="-3.0">-2</tspan></text>
<path d="M141.9,203.6 H162" stroke="#ea4a4f" stroke-width="1.1"/>
<text x="164.4" y="206.5" font-size="8.3">0.6 W cm<tspan font-size="6.2" dy="-3.0">-2</tspan></text>
<path d="M141.9,216.4 H162" stroke="#2f72c8" stroke-width="1.1"/>
<text x="164.4" y="219.3" font-size="8.3">0.9 W cm<tspan font-size="6.2" dy="-3.0">-2</tspan></text>
<path d="M141.9,228.6 H162" stroke="#3ea86f" stroke-width="1.1"/>
<text x="164.4" y="231.5" font-size="8.3">1.2 W cm<tspan font-size="6.2" dy="-3.0">-2</tspan></text>
<path d="M141.9,241.5 H162" stroke="#a47bd6" stroke-width="1.1"/>
<text x="164.4" y="244.4" font-size="8.3">1.5 W cm<tspan font-size="6.2" dy="-3.0">-2</tspan></text>
<clipPath id="c508178"><rect x="508.45" y="178.4" width="168.75" height="136.05"/></clipPath>
<g clip-path="url(#c508178)">
<path d="M508.45,209 L510.27,207.39 L512.1,205.83 L513.92,204.34 L515.75,202.93 L517.57,201.6 L519.4,200.38 L521.22,199.28 L523.04,198.31 L524.87,197.52 L526.69,196.91 L528.52,196.51 L530.34,196.35 L532.17,196.46 L533.99,196.85 L535.81,197.53 L537.64,198.52 L539.46,199.84 L541.29,201.46 L543.11,203.4 L544.94,205.63 L546.76,208.14 L548.59,210.9 L550.41,213.89 L552.23,217.05 L554.06,220.37 L555.88,223.8 L557.71,227.3 L559.53,230.83 L561.36,234.37 L563.18,237.87 L565,241.32 L566.83,244.67 L568.65,247.93 L570.48,251.06 L572.3,254.06 L574.13,256.93 L575.95,259.65 L577.77,262.22 L579.6,264.65 L581.42,266.94 L583.25,269.09 L585.07,271.12 L586.9,273.01 L588.72,274.79 L590.54,276.46 L592.37,278.03 L594.19,279.49 L596.02,280.86 L597.84,282.14 L599.67,283.33 L601.49,284.45 L603.31,285.49 L605.14,286.46 L606.96,287.36 L608.79,288.2 L610.61,288.97 L612.44,289.69 L614.26,290.36 L616.09,290.97 L617.91,291.53 L619.73,292.05 L621.56,292.52 L623.38,292.96 L625.21,293.36 L627.03,293.72 L628.86,294.04 L630.68,294.34 L632.5,294.61 L634.33,294.85 L636.15,295.07 L637.98,295.27 L639.8,295.45 L641.63,295.61 L643.45,295.75 L645.27,295.88 L647.1,295.99 L648.92,296.09 L650.75,296.18 L652.57,296.26 L654.4,296.32 L656.22,296.39 L658.04,296.44 L659.87,296.49 L661.69,296.53 L663.52,296.56 L665.34,296.59 L667.17,296.62 L668.99,296.65 L670.81,296.67 L672.64,296.68 L674.46,296.7 L676.29,296.71" stroke="#f47f2e" stroke-width="1.25" fill="none" stroke-linejoin="round"/>
<path d="M508.45,234.59 L510.27,233.75 L512.1,232.91 L513.92,232.09 L515.75,231.29 L517.57,230.53 L519.4,229.82 L521.22,229.19 L523.04,228.64 L524.87,228.2 L526.69,227.89 L528.52,227.72 L530.34,227.71 L532.17,227.87 L533.99,228.23 L535.81,228.79 L537.64,229.56 L539.46,230.54 L541.29,231.73 L543.11,233.13 L544.94,234.72 L546.76,236.5 L548.59,238.44 L550.41,240.52 L552.23,242.72 L554.06,245.02 L555.88,247.38 L557.71,249.8 L559.53,252.23 L561.36,254.65 L563.18,257.06 L565,259.42 L566.83,261.72 L568.65,263.95 L570.48,266.1 L572.3,268.16 L574.13,270.13 L575.95,272.01 L577.77,273.78 L579.6,275.46 L581.42,277.05 L583.25,278.54 L585.07,279.95 L586.9,281.27 L588.72,282.51 L590.54,283.68 L592.37,284.77 L594.19,285.8 L596.02,286.76 L597.84,287.65 L599.67,288.49 L601.49,289.28 L603.31,290.01 L605.14,290.69 L606.96,291.32 L608.79,291.91 L610.61,292.45 L612.44,292.95 L614.26,293.42 L616.09,293.85 L617.91,294.24 L619.73,294.6 L621.56,294.93 L623.38,295.24 L625.21,295.51 L627.03,295.76 L628.86,295.99 L630.68,296.2 L632.5,296.38 L634.33,296.55 L636.15,296.7 L637.98,296.84 L639.8,296.96 L641.63,297.07 L643.45,297.17 L645.27,297.25 L647.1,297.33 L648.92,297.4 L650.75,297.46 L652.57,297.51 L654.4,297.56 L656.22,297.6 L658.04,297.64 L659.87,297.67 L661.69,297.7 L663.52,297.72 L665.34,297.74 L667.17,297.76 L668.99,297.78 L670.81,297.79 L672.64,297.8 L674.46,297.81 L676.29,297.82" stroke="#5cbd68" stroke-width="1.25" fill="none" stroke-linejoin="round"/>
<path d="M508.45,254.91 L510.27,253.89 L512.1,252.93 L513.92,252.02 L515.75,251.17 L517.57,250.39 L519.4,249.68 L521.22,249.06 L523.04,248.53 L524.87,248.1 L526.69,247.79 L528.52,247.6 L530.34,247.55 L532.17,247.64 L533.99,247.88 L535.81,248.28 L537.64,248.83 L539.46,249.55 L541.29,250.42 L543.11,251.44 L544.94,252.6 L546.76,253.9 L548.59,255.31 L550.41,256.82 L552.23,258.41 L554.06,260.07 L555.88,261.78 L557.71,263.51 L559.53,265.26 L561.36,267.01 L563.18,268.73 L565,270.43 L566.83,272.09 L568.65,273.69 L570.48,275.24 L572.3,276.73 L574.13,278.15 L575.95,279.51 L577.77,280.8 L579.6,282.02 L581.42,283.18 L583.25,284.27 L585.07,285.3 L586.9,286.28 L588.72,287.19 L590.54,288.05 L592.37,288.86 L594.19,289.62 L596.02,290.33 L597.84,291 L599.67,291.62 L601.49,292.2 L603.31,292.74 L605.14,293.25 L606.96,293.72 L608.79,294.15 L610.61,294.56 L612.44,294.93 L614.26,295.27 L616.09,295.59 L617.91,295.88 L619.73,296.15 L621.56,296.39 L623.38,296.62 L625.21,296.82 L627.03,297 L628.86,297.17 L630.68,297.32 L632.5,297.46 L634.33,297.58 L636.15,297.69 L637.98,297.79 L639.8,297.88 L641.63,297.96 L643.45,298.03 L645.27,298.09 L647.1,298.15 L648.92,298.19 L650.75,298.24 L652.57,298.28 L654.4,298.31 L656.22,298.34 L658.04,298.37 L659.87,298.39 L661.69,298.41 L663.52,298.42 L665.34,298.44 L667.17,298.45 L668.99,298.46 L670.81,298.47 L672.64,298.48 L674.46,298.49 L676.29,298.49" stroke="#7b5fc4" stroke-width="1.25" fill="none" stroke-linejoin="round"/>
<path d="M508.45,272.45 L510.27,271.77 L512.1,271.14 L513.92,270.55 L515.75,270.02 L517.57,269.55 L519.4,269.14 L521.22,268.82 L523.04,268.57 L524.87,268.41 L526.69,268.34 L528.52,268.36 L530.34,268.48 L532.17,268.7 L533.99,269.01 L535.81,269.42 L537.64,269.93 L539.46,270.52 L541.29,271.19 L543.11,271.94 L544.94,272.76 L546.76,273.63 L548.59,274.55 L550.41,275.51 L552.23,276.5 L554.06,277.51 L555.88,278.52 L557.71,279.53 L559.53,280.54 L561.36,281.54 L563.18,282.51 L565,283.46 L566.83,284.38 L568.65,285.27 L570.48,286.13 L572.3,286.95 L574.13,287.74 L575.95,288.5 L577.77,289.21 L579.6,289.9 L581.42,290.55 L583.25,291.17 L585.07,291.75 L586.9,292.3 L588.72,292.83 L590.54,293.32 L592.37,293.79 L594.19,294.23 L596.02,294.64 L597.84,295.03 L599.67,295.39 L601.49,295.73 L603.31,296.04 L605.14,296.34 L606.96,296.61 L608.79,296.87 L610.61,297.1 L612.44,297.32 L614.26,297.51 L616.09,297.7 L617.91,297.86 L619.73,298.02 L621.56,298.15 L623.38,298.28 L625.21,298.4 L627.03,298.5 L628.86,298.59 L630.68,298.68 L632.5,298.75 L634.33,298.82 L636.15,298.88 L637.98,298.94 L639.8,298.98 L641.63,299.03 L643.45,299.07 L645.27,299.1 L647.1,299.13 L648.92,299.15 L650.75,299.18 L652.57,299.2 L654.4,299.21 L656.22,299.23 L658.04,299.24 L659.87,299.25 L661.69,299.26 L663.52,299.27 L665.34,299.28 L667.17,299.29 L668.99,299.29 L670.81,299.3 L672.64,299.3 L674.46,299.3 L676.29,299.31" stroke="#3f7fd2" stroke-width="1.25" fill="none" stroke-linejoin="round"/>
<path d="M508.45,274.57 L510.27,273.99 L512.1,273.44 L513.92,272.92 L515.75,272.44 L517.57,272 L519.4,271.61 L521.22,271.28 L523.04,271.01 L524.87,270.8 L526.69,270.67 L528.52,270.62 L530.34,270.65 L532.17,270.76 L533.99,270.96 L535.81,271.25 L537.64,271.62 L539.46,272.08 L541.29,272.63 L543.11,273.24 L544.94,273.93 L546.76,274.68 L548.59,275.48 L550.41,276.33 L552.23,277.21 L554.06,278.12 L555.88,279.05 L557.71,279.99 L559.53,280.92 L561.36,281.86 L563.18,282.78 L565,283.68 L566.83,284.56 L568.65,285.42 L570.48,286.25 L572.3,287.05 L574.13,287.82 L575.95,288.56 L577.77,289.26 L579.6,289.93 L581.42,290.58 L583.25,291.19 L585.07,291.77 L586.9,292.32 L588.72,292.84 L590.54,293.33 L592.37,293.79 L594.19,294.23 L596.02,294.64 L597.84,295.03 L599.67,295.39 L601.49,295.73 L603.31,296.05 L605.14,296.34 L606.96,296.61 L608.79,296.87 L610.61,297.1 L612.44,297.32 L614.26,297.51 L616.09,297.7 L617.91,297.86 L619.73,298.02 L621.56,298.15 L623.38,298.28 L625.21,298.4 L627.03,298.5 L628.86,298.59 L630.68,298.68 L632.5,298.75 L634.33,298.82 L636.15,298.88 L637.98,298.94 L639.8,298.98 L641.63,299.03 L643.45,299.07 L645.27,299.1 L647.1,299.13 L648.92,299.15 L650.75,299.18 L652.57,299.2 L654.4,299.21 L656.22,299.23 L658.04,299.24 L659.87,299.25 L661.69,299.26 L663.52,299.27 L665.34,299.28 L667.17,299.29 L668.99,299.29 L670.81,299.3 L672.64,299.3 L674.46,299.3 L676.29,299.31" stroke="#a556b8" stroke-width="1.25" fill="none" stroke-linejoin="round"/>
</g>
<rect x="508.45" y="178.4" width="168.75" height="136.05" fill="none" stroke="#111" stroke-width="1.15"/>
<path d="M517.57,314.45 V317.05 M563.18,314.45 V317.05 M608.79,314.45 V317.05 M654.4,314.45 V317.05 M540.38,314.45 V315.95 M585.98,314.45 V315.95 M631.59,314.45 V315.95 M677.2,314.45 V315.95" stroke="#000" stroke-width="1.0" fill="none"/>
<text x="517.57" y="326.45" font-size="9.5" text-anchor="middle" >505</text>
<text x="563.18" y="326.45" font-size="9.5" text-anchor="middle" >515</text>
<text x="608.79" y="326.45" font-size="9.5" text-anchor="middle" >525</text>
<text x="654.4" y="326.45" font-size="9.5" text-anchor="middle" >535</text>
<path d="M508.45,301.9 H505.85 M508.45,277.2 H505.85 M508.45,252.5 H505.85 M508.45,227.8 H505.85 M508.45,203.1 H505.85 M508.45,178.4 H505.85 M508.45,289.55 H506.95 M508.45,264.85 H506.95 M508.45,240.15 H506.95 M508.45,215.45 H506.95 M508.45,190.75 H506.95 M508.45,314.25 H506.95" stroke="#000" stroke-width="1.0" fill="none"/>
<text x="503.5" y="305.3" font-size="9.5" text-anchor="end" >0</text>
<text x="503.5" y="280.6" font-size="9.5" text-anchor="end" >1000</text>
<text x="503.5" y="255.9" font-size="9.5" text-anchor="end" >2000</text>
<text x="503.5" y="231.2" font-size="9.5" text-anchor="end" >3000</text>
<text x="503.5" y="206.5" font-size="9.5" text-anchor="end" >4000</text>
<text x="503.5" y="181.8" font-size="9.5" text-anchor="end" >5000</text>
<text x="592.6" y="338.65" font-size="9.6" text-anchor="middle" >Wavelength (nm)</text>
<text transform="translate(476.6,241.5) rotate(-90)" x="0" y="0" font-size="9.6" text-anchor="middle">Intensity (arb. units)</text>
<text x="514" y="189.7" font-size="8.4" text-anchor="start" >pH 6.5</text>
<path d="M568,186.5 H588" stroke="#f47f2e" stroke-width="1.1"/>
<text x="590" y="189.4" font-size="8.4">Zn/Pt SATs+US+H<tspan font-size="6.3" dy="2.4">2</tspan><tspan dy="-2.4">O</tspan><tspan font-size="6.3" dy="2.4">2</tspan></text>
<path d="M568,200.1 H588" stroke="#5cbd68" stroke-width="1.1"/>
<text x="590" y="203" font-size="8.4">Zn/Pt SATs+US</text>
<path d="M568,211.5 H588" stroke="#7b5fc4" stroke-width="1.1"/>
<text x="590" y="214.4" font-size="8.4">Zn/Pt SATs+H<tspan font-size="6.3" dy="2.4">2</tspan><tspan dy="-2.4">O</tspan><tspan font-size="6.3" dy="2.4">2</tspan></text>
<path d="M568,225.3 H588" stroke="#3f7fd2" stroke-width="1.1"/>
<text x="590" y="228.2" font-size="8.4">H<tspan font-size="6.3" dy="2.4">2</tspan><tspan dy="-2.4">O</tspan><tspan font-size="6.3" dy="2.4">2</tspan></text>
<path d="M568,238.6 H588" stroke="#a556b8" stroke-width="1.1"/>
<text x="590" y="241.5" font-size="8.4">Zn/Pt SATs</text>
</svg>
</body></html>
